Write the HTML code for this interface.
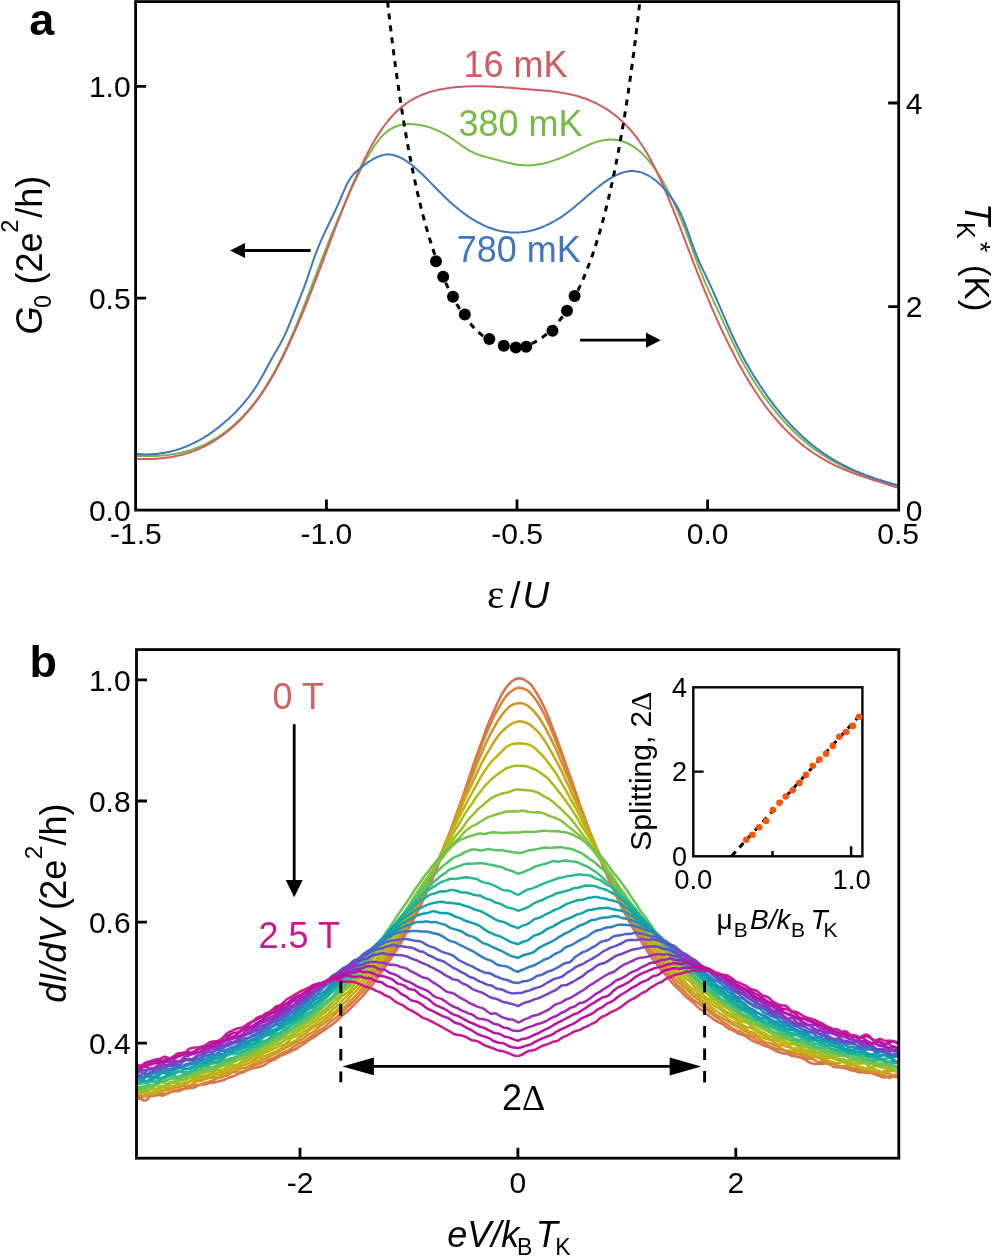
<!DOCTYPE html><html><head><meta charset="utf-8"><title>Figure</title><style>html,body{margin:0;padding:0;background:#fff;}svg{display:block;will-change:transform;font-family:"Liberation Sans",sans-serif;}</style></head><body>
<svg width="992" height="1256" viewBox="0 0 992 1256">
<rect width="992" height="1256" fill="#fff"/>
<g fill="none" stroke-width="2" stroke-linejoin="round">
<path d="M137.0 455.9 L138.5 456.0 L140.0 456.0 L141.5 456.1 L143.0 456.1 L144.5 456.1 L146.0 456.1 L147.5 456.1 L149.0 456.1 L150.5 456.1 L152.0 456.0 L153.5 456.0 L155.0 455.9 L156.5 455.9 L158.0 455.8 L159.5 455.7 L161.0 455.6 L162.5 455.5 L164.0 455.3 L165.5 455.2 L167.0 455.0 L168.5 454.8 L170.0 454.6 L171.5 454.4 L173.0 454.2 L174.5 453.9 L176.0 453.7 L177.5 453.4 L179.0 453.1 L180.5 452.7 L182.0 452.4 L183.5 452.0 L185.0 451.7 L186.5 451.3 L188.0 450.8 L189.5 450.4 L191.0 449.9 L192.5 449.4 L194.0 448.9 L195.5 448.3 L197.0 447.8 L198.5 447.2 L200.0 446.6 L201.5 445.9 L203.0 445.3 L204.5 444.6 L206.0 443.8 L207.5 443.1 L209.0 442.3 L210.5 441.5 L212.0 440.7 L213.5 439.8 L215.0 438.9 L216.5 438.0 L218.0 437.0 L219.5 436.1 L221.0 435.0 L222.5 434.0 L224.0 432.9 L225.5 431.8 L227.0 430.6 L228.5 429.5 L230.0 428.2 L231.5 427.0 L233.0 425.7 L234.5 424.4 L236.0 423.0 L237.5 421.6 L239.0 420.2 L240.5 418.7 L242.0 417.2 L243.5 415.6 L245.0 414.0 L246.5 412.4 L248.0 410.7 L249.5 408.9 L251.0 407.1 L252.5 405.3 L254.0 403.4 L255.5 401.5 L257.0 399.5 L258.5 397.4 L260.0 395.3 L261.5 393.1 L263.0 390.9 L264.5 388.6 L266.0 386.2 L267.5 383.8 L269.0 381.3 L270.5 378.7 L272.0 376.1 L273.5 373.5 L275.0 370.7 L276.5 367.9 L278.0 365.0 L279.5 362.1 L281.0 359.1 L282.5 356.1 L284.0 353.0 L285.5 349.8 L287.0 346.6 L288.5 343.3 L290.0 339.9 L291.5 336.5 L293.0 333.1 L294.5 329.6 L296.0 326.0 L297.5 322.4 L299.0 318.7 L300.5 315.0 L302.0 311.2 L303.5 307.4 L305.0 303.5 L306.5 299.6 L308.0 295.7 L309.5 291.8 L311.0 287.9 L312.5 283.9 L314.0 279.9 L315.5 276.0 L317.0 272.0 L318.5 268.1 L320.0 264.1 L321.5 260.2 L323.0 256.3 L324.5 252.4 L326.0 248.5 L327.5 244.7 L329.0 240.9 L330.5 237.2 L332.0 233.5 L333.5 229.9 L335.0 226.3 L336.5 222.8 L338.0 219.2 L339.5 215.8 L341.0 212.3 L342.5 208.9 L344.0 205.5 L345.5 202.1 L347.0 198.8 L348.5 195.5 L350.0 192.2 L351.5 188.9 L353.0 185.7 L354.5 182.5 L356.0 179.3 L357.5 176.2 L359.0 173.2 L360.5 170.2 L362.0 167.2 L363.5 164.3 L365.0 161.5 L366.5 158.8 L368.0 156.2 L369.5 153.6 L371.0 151.2 L372.5 148.8 L374.0 146.5 L375.5 144.3 L377.0 142.3 L378.5 140.3 L380.0 138.5 L381.5 136.8 L383.0 135.2 L384.5 133.8 L386.0 132.4 L387.5 131.2 L389.0 130.1 L390.5 129.2 L392.0 128.3 L393.5 127.5 L395.0 126.8 L396.5 126.2 L398.0 125.7 L399.5 125.2 L401.0 124.9 L402.5 124.6 L404.0 124.4 L405.5 124.2 L407.0 124.1 L408.5 124.1 L410.0 124.1 L411.5 124.1 L413.0 124.2 L414.5 124.4 L416.0 124.5 L417.5 124.7 L419.0 124.9 L420.5 125.2 L422.0 125.5 L423.5 125.8 L425.0 126.1 L426.5 126.5 L428.0 126.9 L429.5 127.4 L431.0 127.9 L432.5 128.4 L434.0 129.0 L435.5 129.6 L437.0 130.2 L438.5 130.9 L440.0 131.6 L441.5 132.3 L443.0 133.1 L444.5 133.9 L446.0 134.8 L447.5 135.7 L449.0 136.6 L450.5 137.6 L452.0 138.6 L453.5 139.6 L455.0 140.7 L456.5 141.8 L458.0 142.9 L459.5 143.9 L461.0 145.0 L462.5 146.1 L464.0 147.1 L465.5 148.1 L467.0 149.1 L468.5 150.0 L470.0 150.9 L471.5 151.7 L473.0 152.4 L474.5 153.1 L476.0 153.7 L477.5 154.3 L479.0 154.9 L480.5 155.3 L482.0 155.8 L483.5 156.2 L485.0 156.7 L486.5 157.1 L488.0 157.5 L489.5 157.9 L491.0 158.3 L492.5 158.7 L494.0 159.1 L495.5 159.5 L497.0 159.9 L498.5 160.3 L500.0 160.7 L501.5 161.1 L503.0 161.5 L504.5 161.9 L506.0 162.3 L507.5 162.6 L509.0 163.0 L510.5 163.3 L512.0 163.6 L513.5 163.9 L515.0 164.2 L516.5 164.4 L518.0 164.7 L519.5 164.9 L521.0 165.0 L522.5 165.2 L524.0 165.3 L525.5 165.3 L527.0 165.4 L528.5 165.4 L530.0 165.3 L531.5 165.3 L533.0 165.1 L534.5 165.0 L536.0 164.8 L537.5 164.6 L539.0 164.4 L540.5 164.1 L542.0 163.8 L543.5 163.5 L545.0 163.1 L546.5 162.7 L548.0 162.3 L549.5 161.9 L551.0 161.4 L552.5 161.0 L554.0 160.4 L555.5 159.9 L557.0 159.4 L558.5 158.8 L560.0 158.2 L561.5 157.6 L563.0 157.0 L564.5 156.4 L566.0 155.7 L567.5 155.0 L569.0 154.4 L570.5 153.7 L572.0 153.0 L573.5 152.2 L575.0 151.5 L576.5 150.8 L578.0 150.0 L579.5 149.3 L581.0 148.5 L582.5 147.8 L584.0 147.1 L585.5 146.4 L587.0 145.7 L588.5 145.0 L590.0 144.4 L591.5 143.7 L593.0 143.2 L594.5 142.6 L596.0 142.1 L597.5 141.6 L599.0 141.2 L600.5 140.9 L602.0 140.5 L603.5 140.2 L605.0 140.0 L606.5 139.8 L608.0 139.7 L609.5 139.6 L611.0 139.6 L612.5 139.6 L614.0 139.7 L615.5 139.9 L617.0 140.1 L618.5 140.4 L620.0 140.7 L621.5 141.1 L623.0 141.5 L624.5 142.1 L626.0 142.7 L627.5 143.3 L629.0 144.0 L630.5 144.8 L632.0 145.7 L633.5 146.7 L635.0 147.7 L636.5 148.8 L638.0 150.0 L639.5 151.2 L641.0 152.5 L642.5 154.0 L644.0 155.5 L645.5 157.0 L647.0 158.7 L648.5 160.4 L650.0 162.3 L651.5 164.2 L653.0 166.2 L654.5 168.3 L656.0 170.4 L657.5 172.7 L659.0 175.0 L660.5 177.4 L662.0 180.0 L663.5 182.6 L665.0 185.2 L666.5 188.0 L668.0 190.9 L669.5 193.8 L671.0 196.8 L672.5 199.9 L674.0 203.1 L675.5 206.4 L677.0 209.8 L678.5 213.2 L680.0 216.8 L681.5 220.4 L683.0 224.1 L684.5 227.9 L686.0 231.8 L687.5 235.7 L689.0 239.7 L690.5 243.9 L692.0 248.0 L693.5 252.3 L695.0 256.5 L696.5 260.6 L698.0 264.7 L699.5 268.7 L701.0 272.5 L702.5 276.2 L704.0 279.8 L705.5 283.3 L707.0 286.7 L708.5 290.1 L710.0 293.3 L711.5 296.6 L713.0 299.8 L714.5 303.0 L716.0 306.2 L717.5 309.4 L719.0 312.6 L720.5 315.8 L722.0 319.1 L723.5 322.4 L725.0 325.7 L726.5 328.9 L728.0 332.2 L729.5 335.5 L731.0 338.7 L732.5 341.9 L734.0 345.0 L735.5 348.1 L737.0 351.1 L738.5 354.1 L740.0 357.0 L741.5 359.9 L743.0 362.6 L744.5 365.4 L746.0 368.0 L747.5 370.6 L749.0 373.2 L750.5 375.7 L752.0 378.1 L753.5 380.5 L755.0 382.9 L756.5 385.2 L758.0 387.5 L759.5 389.8 L761.0 392.0 L762.5 394.2 L764.0 396.3 L765.5 398.4 L767.0 400.4 L768.5 402.5 L770.0 404.5 L771.5 406.4 L773.0 408.3 L774.5 410.2 L776.0 412.1 L777.5 413.9 L779.0 415.7 L780.5 417.4 L782.0 419.1 L783.5 420.8 L785.0 422.5 L786.5 424.1 L788.0 425.7 L789.5 427.3 L791.0 428.8 L792.5 430.3 L794.0 431.8 L795.5 433.2 L797.0 434.6 L798.5 436.0 L800.0 437.4 L801.5 438.7 L803.0 440.0 L804.5 441.3 L806.0 442.6 L807.5 443.8 L809.0 445.0 L810.5 446.2 L812.0 447.3 L813.5 448.5 L815.0 449.6 L816.5 450.7 L818.0 451.7 L819.5 452.8 L821.0 453.8 L822.5 454.8 L824.0 455.7 L825.5 456.7 L827.0 457.6 L828.5 458.5 L830.0 459.4 L831.5 460.3 L833.0 461.2 L834.5 462.0 L836.0 462.8 L837.5 463.6 L839.0 464.4 L840.5 465.2 L842.0 465.9 L843.5 466.6 L845.0 467.4 L846.5 468.1 L848.0 468.7 L849.5 469.4 L851.0 470.1 L852.5 470.7 L854.0 471.3 L855.5 472.0 L857.0 472.6 L858.5 473.2 L860.0 473.7 L861.5 474.3 L863.0 474.9 L864.5 475.4 L866.0 476.0 L867.5 476.5 L869.0 477.0 L870.5 477.5 L872.0 478.0 L873.5 478.5 L875.0 479.0 L876.5 479.5 L878.0 480.0 L879.5 480.4 L881.0 480.9 L882.5 481.3 L884.0 481.8 L885.5 482.2 L887.0 482.7 L888.5 483.1 L890.0 483.5 L891.5 484.0 L893.0 484.4 L894.5 484.8 L896.0 485.2 L897.5 485.6" stroke="#74bb45"/>
<path d="M137.0 459.0 L138.5 459.0 L140.0 459.1 L141.5 459.1 L143.0 459.1 L144.5 459.1 L146.0 459.1 L147.5 459.1 L149.0 459.0 L150.5 459.0 L152.0 458.9 L153.5 458.9 L155.0 458.8 L156.5 458.7 L158.0 458.6 L159.5 458.5 L161.0 458.3 L162.5 458.2 L164.0 458.0 L165.5 457.8 L167.0 457.6 L168.5 457.4 L170.0 457.2 L171.5 457.0 L173.0 456.7 L174.5 456.4 L176.0 456.1 L177.5 455.8 L179.0 455.4 L180.5 455.1 L182.0 454.7 L183.5 454.3 L185.0 453.9 L186.5 453.4 L188.0 453.0 L189.5 452.5 L191.0 452.0 L192.5 451.4 L194.0 450.9 L195.5 450.3 L197.0 449.7 L198.5 449.1 L200.0 448.4 L201.5 447.7 L203.0 447.0 L204.5 446.3 L206.0 445.5 L207.5 444.7 L209.0 443.9 L210.5 443.1 L212.0 442.2 L213.5 441.3 L215.0 440.4 L216.5 439.4 L218.0 438.4 L219.5 437.4 L221.0 436.3 L222.5 435.3 L224.0 434.1 L225.5 433.0 L227.0 431.8 L228.5 430.6 L230.0 429.4 L231.5 428.1 L233.0 426.8 L234.5 425.4 L236.0 424.0 L237.5 422.6 L239.0 421.2 L240.5 419.7 L242.0 418.1 L243.5 416.5 L245.0 414.9 L246.5 413.3 L248.0 411.6 L249.5 409.8 L251.0 408.0 L252.5 406.2 L254.0 404.3 L255.5 402.3 L257.0 400.3 L258.5 398.3 L260.0 396.2 L261.5 394.0 L263.0 391.8 L264.5 389.5 L266.0 387.2 L267.5 384.8 L269.0 382.4 L270.5 379.9 L272.0 377.3 L273.5 374.7 L275.0 372.0 L276.5 369.2 L278.0 366.5 L279.5 363.6 L281.0 360.7 L282.5 357.7 L284.0 354.7 L285.5 351.6 L287.0 348.5 L288.5 345.4 L290.0 342.1 L291.5 338.9 L293.0 335.5 L294.5 332.2 L296.0 328.7 L297.5 325.3 L299.0 321.7 L300.5 318.2 L302.0 314.6 L303.5 310.9 L305.0 307.2 L306.5 303.5 L308.0 299.8 L309.5 296.0 L311.0 292.1 L312.5 288.3 L314.0 284.4 L315.5 280.5 L317.0 276.6 L318.5 272.7 L320.0 268.8 L321.5 264.8 L323.0 260.8 L324.5 256.9 L326.0 252.9 L327.5 248.9 L329.0 244.9 L330.5 240.9 L332.0 236.9 L333.5 232.9 L335.0 229.0 L336.5 225.0 L338.0 221.1 L339.5 217.2 L341.0 213.3 L342.5 209.5 L344.0 205.7 L345.5 201.9 L347.0 198.2 L348.5 194.5 L350.0 190.9 L351.5 187.4 L353.0 183.9 L354.5 180.4 L356.0 177.1 L357.5 173.7 L359.0 170.5 L360.5 167.3 L362.0 164.1 L363.5 161.1 L365.0 158.1 L366.5 155.1 L368.0 152.2 L369.5 149.4 L371.0 146.7 L372.5 144.0 L374.0 141.5 L375.5 138.9 L377.0 136.5 L378.5 134.1 L380.0 131.9 L381.5 129.7 L383.0 127.5 L384.5 125.5 L386.0 123.5 L387.5 121.6 L389.0 119.8 L390.5 118.0 L392.0 116.3 L393.5 114.7 L395.0 113.2 L396.5 111.7 L398.0 110.3 L399.5 108.9 L401.0 107.6 L402.5 106.4 L404.0 105.2 L405.5 104.0 L407.0 103.0 L408.5 101.9 L410.0 101.0 L411.5 100.0 L413.0 99.2 L414.5 98.3 L416.0 97.5 L417.5 96.8 L419.0 96.1 L420.5 95.4 L422.0 94.8 L423.5 94.2 L425.0 93.6 L426.5 93.1 L428.0 92.6 L429.5 92.1 L431.0 91.7 L432.5 91.3 L434.0 90.9 L435.5 90.5 L437.0 90.2 L438.5 89.8 L440.0 89.5 L441.5 89.2 L443.0 89.0 L444.5 88.7 L446.0 88.5 L447.5 88.2 L449.0 88.0 L450.5 87.8 L452.0 87.6 L453.5 87.5 L455.0 87.3 L456.5 87.1 L458.0 87.0 L459.5 86.9 L461.0 86.8 L462.5 86.7 L464.0 86.6 L465.5 86.5 L467.0 86.4 L468.5 86.4 L470.0 86.3 L471.5 86.3 L473.0 86.3 L474.5 86.2 L476.0 86.2 L477.5 86.2 L479.0 86.2 L480.5 86.2 L482.0 86.3 L483.5 86.3 L485.0 86.3 L486.5 86.4 L488.0 86.4 L489.5 86.5 L491.0 86.5 L492.5 86.6 L494.0 86.7 L495.5 86.8 L497.0 86.9 L498.5 87.0 L500.0 87.0 L501.5 87.1 L503.0 87.2 L504.5 87.4 L506.0 87.5 L507.5 87.6 L509.0 87.7 L510.5 87.8 L512.0 87.9 L513.5 88.0 L515.0 88.2 L516.5 88.3 L518.0 88.4 L519.5 88.5 L521.0 88.7 L522.5 88.8 L524.0 88.9 L525.5 89.1 L527.0 89.2 L528.5 89.3 L530.0 89.4 L531.5 89.6 L533.0 89.7 L534.5 89.8 L536.0 89.9 L537.5 90.0 L539.0 90.2 L540.5 90.3 L542.0 90.4 L543.5 90.5 L545.0 90.7 L546.5 90.8 L548.0 91.0 L549.5 91.1 L551.0 91.3 L552.5 91.5 L554.0 91.6 L555.5 91.8 L557.0 92.0 L558.5 92.3 L560.0 92.5 L561.5 92.7 L563.0 93.0 L564.5 93.2 L566.0 93.5 L567.5 93.8 L569.0 94.1 L570.5 94.4 L572.0 94.8 L573.5 95.1 L575.0 95.5 L576.5 95.9 L578.0 96.3 L579.5 96.8 L581.0 97.3 L582.5 97.7 L584.0 98.2 L585.5 98.8 L587.0 99.3 L588.5 99.9 L590.0 100.5 L591.5 101.2 L593.0 101.8 L594.5 102.5 L596.0 103.2 L597.5 104.0 L599.0 104.8 L600.5 105.6 L602.0 106.4 L603.5 107.3 L605.0 108.2 L606.5 109.2 L608.0 110.2 L609.5 111.2 L611.0 112.2 L612.5 113.3 L614.0 114.4 L615.5 115.6 L617.0 116.8 L618.5 118.1 L620.0 119.4 L621.5 120.7 L623.0 122.1 L624.5 123.6 L626.0 125.1 L627.5 126.7 L629.0 128.3 L630.5 130.0 L632.0 131.7 L633.5 133.6 L635.0 135.4 L636.5 137.4 L638.0 139.4 L639.5 141.5 L641.0 143.7 L642.5 146.0 L644.0 148.3 L645.5 150.7 L647.0 153.2 L648.5 155.8 L650.0 158.5 L651.5 161.3 L653.0 164.1 L654.5 167.1 L656.0 170.1 L657.5 173.2 L659.0 176.4 L660.5 179.7 L662.0 183.0 L663.5 186.4 L665.0 189.9 L666.5 193.4 L668.0 197.0 L669.5 200.6 L671.0 204.3 L672.5 208.0 L674.0 211.8 L675.5 215.6 L677.0 219.4 L678.5 223.3 L680.0 227.2 L681.5 231.1 L683.0 235.0 L684.5 238.9 L686.0 242.9 L687.5 246.8 L689.0 250.8 L690.5 254.7 L692.0 258.7 L693.5 262.6 L695.0 266.5 L696.5 270.3 L698.0 274.1 L699.5 277.9 L701.0 281.7 L702.5 285.4 L704.0 289.1 L705.5 292.8 L707.0 296.4 L708.5 299.9 L710.0 303.5 L711.5 307.0 L713.0 310.4 L714.5 313.8 L716.0 317.2 L717.5 320.6 L719.0 323.9 L720.5 327.1 L722.0 330.3 L723.5 333.5 L725.0 336.7 L726.5 339.8 L728.0 342.8 L729.5 345.9 L731.0 348.8 L732.5 351.8 L734.0 354.7 L735.5 357.6 L737.0 360.4 L738.5 363.2 L740.0 365.9 L741.5 368.6 L743.0 371.2 L744.5 373.9 L746.0 376.4 L747.5 379.0 L749.0 381.5 L750.5 383.9 L752.0 386.3 L753.5 388.7 L755.0 391.0 L756.5 393.3 L758.0 395.5 L759.5 397.7 L761.0 399.9 L762.5 402.0 L764.0 404.1 L765.5 406.1 L767.0 408.1 L768.5 410.0 L770.0 412.0 L771.5 413.8 L773.0 415.7 L774.5 417.5 L776.0 419.2 L777.5 421.0 L779.0 422.7 L780.5 424.3 L782.0 426.0 L783.5 427.5 L785.0 429.1 L786.5 430.6 L788.0 432.1 L789.5 433.6 L791.0 435.0 L792.5 436.4 L794.0 437.8 L795.5 439.1 L797.0 440.4 L798.5 441.7 L800.0 443.0 L801.5 444.2 L803.0 445.4 L804.5 446.5 L806.0 447.7 L807.5 448.8 L809.0 449.9 L810.5 451.0 L812.0 452.0 L813.5 453.0 L815.0 454.0 L816.5 455.0 L818.0 455.9 L819.5 456.9 L821.0 457.8 L822.5 458.7 L824.0 459.5 L825.5 460.4 L827.0 461.2 L828.5 462.0 L830.0 462.8 L831.5 463.6 L833.0 464.3 L834.5 465.1 L836.0 465.8 L837.5 466.5 L839.0 467.2 L840.5 467.9 L842.0 468.5 L843.5 469.2 L845.0 469.8 L846.5 470.4 L848.0 471.0 L849.5 471.6 L851.0 472.2 L852.5 472.8 L854.0 473.4 L855.5 473.9 L857.0 474.5 L858.5 475.0 L860.0 475.5 L861.5 476.1 L863.0 476.6 L864.5 477.1 L866.0 477.6 L867.5 478.1 L869.0 478.6 L870.5 479.1 L872.0 479.5 L873.5 480.0 L875.0 480.5 L876.5 481.0 L878.0 481.4 L879.5 481.9 L881.0 482.4 L882.5 482.9 L884.0 483.3 L885.5 483.8 L887.0 484.3 L888.5 484.7 L890.0 485.2 L891.5 485.7 L893.0 486.2 L894.5 486.6 L896.0 487.1 L897.5 487.6" stroke="#d25a60"/>
<path d="M137.0 454.0 L138.5 454.1 L140.0 454.2 L141.5 454.3 L143.0 454.3 L144.5 454.4 L146.0 454.4 L147.5 454.4 L149.0 454.3 L150.5 454.3 L152.0 454.2 L153.5 454.1 L155.0 454.0 L156.5 453.9 L158.0 453.7 L159.5 453.5 L161.0 453.3 L162.5 453.1 L164.0 452.9 L165.5 452.6 L167.0 452.3 L168.5 452.0 L170.0 451.7 L171.5 451.3 L173.0 450.9 L174.5 450.5 L176.0 450.1 L177.5 449.6 L179.0 449.1 L180.5 448.6 L182.0 448.1 L183.5 447.5 L185.0 447.0 L186.5 446.4 L188.0 445.7 L189.5 445.1 L191.0 444.4 L192.5 443.7 L194.0 443.0 L195.5 442.2 L197.0 441.4 L198.5 440.6 L200.0 439.8 L201.5 438.9 L203.0 438.1 L204.5 437.2 L206.0 436.2 L207.5 435.3 L209.0 434.3 L210.5 433.2 L212.0 432.2 L213.5 431.1 L215.0 430.0 L216.5 428.9 L218.0 427.7 L219.5 426.6 L221.0 425.3 L222.5 424.1 L224.0 422.8 L225.5 421.5 L227.0 420.2 L228.5 418.9 L230.0 417.5 L231.5 416.1 L233.0 414.6 L234.5 413.2 L236.0 411.7 L237.5 410.1 L239.0 408.5 L240.5 406.9 L242.0 405.2 L243.5 403.5 L245.0 401.7 L246.5 399.9 L248.0 398.0 L249.5 396.1 L251.0 394.0 L252.5 391.9 L254.0 389.8 L255.5 387.5 L257.0 385.2 L258.5 382.8 L260.0 380.2 L261.5 377.6 L263.0 374.9 L264.5 372.2 L266.0 369.3 L267.5 366.5 L269.0 363.7 L270.5 360.9 L272.0 358.2 L273.5 355.6 L275.0 353.1 L276.5 350.5 L278.0 347.9 L279.5 345.2 L281.0 342.5 L282.5 339.6 L284.0 336.6 L285.5 333.3 L287.0 330.0 L288.5 326.5 L290.0 322.9 L291.5 319.2 L293.0 315.5 L294.5 311.7 L296.0 307.9 L297.5 304.1 L299.0 300.3 L300.5 296.5 L302.0 292.7 L303.5 288.8 L305.0 284.8 L306.5 280.6 L308.0 276.3 L309.5 271.8 L311.0 267.3 L312.5 262.8 L314.0 258.5 L315.5 254.4 L317.0 250.4 L318.5 246.7 L320.0 243.1 L321.5 239.6 L323.0 236.3 L324.5 233.0 L326.0 229.8 L327.5 226.7 L329.0 223.6 L330.5 220.5 L332.0 217.4 L333.5 214.3 L335.0 211.1 L336.5 207.9 L338.0 204.6 L339.5 201.2 L341.0 197.8 L342.5 194.2 L344.0 190.7 L345.5 187.3 L347.0 184.2 L348.5 181.4 L350.0 178.9 L351.5 176.8 L353.0 174.9 L354.5 173.2 L356.0 171.8 L357.5 170.4 L359.0 169.2 L360.5 168.0 L362.0 166.8 L363.5 165.7 L365.0 164.6 L366.5 163.5 L368.0 162.4 L369.5 161.4 L371.0 160.5 L372.5 159.6 L374.0 158.7 L375.5 157.9 L377.0 157.2 L378.5 156.6 L380.0 156.0 L381.5 155.5 L383.0 155.1 L384.5 154.8 L386.0 154.6 L387.5 154.5 L389.0 154.5 L390.5 154.6 L392.0 154.8 L393.5 155.1 L395.0 155.5 L396.5 156.0 L398.0 156.6 L399.5 157.2 L401.0 157.9 L402.5 158.7 L404.0 159.6 L405.5 160.5 L407.0 161.5 L408.5 162.6 L410.0 163.7 L411.5 164.8 L413.0 166.0 L414.5 167.3 L416.0 168.6 L417.5 169.9 L419.0 171.3 L420.5 172.7 L422.0 174.1 L423.5 175.5 L425.0 177.0 L426.5 178.5 L428.0 180.0 L429.5 181.6 L431.0 183.1 L432.5 184.6 L434.0 186.2 L435.5 187.7 L437.0 189.2 L438.5 190.8 L440.0 192.3 L441.5 193.8 L443.0 195.3 L444.5 196.7 L446.0 198.2 L447.5 199.6 L449.0 201.0 L450.5 202.3 L452.0 203.7 L453.5 205.0 L455.0 206.3 L456.5 207.5 L458.0 208.8 L459.5 210.0 L461.0 211.1 L462.5 212.3 L464.0 213.4 L465.5 214.5 L467.0 215.6 L468.5 216.6 L470.0 217.6 L471.5 218.6 L473.0 219.5 L474.5 220.4 L476.0 221.3 L477.5 222.1 L479.0 223.0 L480.5 223.7 L482.0 224.5 L483.5 225.2 L485.0 225.9 L486.5 226.6 L488.0 227.2 L489.5 227.8 L491.0 228.3 L492.5 228.8 L494.0 229.3 L495.5 229.8 L497.0 230.2 L498.5 230.6 L500.0 230.9 L501.5 231.2 L503.0 231.5 L504.5 231.8 L506.0 232.0 L507.5 232.1 L509.0 232.3 L510.5 232.4 L512.0 232.5 L513.5 232.5 L515.0 232.5 L516.5 232.5 L518.0 232.5 L519.5 232.4 L521.0 232.3 L522.5 232.1 L524.0 231.9 L525.5 231.7 L527.0 231.5 L528.5 231.2 L530.0 230.9 L531.5 230.5 L533.0 230.1 L534.5 229.7 L536.0 229.3 L537.5 228.8 L539.0 228.3 L540.5 227.7 L542.0 227.2 L543.5 226.5 L545.0 225.9 L546.5 225.2 L548.0 224.5 L549.5 223.8 L551.0 223.0 L552.5 222.2 L554.0 221.4 L555.5 220.5 L557.0 219.6 L558.5 218.7 L560.0 217.8 L561.5 216.8 L563.0 215.8 L564.5 214.7 L566.0 213.6 L567.5 212.5 L569.0 211.4 L570.5 210.2 L572.0 209.0 L573.5 207.8 L575.0 206.6 L576.5 205.3 L578.0 204.0 L579.5 202.8 L581.0 201.5 L582.5 200.2 L584.0 198.9 L585.5 197.6 L587.0 196.3 L588.5 195.0 L590.0 193.7 L591.5 192.4 L593.0 191.2 L594.5 189.9 L596.0 188.7 L597.5 187.5 L599.0 186.3 L600.5 185.1 L602.0 184.0 L603.5 182.9 L605.0 181.8 L606.5 180.8 L608.0 179.8 L609.5 178.8 L611.0 177.9 L612.5 177.1 L614.0 176.2 L615.5 175.5 L617.0 174.8 L618.5 174.1 L620.0 173.5 L621.5 173.0 L623.0 172.5 L624.5 172.1 L626.0 171.7 L627.5 171.5 L629.0 171.3 L630.5 171.1 L632.0 171.1 L633.5 171.1 L635.0 171.2 L636.5 171.4 L638.0 171.7 L639.5 172.0 L641.0 172.4 L642.5 172.9 L644.0 173.5 L645.5 174.1 L647.0 174.8 L648.5 175.6 L650.0 176.5 L651.5 177.5 L653.0 178.5 L654.5 179.6 L656.0 180.8 L657.5 182.1 L659.0 183.5 L660.5 184.9 L662.0 186.4 L663.5 188.0 L665.0 189.7 L666.5 191.5 L668.0 193.3 L669.5 195.3 L671.0 197.3 L672.5 199.4 L674.0 201.6 L675.5 204.0 L677.0 206.5 L678.5 209.1 L680.0 212.1 L681.5 215.2 L683.0 218.6 L684.5 222.3 L686.0 226.3 L687.5 230.5 L689.0 234.7 L690.5 239.1 L692.0 243.3 L693.5 247.5 L695.0 251.5 L696.5 255.2 L698.0 258.8 L699.5 262.3 L701.0 265.6 L702.5 268.8 L704.0 271.9 L705.5 275.1 L707.0 278.2 L708.5 281.4 L710.0 284.6 L711.5 287.9 L713.0 291.2 L714.5 294.6 L716.0 298.0 L717.5 301.4 L719.0 304.9 L720.5 308.3 L722.0 311.8 L723.5 315.3 L725.0 318.7 L726.5 322.2 L728.0 325.6 L729.5 329.0 L731.0 332.3 L732.5 335.6 L734.0 338.9 L735.5 342.1 L737.0 345.2 L738.5 348.2 L740.0 351.2 L741.5 354.1 L743.0 356.9 L744.5 359.7 L746.0 362.4 L747.5 365.0 L749.0 367.6 L750.5 370.2 L752.0 372.7 L753.5 375.2 L755.0 377.6 L756.5 380.0 L758.0 382.3 L759.5 384.7 L761.0 386.9 L762.5 389.2 L764.0 391.4 L765.5 393.5 L767.0 395.7 L768.5 397.8 L770.0 399.8 L771.5 401.9 L773.0 403.8 L774.5 405.8 L776.0 407.7 L777.5 409.6 L779.0 411.5 L780.5 413.3 L782.0 415.1 L783.5 416.8 L785.0 418.6 L786.5 420.3 L788.0 421.9 L789.5 423.6 L791.0 425.2 L792.5 426.7 L794.0 428.3 L795.5 429.8 L797.0 431.3 L798.5 432.8 L800.0 434.2 L801.5 435.6 L803.0 437.0 L804.5 438.3 L806.0 439.6 L807.5 440.9 L809.0 442.2 L810.5 443.5 L812.0 444.7 L813.5 445.9 L815.0 447.0 L816.5 448.2 L818.0 449.3 L819.5 450.4 L821.0 451.5 L822.5 452.6 L824.0 453.6 L825.5 454.6 L827.0 455.6 L828.5 456.6 L830.0 457.5 L831.5 458.5 L833.0 459.4 L834.5 460.3 L836.0 461.1 L837.5 462.0 L839.0 462.8 L840.5 463.6 L842.0 464.4 L843.5 465.2 L845.0 466.0 L846.5 466.7 L848.0 467.5 L849.5 468.2 L851.0 468.9 L852.5 469.6 L854.0 470.3 L855.5 470.9 L857.0 471.6 L858.5 472.2 L860.0 472.8 L861.5 473.4 L863.0 474.0 L864.5 474.6 L866.0 475.2 L867.5 475.7 L869.0 476.3 L870.5 476.8 L872.0 477.3 L873.5 477.9 L875.0 478.4 L876.5 478.9 L878.0 479.4 L879.5 479.8 L881.0 480.3 L882.5 480.8 L884.0 481.3 L885.5 481.7 L887.0 482.2 L888.5 482.6 L890.0 483.0 L891.5 483.5 L893.0 483.9 L894.5 484.3 L896.0 484.7 L897.5 485.1" stroke="#3f76bd"/>
</g>
<defs><clipPath id="ca"><rect x="136.9" y="2.9" width="760.5" height="505.9"/></clipPath></defs>
<g clip-path="url(#ca)" fill="none" stroke="#000" stroke-width="3" stroke-dasharray="6 6"><path d="M387.1 -3.0 L387.5 0.8 L387.9 4.6 L388.3 8.4 L388.8 12.1 L389.2 15.8 L389.6 19.5 L390.0 23.1 L390.4 26.6 L390.9 30.2 L391.3 33.7 L391.7 37.1 L392.1 40.5 L392.6 43.9 L393.0 47.3 L393.4 50.6 L393.8 53.9 L394.3 57.1 L394.7 60.3 L395.1 63.5 L395.5 66.7 L396.0 69.8 L396.4 72.9 L396.8 75.9 L397.2 78.9 L397.6 81.9 L398.1 84.9 L398.5 87.8 L398.9 90.7 L399.3 93.6 L399.8 96.4 L400.2 99.2 L400.6 102.0 L401.0 104.8 L401.5 107.5 L401.9 110.2 L402.3 112.9 L402.7 115.5 L403.1 118.1 L403.6 120.7 L404.0 123.3 L404.4 125.8 L404.8 128.3 L405.3 130.8 L405.7 133.3 L406.1 135.7 L406.5 138.1 L407.0 140.5 L407.4 142.9 L407.8 145.2 L408.2 147.5 L408.7 149.8 L409.1 152.1 L409.5 154.3 L409.9 156.5 L410.3 158.7 L410.8 160.9 L411.2 163.1 L411.6 165.2 L412.0 167.3 L412.5 169.4 L412.9 171.5 L413.3 173.5 L413.7 175.6 L414.2 177.6 L414.6 179.6 L415.0 181.5 L415.4 183.5 L415.9 185.4 L416.3 187.3 L416.7 189.2 L417.1 191.1 L417.5 192.9 L418.0 194.8 L418.4 196.6 L418.8 198.4 L419.2 200.2 L419.7 201.9 L420.1 203.7 L420.5 205.4 L420.9 207.1 L421.4 208.8 L421.8 210.5 L422.2 212.2 L422.6 213.8 L423.0 215.4 L423.5 217.1 L423.9 218.6 L424.3 220.2 L424.7 221.8 L425.2 223.3 L425.6 224.9 L426.0 226.4 L426.4 227.9 L426.9 229.4 L427.3 230.9 L427.7 232.3 L428.1 233.8 L428.6 235.2 L429.0 236.6 L429.4 238.0 L429.8 239.4 L430.2 240.8 L430.7 242.1 L431.1 243.5 L431.5 244.8 L431.9 246.1 L432.4 247.5 L432.8 248.7 L433.2 250.0 L433.6 251.3 L434.1 252.6 L434.5 253.8 L434.9 255.0 L435.3 256.3 L435.7 257.5 L436.2 258.7 L436.6 259.8 L437.0 261.0 L437.4 262.2 L437.9 263.3 L438.3 264.5 L438.7 265.6 L439.1 266.7 L439.6 267.8 L440.0 268.9 L440.4 270.0 L440.8 271.0 L441.3 272.1 L441.7 273.1 L442.1 274.2 L442.5 275.2 L442.9 276.2 L443.4 277.2 L443.8 278.2 L444.2 279.2 L444.6 280.2 L445.1 281.2 L445.5 282.1 L445.9 283.1 L446.3 284.0 L446.8 284.9 L447.2 285.9 L447.6 286.8 L448.0 287.7 L448.4 288.6 L448.9 289.4 L449.3 290.3 L449.7 291.2 L450.1 292.0 L450.6 292.9 L451.0 293.7 L451.4 294.5 L451.8 295.3 L452.3 296.2 L452.7 297.0 L453.1 297.8 L453.5 298.5 L454.0 299.3 L454.4 300.1 L454.8 300.8 L455.2 301.6 L455.6 302.3 L456.1 303.1 L456.5 303.8 L456.9 304.5 L457.3 305.2 L457.8 305.9 L458.2 306.6 L458.6 307.3 L459.0 308.0 L459.5 308.7 L459.9 309.4 L460.3 310.0 L460.7 310.7 L461.1 311.3 L461.6 312.0 L462.0 312.6 L462.4 313.2 L462.8 313.8 L463.3 314.4 L463.7 315.0 L464.1 315.6 L464.5 316.2 L465.0 316.8 L465.4 317.4 L465.8 318.0 L466.2 318.5 L466.7 319.1 L467.1 319.6 L467.5 320.2 L467.9 320.7 L468.3 321.2 L468.8 321.8 L469.2 322.3 L469.6 322.8 L470.0 323.3 L470.5 323.8 L470.9 324.3 L471.3 324.8 L471.7 325.3 L472.2 325.7 L472.6 326.2 L473.0 326.7 L473.4 327.1 L473.9 327.6 L474.3 328.0 L474.7 328.5 L475.1 328.9 L475.5 329.3 L476.0 329.7 L476.4 330.2 L476.8 330.6 L477.2 331.0 L477.7 331.4 L478.1 331.8 L478.5 332.2 L478.9 332.5 L479.4 332.9 L479.8 333.3 L480.2 333.7 L480.6 334.0 L481.0 334.4 L481.5 334.7 L481.9 335.1 L482.3 335.4 L482.7 335.8 L483.2 336.1 L483.6 336.4 L484.0 336.7 L484.4 337.0 L484.9 337.4 L485.3 337.7 L485.7 338.0 L486.1 338.3 L486.6 338.5 L487.0 338.8 L487.4 339.1 L487.8 339.4 L488.2 339.7 L488.7 339.9 L489.1 340.2 L489.5 340.4 L489.9 340.7 L490.4 340.9 L490.8 341.2 L491.2 341.4 L491.6 341.6 L492.1 341.9 L492.5 342.1 L492.9 342.3 L493.3 342.5 L493.7 342.7 L494.2 342.9 L494.6 343.1 L495.0 343.3 L495.4 343.5 L495.9 343.7 L496.3 343.9 L496.7 344.1 L497.1 344.2 L497.6 344.4 L498.0 344.6 L498.4 344.7 L498.8 344.9 L499.3 345.0 L499.7 345.2 L500.1 345.3 L500.5 345.4 L500.9 345.6 L501.4 345.7 L501.8 345.8 L502.2 345.9 L502.6 346.1 L503.1 346.2 L503.5 346.3 L503.9 346.4 L504.3 346.5 L504.8 346.6 L505.2 346.6 L505.6 346.7 L506.0 346.8 L506.4 346.9 L506.9 347.0 L507.3 347.0 L507.7 347.1 L508.1 347.1 L508.6 347.2 L509.0 347.2 L509.4 347.3 L509.8 347.3 L510.3 347.4 L510.7 347.4 L511.1 347.4 L511.5 347.4 L512.0 347.5 L512.4 347.5 L512.8 347.5 L513.2 347.5 L513.6 347.5" stroke-dashoffset="7.4"/><path d="M640.3 -3.0 L639.9 0.8 L639.5 4.6 L639.1 8.4 L638.6 12.1 L638.2 15.8 L637.8 19.4 L637.4 23.0 L636.9 26.6 L636.5 30.1 L636.1 33.6 L635.7 37.1 L635.3 40.5 L634.8 43.9 L634.4 47.2 L634.0 50.5 L633.6 53.8 L633.1 57.0 L632.7 60.2 L632.3 63.4 L631.9 66.6 L631.4 69.7 L631.0 72.8 L630.6 75.8 L630.2 78.8 L629.7 81.8 L629.3 84.8 L628.9 87.7 L628.5 90.6 L628.1 93.4 L627.6 96.3 L627.2 99.1 L626.8 101.9 L626.4 104.6 L625.9 107.3 L625.5 110.0 L625.1 112.7 L624.7 115.3 L624.2 118.0 L623.8 120.5 L623.4 123.1 L623.0 125.6 L622.5 128.2 L622.1 130.6 L621.7 133.1 L621.3 135.5 L620.8 137.9 L620.4 140.3 L620.0 142.7 L619.6 145.0 L619.2 147.3 L618.7 149.6 L618.3 151.9 L617.9 154.1 L617.5 156.4 L617.0 158.6 L616.6 160.7 L616.2 162.9 L615.8 165.0 L615.3 167.1 L614.9 169.2 L614.5 171.3 L614.1 173.3 L613.6 175.4 L613.2 177.4 L612.8 179.4 L612.4 181.3 L612.0 183.3 L611.5 185.2 L611.1 187.1 L610.7 189.0 L610.3 190.9 L609.8 192.8 L609.4 194.6 L609.0 196.4 L608.6 198.2 L608.1 200.0 L607.7 201.8 L607.3 203.5 L606.9 205.2 L606.4 206.9 L606.0 208.6 L605.6 210.3 L605.2 212.0 L604.7 213.6 L604.3 215.3 L603.9 216.9 L603.5 218.5 L603.1 220.0 L602.6 221.6 L602.2 223.2 L601.8 224.7 L601.4 226.2 L600.9 227.7 L600.5 229.2 L600.1 230.7 L599.7 232.1 L599.2 233.6 L598.8 235.0 L598.4 236.4 L598.0 237.8 L597.5 239.2 L597.1 240.6 L596.7 242.0 L596.3 243.3 L595.8 244.7 L595.4 246.0 L595.0 247.3 L594.6 248.6 L594.2 249.9 L593.7 251.1 L593.3 252.4 L592.9 253.6 L592.5 254.9 L592.0 256.1 L591.6 257.3 L591.2 258.5 L590.8 259.7 L590.3 260.8 L589.9 262.0 L589.5 263.2 L589.1 264.3 L588.6 265.4 L588.2 266.5 L587.8 267.6 L587.4 268.7 L587.0 269.8 L586.5 270.9 L586.1 271.9 L585.7 273.0 L585.3 274.0 L584.8 275.1 L584.4 276.1 L584.0 277.1 L583.6 278.1 L583.1 279.1 L582.7 280.1 L582.3 281.0 L581.9 282.0 L581.4 282.9 L581.0 283.9 L580.6 284.8 L580.2 285.7 L579.7 286.6 L579.3 287.5 L578.9 288.4 L578.5 289.3 L578.1 290.2 L577.6 291.0 L577.2 291.9 L576.8 292.7 L576.4 293.6 L575.9 294.4 L575.5 295.2 L575.1 296.0 L574.7 296.8 L574.2 297.6 L573.8 298.4 L573.4 299.2 L573.0 300.0 L572.5 300.7 L572.1 301.5 L571.7 302.2 L571.3 303.0 L570.8 303.7 L570.4 304.4 L570.0 305.1 L569.6 305.8 L569.2 306.5 L568.7 307.2 L568.3 307.9 L567.9 308.6 L567.5 309.3 L567.0 309.9 L566.6 310.6 L566.2 311.2 L565.8 311.9 L565.3 312.5 L564.9 313.1 L564.5 313.7 L564.1 314.3 L563.6 314.9 L563.2 315.5 L562.8 316.1 L562.4 316.7 L562.0 317.3 L561.5 317.9 L561.1 318.4 L560.7 319.0 L560.3 319.5 L559.8 320.1 L559.4 320.6 L559.0 321.2 L558.6 321.7 L558.1 322.2 L557.7 322.7 L557.3 323.2 L556.9 323.7 L556.4 324.2 L556.0 324.7 L555.6 325.2 L555.2 325.7 L554.7 326.1 L554.3 326.6 L553.9 327.1 L553.5 327.5 L553.1 328.0 L552.6 328.4 L552.2 328.8 L551.8 329.3 L551.4 329.7 L550.9 330.1 L550.5 330.5 L550.1 330.9 L549.7 331.3 L549.2 331.7 L548.8 332.1 L548.4 332.5 L548.0 332.9 L547.5 333.2 L547.1 333.6 L546.7 334.0 L546.3 334.3 L545.8 334.7 L545.4 335.0 L545.0 335.4 L544.6 335.7 L544.2 336.0 L543.7 336.4 L543.3 336.7 L542.9 337.0 L542.5 337.3 L542.0 337.6 L541.6 337.9 L541.2 338.2 L540.8 338.5 L540.3 338.8 L539.9 339.1 L539.5 339.3 L539.1 339.6 L538.6 339.9 L538.2 340.1 L537.8 340.4 L537.4 340.7 L537.0 340.9 L536.5 341.1 L536.1 341.4 L535.7 341.6 L535.3 341.8 L534.8 342.1 L534.4 342.3 L534.0 342.5 L533.6 342.7 L533.1 342.9 L532.7 343.1 L532.3 343.3 L531.9 343.5 L531.4 343.7 L531.0 343.9 L530.6 344.0 L530.2 344.2 L529.7 344.4 L529.3 344.5 L528.9 344.7 L528.5 344.9 L528.1 345.0 L527.6 345.1 L527.2 345.3 L526.8 345.4 L526.4 345.6 L525.9 345.7 L525.5 345.8 L525.1 345.9 L524.7 346.0 L524.2 346.2 L523.8 346.3 L523.4 346.4 L523.0 346.5 L522.5 346.5 L522.1 346.6 L521.7 346.7 L521.3 346.8 L520.8 346.9 L520.4 346.9 L520.0 347.0 L519.6 347.1 L519.2 347.1 L518.7 347.2 L518.3 347.2 L517.9 347.3 L517.5 347.3 L517.0 347.4 L516.6 347.4 L516.2 347.4 L515.8 347.4 L515.3 347.5 L514.9 347.5 L514.5 347.5 L514.1 347.5 L513.6 347.5" stroke-dashoffset="4.6"/></g>
<circle cx="436" cy="261.2" r="6"/>
<circle cx="443.2" cy="276.8" r="6"/>
<circle cx="453" cy="296.8" r="6"/>
<circle cx="464.8" cy="314.4" r="6"/>
<circle cx="489.3" cy="338.9" r="6"/>
<circle cx="503.8" cy="345.8" r="6"/>
<circle cx="515.8" cy="347.4" r="6"/>
<circle cx="526.2" cy="346.7" r="6"/>
<circle cx="552.5" cy="330.7" r="6"/>
<circle cx="567" cy="310.8" r="6"/>
<circle cx="574.6" cy="295.9" r="6"/>
<path d="M244.5 250.5 H310.7" stroke="#000" stroke-width="2.8"/>
<path d="M230.1 250.5 L245 242.9 L245 258.1 Z"/>
<path d="M580.1 340.2 H647" stroke="#000" stroke-width="2.8"/>
<path d="M660.7 340.2 L646 332.6 L646 347.8 Z"/>
<rect x="135.6" y="1.6" width="763.1" height="508.5" fill="none" stroke="#000" stroke-width="2.8"/>
<path d="M135.6 86.4 h10.5 M135.6 298.2 h10.5 M898.7 103.0 h-10.5 M898.7 306.6 h-10.5 M326.45 510.1 v-10.5 M517.0 510.1 v-10.5 M707.6 510.1 v-10.5" stroke="#000" stroke-width="2.8"/>
<text x="29.3" y="35.0" font-size="45" font-weight="bold">a</text>
<text x="130.6" y="97.0" font-size="30" text-anchor="end">1.0</text>
<text x="130.6" y="308.8" font-size="30" text-anchor="end">0.5</text>
<text x="130.6" y="520.6" font-size="30" text-anchor="end">0.0</text>
<text x="905.8" y="113.9" font-size="30">4</text>
<text x="905.8" y="316.9" font-size="30">2</text>
<text x="905.8" y="521.3" font-size="30">0</text>
<text x="135.9" y="544.4" font-size="30" text-anchor="middle">-1.5</text>
<text x="326.4" y="544.4" font-size="30" text-anchor="middle">-1.0</text>
<text x="517.0" y="544.4" font-size="30" text-anchor="middle">-0.5</text>
<text x="707.6" y="544.4" font-size="30" text-anchor="middle">0.0</text>
<text x="898.1" y="544.4" font-size="30" text-anchor="middle">0.5</text>
<text x="463.4" y="76.8" font-size="36" fill="#d25a60">16 mK</text>
<text x="458.4" y="136.0" font-size="36" fill="#74bb45">380 mK</text>
<text x="456.7" y="261.6" font-size="36" fill="#3f76bd">780 mK</text>
<text x="487" y="608.3" font-size="37"><tspan font-family="Liberation Serif" font-size="41">ε</tspan><tspan dx="6">/</tspan><tspan font-style="italic" dx="2">U</tspan></text>
<g transform="translate(42,0) rotate(-90)" font-size="36"><text x="-334.5" y="0" font-style="italic">G</text><text x="-308.1" y="8.5" font-size="23">0</text><text x="-284.6" y="0">(2e</text><text x="-232.8" y="-24.5" font-size="23.5">2</text><text x="-217.8" y="0">/h)</text></g>
<g transform="translate(965.2,0) rotate(90)" font-size="36"><text x="203.1" y="0" font-style="italic">T</text><text x="222" y="8.2" font-size="25">K</text><text x="241.5" y="-6.2" font-size="28">*</text><text x="264.7" y="0" font-size="35">(K)</text></g>
<defs><clipPath id="cb"><rect x="136.5" y="649.6" width="762.3" height="508.6"/></clipPath></defs>
<g fill="none" stroke-width="2.5" stroke-linejoin="round" stroke-linecap="round" clip-path="url(#cb)">
<path d="M138.1 1098.6 L140.8 1098.9 L143.5 1100.4 L146.2 1100.3 L149.0 1097.6 L151.7 1095.6 L154.4 1095.7 L157.1 1095.2 L159.9 1094.8 L162.6 1095.7 L165.3 1094.7 L168.0 1092.8 L170.8 1092.2 L173.5 1091.0 L176.2 1090.1 L178.9 1089.6 L181.7 1089.2 L184.4 1089.0 L187.1 1088.3 L189.8 1088.2 L192.5 1088.1 L195.3 1087.1 L198.0 1085.7 L200.7 1084.5 L203.4 1084.4 L206.2 1084.4 L208.9 1083.2 L211.6 1082.3 L214.3 1082.4 L217.1 1081.9 L219.8 1080.9 L222.5 1080.4 L225.2 1079.5 L228.0 1078.0 L230.7 1077.0 L233.4 1076.3 L236.1 1074.9 L238.9 1073.3 L241.6 1072.7 L244.3 1072.0 L247.0 1070.3 L249.7 1069.2 L252.5 1068.4 L255.2 1067.8 L257.9 1067.2 L260.6 1066.5 L263.4 1065.6 L266.1 1063.9 L268.8 1062.0 L271.5 1060.7 L274.3 1059.6 L277.0 1058.0 L279.7 1056.4 L282.4 1055.2 L285.2 1054.0 L287.9 1052.6 L290.6 1051.3 L293.3 1050.2 L296.1 1049.0 L298.8 1047.0 L301.5 1045.3 L304.2 1043.7 L306.9 1041.4 L309.7 1039.6 L312.4 1038.2 L315.1 1036.4 L317.8 1034.4 L320.6 1032.6 L323.3 1030.7 L326.0 1028.9 L328.7 1027.0 L331.5 1024.9 L334.2 1022.9 L336.9 1020.8 L339.6 1018.1 L342.4 1015.5 L345.1 1013.2 L347.8 1011.1 L350.5 1008.5 L353.3 1005.6 L356.0 1002.8 L358.7 1000.0 L361.4 997.5 L364.1 994.4 L366.9 991.0 L369.6 988.1 L372.3 985.0 L375.0 981.1 L377.8 977.2 L380.5 973.6 L383.2 969.7 L385.9 965.7 L388.7 961.7 L391.4 957.7 L394.1 953.7 L396.8 949.5 L399.6 945.3 L402.3 940.7 L405.0 935.5 L407.7 930.3 L410.4 925.3 L413.2 920.3 L415.9 914.9 L418.6 909.6 L421.3 904.2 L424.1 898.1 L426.8 891.9 L429.5 885.7 L432.2 879.4 L435.0 872.9 L437.7 866.0 L440.4 858.9 L443.1 851.8 L445.9 844.4 L448.6 836.9 L451.3 829.7 L454.0 822.2 L456.8 814.4 L459.5 806.3 L462.2 798.1 L464.9 790.3 L467.6 782.2 L470.4 773.9 L473.1 765.9 L475.8 758.0 L478.5 750.4 L481.3 742.9 L484.0 735.3 L486.7 727.7 L489.4 720.9 L492.2 714.8 L494.9 708.7 L497.6 702.7 L500.3 697.2 L503.1 692.2 L505.8 688.0 L508.5 684.6 L511.2 681.8 L514.0 680.0 L516.7 678.7 L519.4 678.2 L522.1 678.7 L524.8 680.0 L527.6 681.7 L530.3 683.9 L533.0 687.3 L535.7 691.6 L538.5 696.1 L541.2 701.1 L543.9 706.6 L546.6 712.6 L549.4 719.5 L552.1 726.7 L554.8 733.7 L557.5 741.0 L560.3 748.3 L563.0 755.9 L565.7 763.8 L568.4 771.6 L571.2 779.2 L573.9 787.0 L576.6 795.0 L579.3 803.1 L582.0 810.8 L584.8 818.5 L587.5 826.1 L590.2 833.3 L592.9 840.4 L595.7 847.9 L598.4 855.1 L601.1 861.8 L603.8 868.2 L606.6 874.4 L609.3 880.5 L612.0 886.7 L614.7 892.9 L617.5 898.7 L620.2 904.3 L622.9 909.7 L625.6 914.9 L628.4 920.2 L631.1 925.2 L633.8 929.7 L636.5 934.4 L639.2 938.8 L642.0 942.9 L644.7 946.7 L647.4 951.0 L650.1 955.5 L652.9 959.3 L655.6 962.7 L658.3 966.3 L661.0 969.8 L663.8 972.9 L666.5 975.9 L669.2 979.2 L671.9 982.7 L674.7 985.7 L677.4 988.1 L680.1 990.6 L682.8 993.5 L685.5 996.4 L688.3 998.8 L691.0 1000.8 L693.7 1003.0 L696.4 1005.8 L699.2 1008.4 L701.9 1010.3 L704.6 1012.2 L707.3 1014.6 L710.1 1016.8 L712.8 1018.8 L715.5 1020.6 L718.2 1022.1 L721.0 1023.2 L723.7 1024.8 L726.4 1027.1 L729.1 1029.0 L731.9 1029.9 L734.6 1031.3 L737.3 1033.0 L740.0 1034.2 L742.7 1034.8 L745.5 1036.1 L748.2 1038.1 L750.9 1039.8 L753.6 1041.4 L756.4 1042.6 L759.1 1043.4 L761.8 1044.6 L764.5 1045.8 L767.3 1046.6 L770.0 1047.7 L772.7 1049.3 L775.4 1050.7 L778.2 1051.7 L780.9 1052.9 L783.6 1053.4 L786.3 1053.5 L789.1 1054.7 L791.8 1055.8 L794.5 1056.2 L797.2 1056.8 L799.9 1057.5 L802.7 1058.4 L805.4 1059.9 L808.1 1061.8 L810.8 1063.0 L813.6 1063.7 L816.3 1064.0 L819.0 1063.6 L821.7 1063.9 L824.5 1063.5 L827.2 1062.8 L829.9 1064.4 L832.6 1066.6 L835.4 1067.3 L838.1 1067.2 L840.8 1067.4 L843.5 1067.9 L846.2 1068.4 L849.0 1069.6 L851.7 1070.5 L854.4 1070.8 L857.1 1071.9 L859.9 1072.5 L862.6 1072.1 L865.3 1072.7 L868.0 1073.1 L870.8 1072.7 L873.5 1073.8 L876.2 1074.8 L878.9 1075.7 L881.7 1077.0 L884.4 1077.4 L887.1 1076.9 L889.8 1076.2 L892.6 1076.3 L895.3 1076.8 L898.0 1077.5 L900.7 1078.3" stroke="#d9704f"/>
<path d="M138.0 1098.9 L140.7 1097.4 L143.4 1096.5 L146.1 1096.4 L148.9 1094.9 L151.6 1094.4 L154.3 1094.5 L157.0 1093.6 L159.8 1093.4 L162.5 1093.6 L165.2 1093.8 L167.9 1093.6 L170.7 1092.0 L173.4 1091.0 L176.1 1091.3 L178.8 1091.1 L181.5 1090.0 L184.3 1088.6 L187.0 1087.4 L189.7 1086.0 L192.4 1085.2 L195.2 1084.9 L197.9 1085.0 L200.6 1084.6 L203.3 1083.2 L206.1 1082.4 L208.8 1081.8 L211.5 1081.0 L214.2 1079.9 L217.0 1078.2 L219.7 1077.5 L222.4 1077.2 L225.1 1076.2 L227.9 1075.0 L230.6 1073.5 L233.3 1072.1 L236.0 1071.9 L238.7 1071.9 L241.5 1071.6 L244.2 1071.0 L246.9 1070.0 L249.6 1068.5 L252.4 1066.4 L255.1 1064.8 L257.8 1064.2 L260.5 1063.3 L263.3 1061.9 L266.0 1060.9 L268.7 1059.9 L271.4 1058.7 L274.2 1057.8 L276.9 1056.5 L279.6 1054.6 L282.3 1052.9 L285.1 1051.7 L287.8 1050.6 L290.5 1049.0 L293.2 1047.4 L295.9 1045.5 L298.7 1043.3 L301.4 1042.2 L304.1 1041.3 L306.8 1039.3 L309.6 1037.4 L312.3 1035.9 L315.0 1033.6 L317.7 1031.5 L320.5 1029.8 L323.2 1028.0 L325.9 1025.8 L328.6 1023.3 L331.4 1021.1 L334.1 1019.1 L336.8 1017.0 L339.5 1014.5 L342.2 1012.0 L345.0 1009.6 L347.7 1007.1 L350.4 1004.5 L353.1 1001.9 L355.9 999.0 L358.6 995.8 L361.3 993.1 L364.0 990.4 L366.8 987.3 L369.5 983.9 L372.2 980.5 L374.9 977.0 L377.7 973.8 L380.4 970.3 L383.1 966.4 L385.8 962.4 L388.6 958.1 L391.3 954.0 L394.0 950.1 L396.7 945.7 L399.4 941.1 L402.2 936.7 L404.9 932.1 L407.6 926.8 L410.3 921.5 L413.1 916.5 L415.8 911.5 L418.5 906.3 L421.2 900.7 L424.0 895.0 L426.7 888.9 L429.4 882.6 L432.1 876.6 L434.9 870.5 L437.6 864.0 L440.3 857.4 L443.0 850.2 L445.8 842.7 L448.5 835.5 L451.2 828.3 L453.9 820.7 L456.6 813.1 L459.4 805.9 L462.1 798.6 L464.8 790.9 L467.5 783.7 L470.3 776.4 L473.0 768.6 L475.7 761.4 L478.4 754.4 L481.2 746.9 L483.9 739.6 L486.6 732.9 L489.3 726.7 L492.1 720.2 L494.8 714.6 L497.5 709.9 L500.2 705.1 L503.0 700.5 L505.7 696.6 L508.4 693.6 L511.1 691.5 L513.8 689.6 L516.6 688.1 L519.3 687.7 L522.0 688.3 L524.7 689.0 L527.5 690.4 L530.2 692.9 L532.9 695.8 L535.6 699.4 L538.4 703.7 L541.1 708.3 L543.8 713.5 L546.5 719.1 L549.3 725.2 L552.0 731.7 L554.7 738.1 L557.4 744.7 L560.1 751.7 L562.9 758.9 L565.6 766.2 L568.3 773.7 L571.0 781.2 L573.8 788.7 L576.5 795.8 L579.2 803.0 L581.9 810.5 L584.7 817.9 L587.4 825.2 L590.1 832.1 L592.8 839.0 L595.6 845.7 L598.3 852.2 L601.0 858.6 L603.7 864.8 L606.5 871.1 L609.2 877.6 L611.9 883.8 L614.6 889.6 L617.3 895.2 L620.1 900.6 L622.8 905.7 L625.5 910.7 L628.2 915.7 L631.0 920.7 L633.7 925.5 L636.4 929.9 L639.1 934.0 L641.9 938.5 L644.6 943.0 L647.3 947.1 L650.0 950.8 L652.8 954.5 L655.5 958.4 L658.2 962.0 L660.9 965.5 L663.7 969.2 L666.4 972.4 L669.1 975.1 L671.8 978.1 L674.5 981.7 L677.3 985.0 L680.0 987.4 L682.7 989.7 L685.4 992.6 L688.2 995.3 L690.9 997.7 L693.6 999.9 L696.3 1002.0 L699.1 1003.9 L701.8 1006.3 L704.5 1008.4 L707.2 1010.2 L710.0 1012.4 L712.7 1014.6 L715.4 1016.7 L718.1 1018.6 L720.9 1020.2 L723.6 1022.0 L726.3 1023.8 L729.0 1025.7 L731.7 1027.7 L734.5 1029.5 L737.2 1030.7 L739.9 1031.5 L742.6 1033.0 L745.4 1035.0 L748.1 1036.0 L750.8 1036.4 L753.5 1037.7 L756.3 1040.0 L759.0 1041.5 L761.7 1042.1 L764.4 1043.3 L767.2 1045.0 L769.9 1046.4 L772.6 1047.3 L775.3 1048.4 L778.0 1049.3 L780.8 1049.6 L783.5 1050.1 L786.2 1051.5 L788.9 1053.0 L791.7 1053.8 L794.4 1054.3 L797.1 1054.3 L799.8 1054.6 L802.6 1056.3 L805.3 1058.4 L808.0 1059.0 L810.7 1058.5 L813.5 1059.4 L816.2 1061.3 L818.9 1062.0 L821.6 1061.8 L824.4 1062.5 L827.1 1063.8 L829.8 1064.3 L832.5 1063.9 L835.2 1064.3 L838.0 1065.8 L840.7 1066.6 L843.4 1066.5 L846.1 1066.8 L848.9 1067.0 L851.6 1068.1 L854.3 1069.5 L857.0 1069.4 L859.8 1070.2 L862.5 1071.7 L865.2 1071.9 L867.9 1071.5 L870.7 1072.2 L873.4 1072.7 L876.1 1072.6 L878.8 1073.7 L881.6 1075.2 L884.3 1075.6 L887.0 1076.9 L889.7 1078.2 L892.4 1076.2 L895.2 1074.9 L897.9 1076.4 L900.6 1077.2" stroke="#d78037"/>
<path d="M137.9 1096.0 L140.6 1095.3 L143.3 1096.2 L146.0 1095.2 L148.8 1094.0 L151.5 1094.9 L154.2 1094.1 L156.9 1092.4 L159.7 1092.2 L162.4 1091.1 L165.1 1090.2 L167.8 1090.2 L170.5 1088.8 L173.3 1087.3 L176.0 1087.1 L178.7 1087.1 L181.4 1086.5 L184.2 1085.8 L186.9 1085.6 L189.6 1085.2 L192.3 1084.2 L195.1 1082.5 L197.8 1080.9 L200.5 1080.8 L203.2 1079.9 L206.0 1078.8 L208.7 1078.3 L211.4 1077.5 L214.1 1077.9 L216.8 1078.4 L219.6 1077.2 L222.3 1074.9 L225.0 1073.4 L227.7 1072.9 L230.5 1072.5 L233.2 1071.6 L235.9 1070.0 L238.6 1068.7 L241.4 1068.2 L244.1 1068.1 L246.8 1067.1 L249.5 1065.6 L252.3 1064.3 L255.0 1063.0 L257.7 1061.6 L260.4 1060.3 L263.2 1059.2 L265.9 1058.2 L268.6 1057.0 L271.3 1055.6 L274.0 1054.4 L276.8 1053.3 L279.5 1051.2 L282.2 1049.5 L284.9 1048.4 L287.7 1046.9 L290.4 1045.5 L293.1 1044.2 L295.8 1042.3 L298.6 1040.6 L301.3 1039.4 L304.0 1037.8 L306.7 1035.6 L309.5 1034.1 L312.2 1032.5 L314.9 1030.5 L317.6 1028.2 L320.4 1025.9 L323.1 1023.9 L325.8 1022.0 L328.5 1020.0 L331.2 1017.7 L334.0 1015.0 L336.7 1012.6 L339.4 1010.6 L342.1 1008.9 L344.9 1006.8 L347.6 1004.0 L350.3 1001.1 L353.0 998.3 L355.8 995.6 L358.5 992.7 L361.2 989.7 L363.9 986.7 L366.7 983.4 L369.4 979.7 L372.1 976.1 L374.8 972.9 L377.6 969.5 L380.3 966.3 L383.0 962.7 L385.7 958.9 L388.4 955.0 L391.2 950.5 L393.9 946.0 L396.6 941.5 L399.3 937.2 L402.1 933.2 L404.8 928.8 L407.5 923.8 L410.2 918.5 L413.0 913.8 L415.7 908.7 L418.4 902.7 L421.1 897.1 L423.9 891.8 L426.6 886.1 L429.3 880.2 L432.0 874.3 L434.7 868.4 L437.5 862.2 L440.2 855.8 L442.9 849.2 L445.6 842.3 L448.4 835.8 L451.1 829.1 L453.8 822.2 L456.5 815.4 L459.3 808.4 L462.0 801.4 L464.7 794.6 L467.4 787.9 L470.2 781.1 L472.9 774.3 L475.6 767.5 L478.3 760.8 L481.1 754.3 L483.8 748.0 L486.5 742.2 L489.2 736.7 L491.9 731.5 L494.7 726.4 L497.4 721.7 L500.1 717.4 L502.8 713.7 L505.6 710.5 L508.3 707.7 L511.0 705.5 L513.7 704.1 L516.5 703.4 L519.2 703.0 L521.9 703.2 L524.6 704.1 L527.4 705.5 L530.1 707.6 L532.8 710.1 L535.5 713.1 L538.3 716.5 L541.0 720.5 L543.7 725.1 L546.4 729.9 L549.1 735.2 L551.9 740.6 L554.6 746.1 L557.3 752.2 L560.0 759.0 L562.8 765.6 L565.5 771.8 L568.2 778.0 L570.9 784.5 L573.7 791.3 L576.4 798.4 L579.1 805.2 L581.8 811.6 L584.6 818.4 L587.3 825.6 L590.0 832.3 L592.7 838.6 L595.5 845.0 L598.2 851.3 L600.9 857.2 L603.6 863.1 L606.3 869.3 L609.1 875.4 L611.8 881.1 L614.5 886.7 L617.2 892.3 L620.0 897.6 L622.7 902.6 L625.4 907.4 L628.1 912.3 L630.9 917.4 L633.6 922.0 L636.3 926.5 L639.0 930.9 L641.8 934.7 L644.5 938.8 L647.2 943.4 L649.9 947.9 L652.6 951.6 L655.4 954.9 L658.1 958.4 L660.8 961.7 L663.5 964.7 L666.3 968.1 L669.0 971.4 L671.7 974.5 L674.4 978.0 L677.2 981.0 L679.9 983.4 L682.6 986.0 L685.3 988.4 L688.1 990.8 L690.8 993.6 L693.5 996.0 L696.2 998.0 L699.0 1000.3 L701.7 1003.0 L704.4 1005.4 L707.1 1007.5 L709.8 1009.6 L712.6 1011.8 L715.3 1014.0 L718.0 1015.9 L720.7 1017.4 L723.5 1018.8 L726.2 1020.2 L728.9 1021.9 L731.6 1023.8 L734.4 1025.2 L737.1 1026.5 L739.8 1028.1 L742.5 1029.8 L745.3 1031.3 L748.0 1032.9 L750.7 1034.7 L753.4 1035.6 L756.2 1036.4 L758.9 1038.4 L761.6 1040.4 L764.3 1041.7 L767.0 1042.7 L769.8 1043.2 L772.5 1044.2 L775.2 1045.5 L777.9 1046.4 L780.7 1048.1 L783.4 1050.1 L786.1 1050.8 L788.8 1050.8 L791.6 1051.7 L794.3 1053.2 L797.0 1054.2 L799.7 1054.2 L802.5 1053.9 L805.2 1055.1 L807.9 1056.9 L810.6 1057.4 L813.4 1056.7 L816.1 1056.6 L818.8 1057.8 L821.5 1059.5 L824.2 1060.8 L827.0 1061.1 L829.7 1061.4 L832.4 1062.5 L835.1 1064.1 L837.9 1065.7 L840.6 1066.4 L843.3 1066.1 L846.0 1065.7 L848.8 1066.1 L851.5 1067.6 L854.2 1068.2 L856.9 1067.7 L859.7 1068.9 L862.4 1070.4 L865.1 1070.0 L867.8 1069.5 L870.5 1071.0 L873.3 1072.7 L876.0 1071.8 L878.7 1071.3 L881.4 1072.6 L884.2 1073.4 L886.9 1073.6 L889.6 1073.5 L892.3 1075.0 L895.1 1076.7 L897.8 1075.0 L900.5 1074.1" stroke="#d29128"/>
<path d="M137.8 1094.2 L140.5 1093.4 L143.2 1092.6 L145.9 1092.5 L148.6 1093.5 L151.4 1094.5 L154.1 1094.2 L156.8 1092.7 L159.5 1091.5 L162.3 1090.7 L165.0 1089.7 L167.7 1088.2 L170.4 1087.7 L173.2 1088.4 L175.9 1086.8 L178.6 1084.2 L181.3 1084.2 L184.1 1084.4 L186.8 1083.1 L189.5 1081.4 L192.2 1080.9 L195.0 1080.8 L197.7 1079.9 L200.4 1079.1 L203.1 1077.6 L205.8 1076.8 L208.6 1077.2 L211.3 1076.7 L214.0 1075.8 L216.7 1075.2 L219.5 1074.4 L222.2 1073.4 L224.9 1072.8 L227.6 1071.7 L230.4 1069.9 L233.1 1068.3 L235.8 1067.1 L238.5 1066.2 L241.3 1065.7 L244.0 1065.2 L246.7 1063.9 L249.4 1062.7 L252.2 1061.7 L254.9 1060.1 L257.6 1058.5 L260.3 1057.3 L263.0 1056.3 L265.8 1055.6 L268.5 1054.8 L271.2 1053.4 L273.9 1052.1 L276.7 1051.2 L279.4 1049.7 L282.1 1047.9 L284.8 1045.8 L287.6 1043.9 L290.3 1042.7 L293.0 1041.9 L295.7 1040.5 L298.5 1038.1 L301.2 1036.0 L303.9 1034.5 L306.6 1032.7 L309.3 1030.4 L312.1 1028.1 L314.8 1026.5 L317.5 1025.3 L320.2 1023.3 L323.0 1021.0 L325.7 1018.8 L328.4 1016.5 L331.1 1014.5 L333.9 1012.8 L336.6 1010.5 L339.3 1007.5 L342.0 1004.8 L344.8 1002.5 L347.5 1000.0 L350.2 996.6 L352.9 993.7 L355.7 991.4 L358.4 988.6 L361.1 985.5 L363.8 982.5 L366.5 979.3 L369.3 976.0 L372.0 972.6 L374.7 969.2 L377.4 965.9 L380.2 962.4 L382.9 958.5 L385.6 954.7 L388.3 950.9 L391.1 946.8 L393.8 942.5 L396.5 937.9 L399.2 933.2 L402.0 929.0 L404.7 925.2 L407.4 920.8 L410.1 915.6 L412.9 910.2 L415.6 905.3 L418.3 900.4 L421.0 895.0 L423.7 889.4 L426.5 884.3 L429.2 878.9 L431.9 873.2 L434.6 867.3 L437.4 861.1 L440.1 855.2 L442.8 849.4 L445.5 843.1 L448.3 836.9 L451.0 831.0 L453.7 825.1 L456.4 819.0 L459.2 812.4 L461.9 805.8 L464.6 799.4 L467.3 793.3 L470.1 787.6 L472.8 781.9 L475.5 776.2 L478.2 770.4 L480.9 764.7 L483.7 759.4 L486.4 754.6 L489.1 750.1 L491.8 745.5 L494.6 741.0 L497.3 737.0 L500.0 733.6 L502.7 730.8 L505.5 728.3 L508.2 726.1 L510.9 724.3 L513.6 722.9 L516.4 721.9 L519.1 721.3 L521.8 721.5 L524.5 722.3 L527.2 723.2 L530.0 724.6 L532.7 726.8 L535.4 729.4 L538.1 731.9 L540.9 735.2 L543.6 739.2 L546.3 743.4 L549.0 747.9 L551.8 752.7 L554.5 757.9 L557.2 762.7 L559.9 767.6 L562.7 773.4 L565.4 779.3 L568.1 785.1 L570.8 791.3 L573.6 797.5 L576.3 803.2 L579.0 809.0 L581.7 814.7 L584.4 821.0 L587.2 827.4 L589.9 833.3 L592.6 839.4 L595.3 845.5 L598.1 851.4 L600.8 857.3 L603.5 863.0 L606.2 868.5 L609.0 873.6 L611.7 879.0 L614.4 884.5 L617.1 890.0 L619.9 895.2 L622.6 900.0 L625.3 904.9 L628.0 909.6 L630.8 913.9 L633.5 918.4 L636.2 923.3 L638.9 927.8 L641.6 931.6 L644.4 935.2 L647.1 938.8 L649.8 942.5 L652.5 946.7 L655.3 950.8 L658.0 954.1 L660.7 957.3 L663.4 960.9 L666.2 964.1 L668.9 967.0 L671.6 970.1 L674.3 973.7 L677.1 976.8 L679.8 979.6 L682.5 982.5 L685.2 985.4 L688.0 988.1 L690.7 990.5 L693.4 992.6 L696.1 994.7 L698.8 997.2 L701.6 999.9 L704.3 1001.8 L707.0 1003.4 L709.7 1006.0 L712.5 1008.5 L715.2 1010.2 L717.9 1012.1 L720.6 1014.0 L723.4 1015.6 L726.1 1017.5 L728.8 1019.9 L731.5 1021.5 L734.3 1022.3 L737.0 1023.4 L739.7 1025.1 L742.4 1026.9 L745.1 1028.8 L747.9 1030.5 L750.6 1031.8 L753.3 1032.9 L756.0 1034.4 L758.8 1036.1 L761.5 1037.2 L764.2 1038.2 L766.9 1039.1 L769.7 1039.7 L772.4 1041.0 L775.1 1042.9 L777.8 1044.6 L780.6 1045.1 L783.3 1045.5 L786.0 1046.5 L788.7 1047.1 L791.5 1048.3 L794.2 1050.5 L796.9 1051.5 L799.6 1051.6 L802.3 1052.4 L805.1 1053.3 L807.8 1054.2 L810.5 1055.8 L813.2 1057.0 L816.0 1057.2 L818.7 1057.4 L821.4 1057.7 L824.1 1058.8 L826.9 1060.7 L829.6 1061.8 L832.3 1061.8 L835.0 1062.8 L837.8 1063.6 L840.5 1062.3 L843.2 1061.6 L845.9 1063.7 L848.7 1065.4 L851.4 1064.9 L854.1 1064.8 L856.8 1066.3 L859.5 1067.1 L862.3 1067.1 L865.0 1068.2 L867.7 1069.6 L870.4 1070.2 L873.2 1070.5 L875.9 1070.4 L878.6 1070.6 L881.3 1072.2 L884.1 1073.0 L886.8 1072.0 L889.5 1070.9 L892.2 1070.4 L895.0 1070.9 L897.7 1073.2 L900.4 1074.8" stroke="#c8a519"/>
<path d="M137.6 1093.9 L140.4 1093.4 L143.1 1093.0 L145.8 1092.9 L148.5 1093.4 L151.3 1092.9 L154.0 1090.9 L156.7 1089.7 L159.4 1088.9 L162.2 1087.8 L164.9 1087.1 L167.6 1086.6 L170.3 1086.3 L173.1 1085.9 L175.8 1085.1 L178.5 1084.1 L181.2 1083.9 L184.0 1084.0 L186.7 1082.8 L189.4 1081.4 L192.1 1080.5 L194.8 1079.1 L197.6 1077.7 L200.3 1077.9 L203.0 1078.1 L205.7 1077.6 L208.5 1076.0 L211.2 1074.1 L213.9 1073.9 L216.6 1073.2 L219.4 1072.0 L222.1 1071.6 L224.8 1071.2 L227.5 1070.0 L230.3 1068.7 L233.0 1067.4 L235.7 1066.2 L238.4 1065.6 L241.1 1064.4 L243.9 1062.4 L246.6 1061.0 L249.3 1059.7 L252.0 1058.8 L254.8 1058.4 L257.5 1056.9 L260.2 1054.9 L262.9 1053.6 L265.7 1052.6 L268.4 1051.5 L271.1 1050.0 L273.8 1048.9 L276.6 1047.7 L279.3 1046.0 L282.0 1045.2 L284.7 1044.5 L287.5 1042.3 L290.2 1039.3 L292.9 1037.3 L295.6 1036.4 L298.3 1034.9 L301.1 1033.0 L303.8 1031.4 L306.5 1029.8 L309.2 1027.9 L312.0 1026.3 L314.7 1024.4 L317.4 1022.0 L320.1 1019.5 L322.9 1017.5 L325.6 1015.7 L328.3 1013.7 L331.0 1011.0 L333.8 1008.5 L336.5 1006.4 L339.2 1003.9 L341.9 1000.9 L344.7 998.1 L347.4 995.6 L350.1 992.8 L352.8 990.0 L355.5 987.5 L358.3 984.8 L361.0 981.7 L363.7 978.4 L366.4 975.2 L369.2 972.2 L371.9 969.3 L374.6 965.5 L377.3 961.6 L380.1 958.1 L382.8 954.5 L385.5 950.8 L388.2 947.0 L391.0 943.4 L393.7 939.9 L396.4 935.6 L399.1 931.0 L401.9 926.5 L404.6 921.7 L407.3 917.0 L410.0 912.9 L412.7 908.7 L415.5 904.2 L418.2 899.0 L420.9 893.5 L423.6 888.4 L426.4 883.0 L429.1 877.8 L431.8 872.6 L434.5 866.9 L437.3 861.6 L440.0 856.4 L442.7 850.9 L445.4 845.1 L448.2 839.2 L450.9 833.3 L453.6 827.9 L456.3 823.0 L459.0 817.6 L461.8 812.1 L464.5 807.0 L467.2 801.9 L469.9 796.7 L472.7 791.7 L475.4 786.8 L478.1 781.8 L480.8 777.1 L483.6 772.6 L486.3 768.6 L489.0 764.8 L491.7 761.4 L494.5 758.7 L497.2 756.1 L499.9 753.3 L502.6 750.5 L505.4 747.8 L508.1 745.8 L510.8 744.6 L513.5 744.1 L516.2 743.6 L519.0 743.3 L521.7 743.4 L524.4 743.8 L527.1 744.3 L529.9 745.0 L532.6 746.5 L535.3 748.6 L538.0 751.1 L540.8 753.8 L543.5 756.7 L546.2 760.1 L548.9 763.8 L551.7 767.5 L554.4 771.1 L557.1 775.2 L559.8 779.8 L562.6 784.8 L565.3 789.4 L568.0 794.1 L570.7 799.3 L573.4 804.1 L576.2 809.0 L578.9 814.3 L581.6 819.9 L584.3 825.5 L587.1 830.5 L589.8 835.9 L592.5 841.3 L595.2 846.7 L598.0 852.0 L600.7 857.1 L603.4 862.5 L606.1 868.0 L608.9 872.9 L611.6 877.8 L614.3 883.4 L617.0 888.2 L619.8 892.5 L622.5 897.1 L625.2 902.1 L627.9 907.1 L630.6 911.4 L633.4 915.6 L636.1 919.6 L638.8 923.6 L641.5 928.2 L644.3 932.5 L647.0 936.3 L649.7 939.6 L652.4 943.0 L655.2 946.9 L657.9 950.8 L660.6 954.2 L663.3 957.1 L666.1 960.2 L668.8 964.0 L671.5 967.3 L674.2 969.8 L676.9 972.7 L679.7 975.8 L682.4 978.6 L685.1 981.8 L687.8 984.9 L690.6 987.2 L693.3 989.0 L696.0 990.8 L698.7 993.6 L701.5 996.5 L704.2 998.5 L706.9 1000.3 L709.6 1002.3 L712.4 1004.7 L715.1 1006.5 L717.8 1007.7 L720.5 1009.5 L723.3 1012.0 L726.0 1014.4 L728.7 1015.8 L731.4 1017.1 L734.1 1018.7 L736.9 1020.3 L739.6 1022.4 L742.3 1024.8 L745.0 1026.5 L747.8 1027.2 L750.5 1027.8 L753.2 1029.5 L755.9 1031.2 L758.7 1032.7 L761.4 1034.1 L764.1 1035.3 L766.8 1037.4 L769.6 1039.3 L772.3 1039.7 L775.0 1039.9 L777.7 1041.2 L780.5 1042.5 L783.2 1042.9 L785.9 1043.4 L788.6 1045.1 L791.3 1047.3 L794.1 1048.4 L796.8 1048.5 L799.5 1049.4 L802.2 1050.8 L805.0 1052.1 L807.7 1052.4 L810.4 1052.7 L813.1 1054.4 L815.9 1055.7 L818.6 1055.9 L821.3 1056.5 L824.0 1058.0 L826.8 1058.8 L829.5 1058.0 L832.2 1057.6 L834.9 1059.2 L837.7 1060.4 L840.4 1061.1 L843.1 1062.0 L845.8 1062.2 L848.5 1062.7 L851.3 1063.6 L854.0 1064.5 L856.7 1065.7 L859.4 1067.2 L862.2 1068.6 L864.9 1068.6 L867.6 1067.6 L870.3 1067.2 L873.1 1067.9 L875.8 1069.7 L878.5 1072.0 L881.2 1072.6 L884.0 1070.9 L886.7 1070.2 L889.4 1070.6 L892.1 1070.6 L894.8 1070.9 L897.6 1071.7 L900.3 1072.7" stroke="#beb40f"/>
<path d="M137.5 1091.7 L140.3 1091.1 L143.0 1090.6 L145.7 1090.8 L148.4 1090.7 L151.2 1089.1 L153.9 1089.0 L156.6 1088.9 L159.3 1086.3 L162.1 1085.8 L164.8 1086.4 L167.5 1085.2 L170.2 1083.4 L172.9 1081.6 L175.7 1081.6 L178.4 1083.5 L181.1 1083.8 L183.8 1081.7 L186.6 1079.3 L189.3 1078.1 L192.0 1078.2 L194.7 1077.4 L197.5 1076.0 L200.2 1075.8 L202.9 1075.8 L205.6 1075.6 L208.4 1074.8 L211.1 1073.4 L213.8 1071.8 L216.5 1070.2 L219.3 1069.6 L222.0 1069.7 L224.7 1068.8 L227.4 1067.1 L230.1 1065.8 L232.9 1065.0 L235.6 1064.7 L238.3 1064.2 L241.0 1062.3 L243.8 1060.0 L246.5 1058.5 L249.2 1057.2 L251.9 1056.5 L254.7 1055.8 L257.4 1054.4 L260.1 1053.1 L262.8 1052.3 L265.6 1051.1 L268.3 1049.4 L271.0 1047.7 L273.7 1045.8 L276.5 1044.5 L279.2 1043.8 L281.9 1042.2 L284.6 1040.4 L287.3 1038.7 L290.1 1036.7 L292.8 1035.1 L295.5 1033.8 L298.2 1031.6 L301.0 1029.6 L303.7 1028.1 L306.4 1026.5 L309.1 1024.8 L311.9 1022.9 L314.6 1021.1 L317.3 1018.9 L320.0 1016.3 L322.8 1013.9 L325.5 1011.9 L328.2 1009.7 L330.9 1007.2 L333.6 1005.0 L336.4 1002.7 L339.1 999.5 L341.8 996.2 L344.5 994.4 L347.3 992.8 L350.0 989.7 L352.7 986.2 L355.4 983.2 L358.2 980.1 L360.9 977.3 L363.6 974.8 L366.3 971.8 L369.1 968.4 L371.8 965.0 L374.5 961.5 L377.2 958.0 L380.0 954.5 L382.7 950.8 L385.4 947.0 L388.1 942.9 L390.8 939.2 L393.6 935.7 L396.3 931.6 L399.0 927.5 L401.7 923.4 L404.5 919.1 L407.2 914.8 L409.9 910.5 L412.6 906.1 L415.4 901.5 L418.1 896.9 L420.8 892.3 L423.5 887.2 L426.3 882.3 L429.0 877.6 L431.7 872.7 L434.4 868.1 L437.2 863.4 L439.9 858.0 L442.6 852.7 L445.3 847.8 L448.0 843.2 L450.8 838.5 L453.5 833.2 L456.2 828.4 L458.9 824.4 L461.7 819.5 L464.4 814.6 L467.1 810.6 L469.8 806.6 L472.6 802.6 L475.3 798.4 L478.0 794.7 L480.7 791.2 L483.5 787.6 L486.2 784.4 L488.9 781.8 L491.6 779.2 L494.4 776.8 L497.1 774.6 L499.8 772.8 L502.5 771.0 L505.2 768.9 L508.0 767.7 L510.7 766.9 L513.4 766.1 L516.1 765.7 L518.9 765.8 L521.6 765.9 L524.3 765.9 L527.0 766.3 L529.8 767.4 L532.5 768.5 L535.2 769.6 L537.9 771.3 L540.7 773.0 L543.4 775.1 L546.1 776.9 L548.8 779.3 L551.5 782.6 L554.3 785.9 L557.0 789.4 L559.7 792.9 L562.4 796.1 L565.2 800.0 L567.9 804.0 L570.6 807.7 L573.3 811.8 L576.1 816.1 L578.8 821.0 L581.5 825.8 L584.2 829.9 L587.0 834.2 L589.7 839.0 L592.4 843.9 L595.1 848.8 L597.9 853.7 L600.6 858.0 L603.3 862.3 L606.0 867.4 L608.7 872.9 L611.5 877.8 L614.2 882.2 L616.9 886.2 L619.6 890.8 L622.4 895.8 L625.1 900.5 L627.8 904.7 L630.5 908.6 L633.3 912.8 L636.0 917.2 L638.7 921.6 L641.4 925.4 L644.2 928.5 L646.9 932.3 L649.6 936.2 L652.3 939.4 L655.1 942.9 L657.8 946.5 L660.5 950.3 L663.2 953.9 L665.9 957.4 L668.7 960.9 L671.4 963.7 L674.1 965.8 L676.8 968.5 L679.6 971.6 L682.3 974.6 L685.0 977.3 L687.7 979.6 L690.5 981.9 L693.2 985.1 L695.9 988.0 L698.6 989.8 L701.4 992.4 L704.1 995.4 L706.8 997.8 L709.5 999.4 L712.3 1001.1 L715.0 1003.1 L717.7 1004.8 L720.4 1006.9 L723.1 1009.6 L725.9 1011.5 L728.6 1012.8 L731.3 1014.6 L734.0 1016.2 L736.8 1017.9 L739.5 1020.2 L742.2 1021.6 L744.9 1022.1 L747.7 1023.1 L750.4 1025.2 L753.1 1027.3 L755.8 1028.3 L758.6 1030.0 L761.3 1032.1 L764.0 1033.0 L766.7 1034.5 L769.4 1036.4 L772.2 1037.0 L774.9 1037.9 L777.6 1039.1 L780.3 1039.5 L783.1 1040.4 L785.8 1042.2 L788.5 1043.6 L791.2 1044.1 L794.0 1044.3 L796.7 1045.4 L799.4 1047.3 L802.1 1049.0 L804.9 1050.2 L807.6 1050.1 L810.3 1050.5 L813.0 1051.9 L815.8 1052.9 L818.5 1053.6 L821.2 1054.8 L823.9 1056.2 L826.6 1056.5 L829.4 1056.8 L832.1 1058.1 L834.8 1059.0 L837.5 1059.0 L840.3 1059.5 L843.0 1060.0 L845.7 1060.6 L848.4 1062.0 L851.2 1062.4 L853.9 1062.4 L856.6 1063.0 L859.3 1063.7 L862.1 1063.3 L864.8 1063.1 L867.5 1063.6 L870.2 1063.8 L873.0 1064.6 L875.7 1065.7 L878.4 1066.5 L881.1 1067.3 L883.8 1067.8 L886.6 1068.1 L889.3 1069.2 L892.0 1071.2 L894.7 1070.9 L897.5 1069.5 L900.2 1070.2" stroke="#afb919"/>
<path d="M137.4 1091.3 L140.2 1089.5 L142.9 1090.7 L145.6 1091.8 L148.3 1090.9 L151.1 1089.5 L153.8 1086.8 L156.5 1084.7 L159.2 1085.5 L161.9 1087.1 L164.7 1086.4 L167.4 1083.6 L170.1 1082.3 L172.8 1082.5 L175.6 1081.7 L178.3 1080.7 L181.0 1080.1 L183.7 1079.7 L186.5 1079.0 L189.2 1077.6 L191.9 1076.6 L194.6 1076.4 L197.4 1075.4 L200.1 1073.4 L202.8 1072.8 L205.5 1072.6 L208.2 1071.8 L211.0 1071.0 L213.7 1069.5 L216.4 1068.2 L219.1 1067.1 L221.9 1066.1 L224.6 1065.4 L227.3 1065.0 L230.0 1064.1 L232.8 1062.5 L235.5 1061.3 L238.2 1060.2 L240.9 1058.9 L243.7 1057.9 L246.4 1057.1 L249.1 1056.0 L251.8 1054.9 L254.6 1053.6 L257.3 1052.2 L260.0 1051.1 L262.7 1049.9 L265.4 1048.3 L268.2 1046.6 L270.9 1044.7 L273.6 1043.2 L276.3 1042.0 L279.1 1040.4 L281.8 1038.6 L284.5 1037.5 L287.2 1036.9 L290.0 1035.6 L292.7 1033.4 L295.4 1030.8 L298.1 1029.1 L300.9 1027.8 L303.6 1025.4 L306.3 1023.1 L309.0 1021.4 L311.8 1019.9 L314.5 1017.8 L317.2 1015.4 L319.9 1013.3 L322.6 1011.5 L325.4 1009.4 L328.1 1006.7 L330.8 1003.9 L333.5 1001.3 L336.3 999.1 L339.0 996.8 L341.7 993.6 L344.4 990.7 L347.2 988.3 L349.9 985.4 L352.6 982.2 L355.3 979.7 L358.1 977.6 L360.8 974.7 L363.5 971.2 L366.2 967.5 L369.0 964.0 L371.7 960.4 L374.4 956.8 L377.1 953.8 L379.8 950.4 L382.6 946.6 L385.3 943.0 L388.0 939.5 L390.7 935.9 L393.5 932.0 L396.2 928.0 L398.9 924.1 L401.6 920.1 L404.4 915.9 L407.1 912.0 L409.8 908.2 L412.5 903.5 L415.3 899.3 L418.0 895.5 L420.7 890.8 L423.4 885.9 L426.1 881.3 L428.9 877.2 L431.6 873.3 L434.3 868.8 L437.0 864.3 L439.8 860.2 L442.5 856.2 L445.2 852.1 L447.9 847.9 L450.7 843.6 L453.4 839.3 L456.1 835.6 L458.8 832.4 L461.6 829.1 L464.3 825.2 L467.0 821.2 L469.7 818.0 L472.5 815.2 L475.2 812.3 L477.9 809.3 L480.6 807.0 L483.3 804.9 L486.1 802.4 L488.8 800.1 L491.5 798.1 L494.2 796.5 L497.0 795.4 L499.7 794.4 L502.4 793.5 L505.1 792.8 L507.9 792.4 L510.6 791.4 L513.3 790.2 L516.0 789.6 L518.8 789.5 L521.5 789.8 L524.2 790.0 L526.9 790.2 L529.7 790.5 L532.4 790.8 L535.1 791.6 L537.8 792.7 L540.5 794.2 L543.3 796.0 L546.0 797.4 L548.7 798.8 L551.4 800.5 L554.2 802.8 L556.9 805.4 L559.6 807.7 L562.3 810.4 L565.1 813.2 L567.8 815.6 L570.5 818.5 L573.2 821.9 L576.0 825.4 L578.7 829.0 L581.4 832.7 L584.1 836.4 L586.9 840.1 L589.6 844.4 L592.3 848.5 L595.0 851.4 L597.7 854.8 L600.5 859.2 L603.2 863.6 L605.9 868.2 L608.6 872.8 L611.4 876.9 L614.1 881.2 L616.8 885.6 L619.5 889.4 L622.3 893.5 L625.0 897.9 L627.7 902.1 L630.4 906.5 L633.2 911.1 L635.9 914.8 L638.6 917.7 L641.3 921.0 L644.0 925.4 L646.8 929.2 L649.5 932.7 L652.2 936.3 L654.9 939.6 L657.7 943.1 L660.4 946.5 L663.1 949.7 L665.8 952.4 L668.6 955.3 L671.3 959.3 L674.0 963.1 L676.7 965.6 L679.5 967.9 L682.2 970.8 L684.9 973.4 L687.6 975.8 L690.4 978.6 L693.1 981.7 L695.8 984.3 L698.5 986.7 L701.2 989.2 L704.0 991.2 L706.7 993.1 L709.4 995.5 L712.1 998.0 L714.9 999.9 L717.6 1001.5 L720.3 1003.6 L723.0 1005.7 L725.8 1007.6 L728.5 1009.2 L731.2 1011.0 L733.9 1013.3 L736.7 1015.1 L739.4 1016.7 L742.1 1018.6 L744.8 1020.2 L747.6 1021.4 L750.3 1022.7 L753.0 1024.2 L755.7 1025.4 L758.4 1026.5 L761.2 1028.2 L763.9 1029.7 L766.6 1030.9 L769.3 1032.5 L772.1 1034.2 L774.8 1036.3 L777.5 1037.4 L780.2 1037.2 L783.0 1037.9 L785.7 1039.1 L788.4 1040.2 L791.1 1041.4 L793.9 1043.2 L796.6 1044.6 L799.3 1045.3 L802.0 1046.4 L804.8 1047.3 L807.5 1047.3 L810.2 1048.4 L812.9 1050.3 L815.6 1051.9 L818.4 1052.6 L821.1 1052.7 L823.8 1053.6 L826.5 1054.1 L829.3 1054.7 L832.0 1056.0 L834.7 1057.1 L837.4 1058.6 L840.2 1058.9 L842.9 1058.9 L845.6 1060.2 L848.3 1060.7 L851.1 1059.7 L853.8 1059.5 L856.5 1060.6 L859.2 1061.6 L861.9 1062.0 L864.7 1062.8 L867.4 1064.9 L870.1 1067.8 L872.8 1066.8 L875.6 1064.1 L878.3 1064.3 L881.0 1065.3 L883.7 1065.2 L886.5 1065.5 L889.2 1066.8 L891.9 1066.8 L894.6 1067.6 L897.4 1069.6 L900.1 1069.9" stroke="#9bbe28"/>
<path d="M137.3 1087.8 L140.0 1087.2 L142.8 1088.3 L145.5 1088.9 L148.2 1088.2 L150.9 1086.4 L153.7 1085.4 L156.4 1085.0 L159.1 1083.0 L161.8 1082.0 L164.6 1083.2 L167.3 1084.2 L170.0 1083.3 L172.7 1082.5 L175.5 1082.7 L178.2 1081.8 L180.9 1079.6 L183.6 1077.8 L186.4 1076.6 L189.1 1075.2 L191.8 1074.8 L194.5 1073.9 L197.2 1072.5 L200.0 1071.8 L202.7 1071.1 L205.4 1070.7 L208.1 1069.9 L210.9 1068.4 L213.6 1067.7 L216.3 1067.3 L219.0 1066.5 L221.8 1065.7 L224.5 1065.4 L227.2 1064.2 L229.9 1061.5 L232.7 1060.1 L235.4 1059.3 L238.1 1057.8 L240.8 1057.7 L243.6 1058.3 L246.3 1057.1 L249.0 1054.5 L251.7 1052.8 L254.4 1051.9 L257.2 1050.7 L259.9 1048.6 L262.6 1046.8 L265.3 1046.3 L268.1 1045.2 L270.8 1043.2 L273.5 1041.6 L276.2 1040.3 L279.0 1038.6 L281.7 1037.4 L284.4 1035.9 L287.1 1034.0 L289.9 1032.1 L292.6 1030.3 L295.3 1028.6 L298.0 1026.5 L300.8 1024.9 L303.5 1023.4 L306.2 1021.6 L308.9 1019.9 L311.6 1017.6 L314.4 1014.8 L317.1 1012.6 L319.8 1010.6 L322.5 1008.0 L325.3 1005.2 L328.0 1002.6 L330.7 1000.2 L333.4 998.1 L336.2 995.8 L338.9 993.1 L341.6 990.5 L344.3 988.5 L347.1 986.1 L349.8 982.9 L352.5 979.4 L355.2 976.6 L357.9 974.1 L360.7 970.7 L363.4 967.2 L366.1 964.5 L368.8 961.3 L371.6 957.4 L374.3 953.8 L377.0 950.3 L379.7 946.6 L382.5 942.9 L385.2 939.0 L387.9 935.2 L390.6 931.8 L393.4 928.5 L396.1 924.8 L398.8 920.6 L401.5 916.7 L404.3 913.1 L407.0 908.7 L409.7 904.1 L412.4 899.8 L415.1 895.5 L417.9 891.2 L420.6 887.2 L423.3 883.2 L426.0 879.3 L428.8 875.6 L431.5 872.0 L434.2 868.8 L436.9 865.2 L439.7 861.3 L442.4 857.7 L445.1 854.2 L447.8 851.0 L450.6 847.6 L453.3 844.0 L456.0 840.9 L458.7 838.4 L461.5 835.5 L464.2 832.3 L466.9 830.1 L469.6 828.0 L472.3 826.2 L475.1 825.1 L477.8 823.4 L480.5 821.5 L483.2 820.1 L486.0 818.4 L488.7 816.9 L491.4 816.1 L494.1 815.2 L496.9 814.2 L499.6 813.5 L502.3 812.7 L505.0 811.8 L507.8 811.5 L510.5 811.4 L513.2 811.3 L515.9 811.4 L518.6 811.2 L521.4 810.8 L524.1 810.8 L526.8 811.5 L529.5 811.9 L532.3 812.2 L535.0 812.4 L537.7 812.3 L540.4 812.4 L543.2 813.1 L545.9 814.4 L548.6 815.5 L551.3 816.6 L554.1 817.5 L556.8 818.5 L559.5 819.9 L562.2 821.4 L565.0 823.6 L567.7 826.0 L570.4 828.0 L573.1 830.3 L575.8 832.5 L578.6 834.6 L581.3 837.2 L584.0 840.5 L586.7 843.6 L589.5 846.4 L592.2 849.3 L594.9 852.9 L597.6 856.6 L600.4 859.9 L603.1 863.4 L605.8 867.4 L608.5 871.1 L611.3 874.5 L614.0 878.6 L616.7 883.0 L619.4 887.2 L622.2 891.1 L624.9 894.6 L627.6 898.8 L630.3 902.8 L633.0 906.2 L635.8 909.5 L638.5 913.0 L641.2 916.8 L643.9 920.9 L646.7 925.1 L649.4 928.7 L652.1 932.4 L654.8 935.7 L657.6 938.3 L660.3 941.6 L663.0 945.6 L665.7 949.2 L668.5 952.7 L671.2 955.7 L673.9 958.7 L676.6 962.2 L679.4 964.9 L682.1 967.1 L684.8 969.9 L687.5 973.0 L690.2 975.4 L693.0 977.8 L695.7 980.7 L698.4 983.5 L701.1 986.1 L703.9 988.6 L706.6 991.0 L709.3 993.2 L712.0 995.1 L714.8 997.3 L717.5 999.7 L720.2 1002.1 L722.9 1004.0 L725.7 1005.1 L728.4 1006.7 L731.1 1008.4 L733.8 1010.1 L736.5 1012.2 L739.3 1014.2 L742.0 1015.6 L744.7 1017.4 L747.4 1019.5 L750.2 1021.8 L752.9 1023.6 L755.6 1024.5 L758.3 1025.8 L761.1 1027.0 L763.8 1027.7 L766.5 1029.1 L769.2 1030.9 L772.0 1032.3 L774.7 1033.1 L777.4 1034.6 L780.1 1036.0 L782.9 1036.4 L785.6 1037.2 L788.3 1038.8 L791.0 1040.3 L793.7 1041.8 L796.5 1043.4 L799.2 1044.2 L801.9 1044.9 L804.6 1046.3 L807.4 1046.7 L810.1 1046.9 L812.8 1047.9 L815.5 1048.6 L818.3 1049.6 L821.0 1051.6 L823.7 1052.9 L826.4 1052.4 L829.2 1051.5 L831.9 1052.8 L834.6 1055.0 L837.3 1056.3 L840.1 1056.0 L842.8 1054.9 L845.5 1056.0 L848.2 1057.7 L850.9 1057.9 L853.7 1058.5 L856.4 1059.2 L859.1 1059.8 L861.8 1061.2 L864.6 1062.0 L867.3 1063.1 L870.0 1064.1 L872.7 1063.6 L875.5 1062.7 L878.2 1063.1 L880.9 1063.1 L883.6 1063.2 L886.4 1064.8 L889.1 1067.1 L891.8 1068.8 L894.5 1068.3 L897.3 1066.9 L900.0 1067.2" stroke="#87c33c"/>
<path d="M137.2 1087.4 L139.9 1087.7 L142.7 1089.8 L145.4 1088.2 L148.1 1084.9 L150.8 1084.9 L153.6 1084.6 L156.3 1083.7 L159.0 1082.8 L161.7 1080.8 L164.5 1079.7 L167.2 1079.6 L169.9 1078.7 L172.6 1078.4 L175.4 1079.3 L178.1 1079.0 L180.8 1078.5 L183.5 1078.2 L186.2 1076.3 L189.0 1074.2 L191.7 1074.1 L194.4 1074.5 L197.1 1072.8 L199.9 1070.5 L202.6 1069.3 L205.3 1069.0 L208.0 1068.9 L210.8 1068.0 L213.5 1066.9 L216.2 1066.2 L218.9 1065.3 L221.7 1064.3 L224.4 1063.3 L227.1 1062.6 L229.8 1062.1 L232.5 1060.6 L235.3 1058.8 L238.0 1057.1 L240.7 1055.9 L243.4 1055.3 L246.2 1054.9 L248.9 1053.7 L251.6 1051.8 L254.3 1050.4 L257.1 1049.5 L259.8 1048.5 L262.5 1046.8 L265.2 1044.7 L268.0 1042.8 L270.7 1041.3 L273.4 1040.0 L276.1 1038.8 L278.9 1037.8 L281.6 1036.7 L284.3 1034.4 L287.0 1031.9 L289.7 1030.4 L292.5 1029.2 L295.2 1027.2 L297.9 1025.0 L300.6 1023.0 L303.4 1021.2 L306.1 1019.5 L308.8 1017.6 L311.5 1015.1 L314.3 1012.6 L317.0 1010.6 L319.7 1008.4 L322.4 1006.5 L325.2 1004.4 L327.9 1001.4 L330.6 998.4 L333.3 995.8 L336.1 993.3 L338.8 990.7 L341.5 987.9 L344.2 985.6 L346.9 983.1 L349.7 979.6 L352.4 975.6 L355.1 972.3 L357.8 969.7 L360.6 966.4 L363.3 962.6 L366.0 959.4 L368.7 956.2 L371.5 953.0 L374.2 949.4 L376.9 945.5 L379.6 941.9 L382.4 938.0 L385.1 934.0 L387.8 930.1 L390.5 926.3 L393.3 921.9 L396.0 917.6 L398.7 913.8 L401.4 909.8 L404.1 905.7 L406.9 901.9 L409.6 897.9 L412.3 893.7 L415.0 889.4 L417.8 885.6 L420.5 881.8 L423.2 877.7 L425.9 874.3 L428.7 871.1 L431.4 867.2 L434.1 863.7 L436.8 860.6 L439.6 857.3 L442.3 854.6 L445.0 851.8 L447.7 849.2 L450.4 847.2 L453.2 845.0 L455.9 842.7 L458.6 840.7 L461.3 839.2 L464.1 838.4 L466.8 837.3 L469.5 836.2 L472.2 835.6 L475.0 834.8 L477.7 833.7 L480.4 833.4 L483.1 834.0 L485.9 833.7 L488.6 832.9 L491.3 832.5 L494.0 832.2 L496.8 832.6 L499.5 833.1 L502.2 833.1 L504.9 832.9 L507.6 832.7 L510.4 832.6 L513.1 832.4 L515.8 832.4 L518.5 832.5 L521.3 832.2 L524.0 831.7 L526.7 831.8 L529.4 832.1 L532.2 832.0 L534.9 831.8 L537.6 831.4 L540.3 831.1 L543.1 830.8 L545.8 830.8 L548.5 831.1 L551.2 831.3 L554.0 831.2 L556.7 831.0 L559.4 831.4 L562.1 831.9 L564.8 832.1 L567.6 832.9 L570.3 833.8 L573.0 834.7 L575.7 836.3 L578.5 837.7 L581.2 839.1 L583.9 841.2 L586.6 843.0 L589.4 845.1 L592.1 847.8 L594.8 850.0 L597.5 852.3 L600.3 855.5 L603.0 858.6 L605.7 861.8 L608.4 865.6 L611.2 869.7 L613.9 873.3 L616.6 876.2 L619.3 879.6 L622.0 883.5 L624.8 887.2 L627.5 891.1 L630.2 895.4 L632.9 899.4 L635.7 903.0 L638.4 907.5 L641.1 911.8 L643.8 915.1 L646.6 919.0 L649.3 922.9 L652.0 926.8 L654.7 931.0 L657.5 934.2 L660.2 937.3 L662.9 941.3 L665.6 944.8 L668.3 947.6 L671.1 950.7 L673.8 954.2 L676.5 957.5 L679.2 960.7 L682.0 964.1 L684.7 967.3 L687.4 969.8 L690.1 972.2 L692.9 975.2 L695.6 977.9 L698.3 980.2 L701.0 982.9 L703.8 985.9 L706.5 988.5 L709.2 990.8 L711.9 993.2 L714.7 995.8 L717.4 997.9 L720.1 999.6 L722.8 1001.4 L725.5 1002.8 L728.3 1004.9 L731.0 1007.4 L733.7 1009.2 L736.4 1011.1 L739.2 1013.0 L741.9 1014.7 L744.6 1016.4 L747.3 1018.6 L750.1 1020.5 L752.8 1020.9 L755.5 1021.7 L758.2 1023.7 L761.0 1025.4 L763.7 1026.9 L766.4 1028.6 L769.1 1029.6 L771.9 1030.7 L774.6 1032.5 L777.3 1033.8 L780.0 1035.1 L782.7 1036.4 L785.5 1037.3 L788.2 1038.1 L790.9 1039.5 L793.6 1040.8 L796.4 1041.5 L799.1 1042.2 L801.8 1042.9 L804.5 1043.4 L807.3 1044.6 L810.0 1046.6 L812.7 1048.6 L815.4 1049.2 L818.2 1049.3 L820.9 1049.9 L823.6 1050.3 L826.3 1051.7 L829.1 1053.1 L831.8 1052.3 L834.5 1052.3 L837.2 1053.9 L839.9 1055.4 L842.7 1055.9 L845.4 1055.7 L848.1 1056.9 L850.8 1058.8 L853.6 1059.7 L856.3 1059.2 L859.0 1058.7 L861.7 1060.0 L864.5 1062.0 L867.2 1062.1 L869.9 1062.4 L872.6 1062.5 L875.4 1062.6 L878.1 1064.8 L880.8 1066.0 L883.5 1065.2 L886.2 1064.8 L889.0 1065.8 L891.7 1067.1 L894.4 1067.0 L897.1 1066.2 L899.9 1066.5" stroke="#6ec350"/>
<path d="M137.1 1088.0 L139.8 1088.0 L142.6 1086.7 L145.3 1085.4 L148.0 1085.4 L150.7 1085.5 L153.5 1085.4 L156.2 1084.8 L158.9 1082.4 L161.6 1081.1 L164.3 1081.5 L167.1 1080.6 L169.8 1079.0 L172.5 1077.9 L175.2 1077.4 L178.0 1076.9 L180.7 1075.6 L183.4 1074.2 L186.1 1073.5 L188.9 1072.7 L191.6 1072.4 L194.3 1071.9 L197.0 1070.6 L199.8 1069.4 L202.5 1069.0 L205.2 1068.7 L207.9 1068.0 L210.7 1067.6 L213.4 1067.2 L216.1 1065.9 L218.8 1064.1 L221.5 1063.0 L224.3 1061.8 L227.0 1060.8 L229.7 1060.5 L232.4 1059.0 L235.2 1057.3 L237.9 1056.9 L240.6 1055.7 L243.3 1054.0 L246.1 1053.6 L248.8 1052.6 L251.5 1049.9 L254.2 1048.2 L257.0 1047.7 L259.7 1046.7 L262.4 1045.3 L265.1 1043.3 L267.9 1041.8 L270.6 1040.9 L273.3 1039.0 L276.0 1037.3 L278.7 1036.4 L281.5 1034.9 L284.2 1032.7 L286.9 1031.4 L289.6 1030.6 L292.4 1029.0 L295.1 1026.7 L297.8 1024.6 L300.5 1023.0 L303.3 1021.7 L306.0 1020.0 L308.7 1017.1 L311.4 1014.5 L314.2 1012.9 L316.9 1011.3 L319.6 1008.3 L322.3 1005.2 L325.0 1003.5 L327.8 1001.6 L330.5 999.2 L333.2 996.9 L335.9 994.6 L338.7 992.5 L341.4 990.3 L344.1 987.0 L346.8 983.2 L349.6 979.8 L352.3 977.1 L355.0 974.3 L357.7 971.1 L360.5 968.4 L363.2 966.2 L365.9 962.9 L368.6 958.6 L371.4 955.2 L374.1 952.2 L376.8 949.0 L379.5 945.4 L382.2 941.6 L385.0 938.2 L387.7 934.6 L390.4 931.2 L393.1 927.7 L395.9 923.9 L398.6 920.5 L401.3 916.7 L404.0 912.6 L406.8 909.0 L409.5 905.1 L412.2 901.0 L414.9 897.6 L417.7 894.6 L420.4 891.3 L423.1 887.9 L425.8 884.5 L428.6 880.9 L431.3 877.9 L434.0 875.1 L436.7 872.2 L439.4 869.3 L442.2 866.5 L444.9 864.5 L447.6 862.5 L450.3 860.0 L453.1 858.0 L455.8 856.6 L458.5 855.6 L461.2 854.4 L464.0 852.6 L466.7 851.3 L469.4 850.3 L472.1 849.4 L474.9 849.4 L477.6 849.9 L480.3 850.4 L483.0 850.3 L485.8 849.5 L488.5 849.0 L491.2 849.4 L493.9 850.0 L496.6 850.3 L499.4 850.3 L502.1 850.1 L504.8 850.7 L507.5 851.3 L510.3 851.7 L513.0 852.2 L515.7 852.6 L518.4 853.1 L521.2 852.8 L523.9 852.2 L526.6 851.2 L529.3 850.2 L532.1 849.9 L534.8 849.6 L537.5 848.9 L540.2 848.4 L542.9 847.8 L545.7 847.4 L548.4 847.8 L551.1 847.9 L553.8 847.6 L556.6 847.6 L559.3 847.3 L562.0 847.2 L564.7 847.9 L567.5 848.4 L570.2 848.6 L572.9 849.5 L575.6 850.7 L578.4 851.8 L581.1 852.9 L583.8 854.5 L586.5 856.7 L589.3 858.7 L592.0 860.5 L594.7 862.4 L597.4 864.8 L600.1 867.2 L602.9 869.3 L605.6 872.1 L608.3 875.6 L611.0 878.4 L613.8 881.1 L616.5 884.6 L619.2 888.2 L621.9 891.6 L624.7 895.2 L627.4 899.0 L630.1 902.7 L632.8 905.7 L635.6 909.0 L638.3 913.3 L641.0 916.8 L643.7 919.8 L646.5 923.7 L649.2 927.4 L651.9 930.7 L654.6 934.1 L657.3 937.4 L660.1 940.9 L662.8 944.6 L665.5 947.7 L668.2 950.2 L671.0 953.1 L673.7 956.7 L676.4 960.0 L679.1 962.5 L681.9 965.4 L684.6 968.3 L687.3 970.8 L690.0 973.4 L692.8 976.2 L695.5 979.3 L698.2 981.6 L700.9 983.8 L703.7 986.7 L706.4 989.3 L709.1 991.4 L711.8 993.3 L714.5 995.8 L717.3 997.7 L720.0 999.1 L722.7 1001.3 L725.4 1003.4 L728.2 1004.9 L730.9 1006.5 L733.6 1008.4 L736.3 1010.9 L739.1 1013.0 L741.8 1014.1 L744.5 1015.4 L747.2 1017.0 L750.0 1018.6 L752.7 1020.1 L755.4 1021.8 L758.1 1023.8 L760.8 1025.2 L763.6 1026.3 L766.3 1027.9 L769.0 1029.6 L771.7 1031.2 L774.5 1032.5 L777.2 1033.5 L779.9 1033.9 L782.6 1034.7 L785.4 1036.9 L788.1 1038.7 L790.8 1039.1 L793.5 1039.1 L796.3 1039.9 L799.0 1041.0 L801.7 1041.7 L804.4 1042.7 L807.2 1043.6 L809.9 1044.5 L812.6 1045.5 L815.3 1046.7 L818.0 1047.7 L820.8 1048.0 L823.5 1048.7 L826.2 1050.1 L828.9 1051.0 L831.7 1051.6 L834.4 1052.3 L837.1 1053.1 L839.8 1053.6 L842.6 1054.1 L845.3 1055.4 L848.0 1055.6 L850.7 1055.2 L853.5 1057.0 L856.2 1058.2 L858.9 1057.2 L861.6 1056.7 L864.4 1056.9 L867.1 1057.9 L869.8 1059.4 L872.5 1059.8 L875.2 1060.0 L878.0 1060.2 L880.7 1059.8 L883.4 1061.3 L886.1 1064.1 L888.9 1064.6 L891.6 1064.7 L894.3 1065.9 L897.0 1066.0 L899.8 1065.7" stroke="#5ac364"/>
<path d="M137.0 1083.6 L139.7 1084.1 L142.5 1083.4 L145.2 1082.4 L147.9 1082.0 L150.6 1081.1 L153.3 1081.8 L156.1 1081.8 L158.8 1079.8 L161.5 1079.0 L164.2 1077.9 L167.0 1076.6 L169.7 1076.1 L172.4 1075.3 L175.1 1076.1 L177.9 1077.1 L180.6 1076.2 L183.3 1075.5 L186.0 1074.5 L188.8 1073.2 L191.5 1072.7 L194.2 1070.5 L196.9 1067.8 L199.6 1067.2 L202.4 1066.8 L205.1 1066.3 L207.8 1065.8 L210.5 1064.4 L213.3 1063.4 L216.0 1063.3 L218.7 1062.1 L221.4 1060.4 L224.2 1060.3 L226.9 1059.8 L229.6 1058.3 L232.3 1058.0 L235.1 1057.4 L237.8 1055.5 L240.5 1053.6 L243.2 1052.1 L246.0 1051.1 L248.7 1050.0 L251.4 1048.5 L254.1 1047.8 L256.8 1047.3 L259.6 1045.6 L262.3 1043.1 L265.0 1041.8 L267.7 1041.0 L270.5 1038.9 L273.2 1037.2 L275.9 1036.3 L278.6 1035.0 L281.4 1033.2 L284.1 1031.3 L286.8 1029.5 L289.5 1027.6 L292.3 1025.6 L295.0 1023.7 L297.7 1022.2 L300.4 1020.8 L303.2 1019.2 L305.9 1017.4 L308.6 1015.2 L311.3 1013.2 L314.0 1011.6 L316.8 1009.7 L319.5 1007.6 L322.2 1005.5 L324.9 1002.8 L327.7 1000.4 L330.4 998.5 L333.1 996.3 L335.8 993.3 L338.6 990.2 L341.3 987.9 L344.0 985.7 L346.7 982.5 L349.5 979.0 L352.2 976.1 L354.9 973.6 L357.6 971.2 L360.4 968.4 L363.1 965.1 L365.8 961.8 L368.5 958.8 L371.2 955.3 L374.0 952.2 L376.7 949.3 L379.4 945.9 L382.1 942.2 L384.9 938.6 L387.6 935.3 L390.3 932.1 L393.0 928.8 L395.8 925.4 L398.5 921.8 L401.2 918.6 L403.9 915.5 L406.7 912.2 L409.4 908.7 L412.1 905.5 L414.8 902.6 L417.5 899.3 L420.3 896.1 L423.0 893.1 L425.7 889.8 L428.4 886.8 L431.2 884.5 L433.9 881.9 L436.6 879.5 L439.3 877.2 L442.1 875.1 L444.8 873.4 L447.5 871.1 L450.2 869.2 L453.0 868.4 L455.7 867.4 L458.4 866.4 L461.1 865.4 L463.9 864.4 L466.6 863.8 L469.3 863.6 L472.0 863.7 L474.7 863.6 L477.5 863.2 L480.2 863.0 L482.9 863.2 L485.6 863.7 L488.4 864.4 L491.1 864.8 L493.8 865.3 L496.5 866.2 L499.3 866.5 L502.0 867.1 L504.7 868.6 L507.4 869.9 L510.2 870.5 L512.9 871.4 L515.6 872.6 L518.3 873.8 L521.1 872.9 L523.8 871.8 L526.5 870.7 L529.2 869.7 L531.9 868.4 L534.7 866.8 L537.4 865.9 L540.1 865.1 L542.8 864.4 L545.6 863.8 L548.3 862.9 L551.0 861.8 L553.7 861.1 L556.5 861.5 L559.2 861.7 L561.9 860.9 L564.6 860.5 L567.4 860.7 L570.1 861.2 L572.8 861.6 L575.5 861.8 L578.3 862.6 L581.0 864.0 L583.7 865.2 L586.4 866.0 L589.1 867.6 L591.9 869.6 L594.6 871.1 L597.3 872.8 L600.0 875.3 L602.8 877.8 L605.5 880.3 L608.2 882.9 L610.9 885.4 L613.7 887.3 L616.4 889.6 L619.1 893.3 L621.8 896.6 L624.6 899.2 L627.3 901.8 L630.0 904.8 L632.7 908.7 L635.4 912.6 L638.2 915.8 L640.9 918.9 L643.6 922.2 L646.3 925.4 L649.1 928.2 L651.8 930.7 L654.5 934.1 L657.2 937.8 L660.0 941.5 L662.7 944.8 L665.4 947.3 L668.1 949.8 L670.9 952.8 L673.6 955.9 L676.3 959.3 L679.0 962.3 L681.8 964.2 L684.5 967.2 L687.2 970.8 L689.9 973.6 L692.6 975.5 L695.4 977.6 L698.1 980.1 L700.8 982.6 L703.5 985.2 L706.3 988.0 L709.0 990.5 L711.7 992.0 L714.4 993.4 L717.2 995.5 L719.9 998.0 L722.6 1000.1 L725.3 1001.2 L728.1 1002.3 L730.8 1004.8 L733.5 1006.9 L736.2 1008.5 L739.0 1011.2 L741.7 1013.5 L744.4 1014.5 L747.1 1015.9 L749.8 1017.6 L752.6 1019.2 L755.3 1020.0 L758.0 1020.4 L760.7 1022.3 L763.5 1025.0 L766.2 1026.3 L768.9 1026.8 L771.6 1027.6 L774.4 1028.7 L777.1 1030.3 L779.8 1032.2 L782.5 1033.4 L785.3 1034.4 L788.0 1035.3 L790.7 1036.2 L793.4 1037.9 L796.2 1039.3 L798.9 1039.7 L801.6 1040.0 L804.3 1040.5 L807.0 1041.4 L809.8 1042.8 L812.5 1044.6 L815.2 1046.7 L817.9 1047.5 L820.7 1047.4 L823.4 1047.5 L826.1 1047.5 L828.8 1048.1 L831.6 1049.8 L834.3 1050.6 L837.0 1050.7 L839.7 1052.3 L842.5 1054.4 L845.2 1054.9 L847.9 1054.5 L850.6 1054.3 L853.3 1054.7 L856.1 1055.2 L858.8 1056.0 L861.5 1057.8 L864.2 1059.2 L867.0 1059.7 L869.7 1060.2 L872.4 1060.9 L875.1 1061.1 L877.9 1059.8 L880.6 1059.1 L883.3 1060.6 L886.0 1062.5 L888.8 1062.0 L891.5 1060.7 L894.2 1062.1 L896.9 1062.4 L899.7 1061.5" stroke="#46be78"/>
<path d="M136.9 1083.2 L139.6 1082.2 L142.3 1081.0 L145.1 1082.1 L147.8 1083.2 L150.5 1081.6 L153.2 1080.9 L156.0 1082.2 L158.7 1081.7 L161.4 1078.8 L164.1 1077.8 L166.9 1077.0 L169.6 1074.9 L172.3 1074.7 L175.0 1074.1 L177.8 1072.1 L180.5 1071.8 L183.2 1072.1 L185.9 1072.1 L188.6 1071.7 L191.4 1070.8 L194.1 1070.1 L196.8 1068.3 L199.5 1066.5 L202.3 1065.9 L205.0 1065.2 L207.7 1064.4 L210.4 1063.2 L213.2 1062.0 L215.9 1062.0 L218.6 1062.2 L221.3 1060.9 L224.1 1058.2 L226.8 1055.4 L229.5 1054.0 L232.2 1054.2 L235.0 1054.1 L237.7 1053.0 L240.4 1051.9 L243.1 1051.4 L245.8 1050.4 L248.6 1048.9 L251.3 1048.0 L254.0 1047.0 L256.7 1045.0 L259.5 1043.2 L262.2 1041.7 L264.9 1040.7 L267.6 1039.9 L270.4 1037.5 L273.1 1034.9 L275.8 1033.9 L278.5 1033.3 L281.3 1031.8 L284.0 1029.8 L286.7 1028.1 L289.4 1026.2 L292.2 1023.9 L294.9 1022.0 L297.6 1020.5 L300.3 1018.9 L303.0 1016.7 L305.8 1014.5 L308.5 1012.9 L311.2 1011.5 L313.9 1009.1 L316.7 1006.6 L319.4 1004.6 L322.1 1001.9 L324.8 999.2 L327.6 996.6 L330.3 993.7 L333.0 991.7 L335.7 989.7 L338.5 986.8 L341.2 984.3 L343.9 981.9 L346.6 978.3 L349.3 975.2 L352.1 973.1 L354.8 970.4 L357.5 967.1 L360.2 964.5 L363.0 961.5 L365.7 957.9 L368.4 954.6 L371.1 951.6 L373.9 948.8 L376.6 945.9 L379.3 942.5 L382.0 939.1 L384.8 935.6 L387.5 931.9 L390.2 928.7 L392.9 926.3 L395.7 923.1 L398.4 919.5 L401.1 916.4 L403.8 913.6 L406.5 910.7 L409.3 907.5 L412.0 904.3 L414.7 902.0 L417.4 899.8 L420.2 897.1 L422.9 894.2 L425.6 891.7 L428.3 890.1 L431.1 888.4 L433.8 886.6 L436.5 885.1 L439.2 883.2 L442.0 881.7 L444.7 880.9 L447.4 880.0 L450.1 878.7 L452.9 878.7 L455.6 879.0 L458.3 878.4 L461.0 878.0 L463.7 877.6 L466.5 877.2 L469.2 877.6 L471.9 878.2 L474.6 878.4 L477.4 879.3 L480.1 881.0 L482.8 882.1 L485.5 882.8 L488.3 883.3 L491.0 884.1 L493.7 885.4 L496.4 886.7 L499.2 888.2 L501.9 889.6 L504.6 890.2 L507.3 890.4 L510.1 891.0 L512.8 892.3 L515.5 893.9 L518.2 894.9 L520.9 893.4 L523.7 891.6 L526.4 890.0 L529.1 889.2 L531.8 888.6 L534.6 887.4 L537.3 886.4 L540.0 885.2 L542.7 883.9 L545.5 882.9 L548.2 881.9 L550.9 880.9 L553.6 880.0 L556.4 878.9 L559.1 878.0 L561.8 877.5 L564.5 876.9 L567.2 876.1 L570.0 875.9 L572.7 875.5 L575.4 874.9 L578.1 874.4 L580.9 874.6 L583.6 875.1 L586.3 875.0 L589.0 875.2 L591.8 876.2 L594.5 877.8 L597.2 879.1 L599.9 879.9 L602.7 881.6 L605.4 884.0 L608.1 885.4 L610.8 886.6 L613.6 888.7 L616.3 891.7 L619.0 894.5 L621.7 896.6 L624.4 898.8 L627.2 901.6 L629.9 904.3 L632.6 906.7 L635.3 909.6 L638.1 913.0 L640.8 916.3 L643.5 919.5 L646.2 922.4 L649.0 925.3 L651.7 928.5 L654.4 931.9 L657.1 934.7 L659.9 937.2 L662.6 940.2 L665.3 943.5 L668.0 946.8 L670.8 949.2 L673.5 952.0 L676.2 955.6 L678.9 958.9 L681.6 962.0 L684.4 964.5 L687.1 966.3 L689.8 968.3 L692.5 971.3 L695.3 974.0 L698.0 976.2 L700.7 978.6 L703.4 981.1 L706.2 983.4 L708.9 986.3 L711.6 989.2 L714.3 991.4 L717.1 993.2 L719.8 994.3 L722.5 996.0 L725.2 998.5 L728.0 1000.3 L730.7 1002.5 L733.4 1004.8 L736.1 1006.4 L738.8 1008.0 L741.6 1010.0 L744.3 1011.2 L747.0 1012.6 L749.7 1014.4 L752.5 1016.2 L755.2 1018.3 L757.9 1019.8 L760.6 1020.7 L763.4 1022.6 L766.1 1024.4 L768.8 1025.0 L771.5 1026.2 L774.3 1027.7 L777.0 1028.4 L779.7 1029.2 L782.4 1030.4 L785.1 1032.1 L787.9 1033.6 L790.6 1034.9 L793.3 1035.2 L796.0 1035.1 L798.8 1036.3 L801.5 1038.0 L804.2 1039.3 L806.9 1040.3 L809.7 1040.4 L812.4 1041.4 L815.1 1043.6 L817.8 1044.5 L820.6 1044.9 L823.3 1045.9 L826.0 1046.8 L828.7 1047.6 L831.5 1048.6 L834.2 1049.3 L836.9 1049.7 L839.6 1050.6 L842.3 1051.3 L845.1 1052.3 L847.8 1053.5 L850.5 1053.0 L853.2 1052.5 L856.0 1054.6 L858.7 1055.0 L861.4 1054.0 L864.1 1054.7 L866.9 1055.9 L869.6 1056.7 L872.3 1057.4 L875.0 1058.6 L877.8 1059.3 L880.5 1059.2 L883.2 1060.3 L885.9 1061.0 L888.7 1061.6 L891.4 1062.8 L894.1 1063.1 L896.8 1062.7 L899.5 1062.6" stroke="#28b991"/>
<path d="M136.8 1081.7 L139.5 1082.2 L142.2 1081.4 L145.0 1077.4 L147.7 1076.2 L150.4 1077.6 L153.1 1077.2 L155.9 1078.1 L158.6 1078.7 L161.3 1077.7 L164.0 1077.1 L166.8 1075.3 L169.5 1074.3 L172.2 1073.8 L174.9 1072.4 L177.6 1071.7 L180.4 1071.2 L183.1 1069.7 L185.8 1068.7 L188.5 1068.7 L191.3 1068.3 L194.0 1067.0 L196.7 1065.9 L199.4 1065.4 L202.2 1064.8 L204.9 1064.4 L207.6 1064.0 L210.3 1062.2 L213.1 1061.6 L215.8 1062.1 L218.5 1060.6 L221.2 1058.2 L223.9 1056.7 L226.7 1055.6 L229.4 1054.2 L232.1 1052.8 L234.8 1051.6 L237.6 1050.4 L240.3 1049.6 L243.0 1048.6 L245.7 1047.6 L248.5 1046.6 L251.2 1045.7 L253.9 1044.3 L256.6 1042.6 L259.4 1040.9 L262.1 1038.4 L264.8 1036.3 L267.5 1035.5 L270.3 1034.5 L273.0 1033.2 L275.7 1031.4 L278.4 1029.5 L281.1 1028.5 L283.9 1027.2 L286.6 1025.1 L289.3 1023.2 L292.0 1021.4 L294.8 1020.0 L297.5 1018.9 L300.2 1016.8 L302.9 1014.1 L305.7 1011.4 L308.4 1009.4 L311.1 1008.1 L313.8 1006.2 L316.6 1003.6 L319.3 1001.2 L322.0 999.3 L324.7 997.5 L327.5 995.2 L330.2 992.5 L332.9 989.7 L335.6 987.0 L338.3 984.0 L341.1 980.9 L343.8 978.4 L346.5 975.9 L349.2 973.2 L352.0 970.7 L354.7 967.9 L357.4 964.9 L360.1 961.8 L362.9 958.4 L365.6 955.5 L368.3 953.2 L371.0 950.3 L373.8 947.3 L376.5 944.7 L379.2 941.9 L381.9 938.8 L384.7 935.8 L387.4 932.7 L390.1 929.5 L392.8 926.7 L395.5 923.9 L398.3 921.1 L401.0 918.2 L403.7 915.2 L406.4 912.7 L409.2 910.4 L411.9 907.9 L414.6 905.2 L417.3 902.8 L420.1 901.1 L422.8 899.4 L425.5 897.6 L428.2 895.7 L431.0 894.4 L433.7 893.7 L436.4 892.9 L439.1 891.7 L441.8 891.2 L444.6 891.5 L447.3 891.1 L450.0 890.0 L452.7 889.9 L455.5 890.5 L458.2 891.3 L460.9 892.2 L463.6 892.4 L466.4 892.5 L469.1 893.2 L471.8 894.1 L474.5 895.0 L477.3 895.3 L480.0 895.5 L482.7 896.8 L485.4 898.4 L488.2 899.2 L490.9 899.9 L493.6 901.5 L496.3 902.8 L499.0 903.4 L501.8 904.5 L504.5 906.2 L507.2 907.4 L509.9 908.1 L512.7 908.6 L515.4 909.6 L518.1 910.7 L520.8 909.9 L523.6 908.9 L526.3 907.8 L529.0 906.7 L531.7 904.8 L534.5 903.0 L537.2 901.9 L539.9 900.9 L542.6 899.8 L545.4 898.3 L548.1 897.1 L550.8 896.1 L553.5 894.8 L556.2 893.5 L559.0 892.8 L561.7 892.2 L564.4 891.4 L567.1 890.7 L569.9 889.9 L572.6 888.7 L575.3 887.9 L578.0 887.7 L580.8 887.0 L583.5 886.1 L586.2 885.6 L588.9 885.7 L591.7 885.7 L594.4 885.9 L597.1 887.0 L599.8 887.9 L602.6 888.6 L605.3 889.5 L608.0 890.7 L610.7 892.4 L613.4 893.9 L616.2 895.2 L618.9 896.8 L621.6 899.1 L624.3 901.7 L627.1 904.2 L629.8 907.0 L632.5 909.6 L635.2 911.8 L638.0 914.3 L640.7 916.6 L643.4 919.1 L646.1 922.4 L648.9 925.5 L651.6 928.4 L654.3 931.5 L657.0 934.2 L659.7 936.2 L662.5 939.1 L665.2 942.5 L667.9 945.6 L670.6 948.3 L673.4 950.9 L676.1 953.9 L678.8 956.7 L681.5 958.8 L684.3 961.5 L687.0 964.5 L689.7 966.7 L692.4 969.1 L695.2 972.0 L697.9 974.6 L700.6 976.9 L703.3 979.0 L706.1 981.1 L708.8 983.8 L711.5 986.4 L714.2 988.5 L716.9 990.5 L719.7 992.3 L722.4 994.5 L725.1 997.0 L727.8 999.0 L730.6 1000.8 L733.3 1003.1 L736.0 1005.0 L738.7 1007.5 L741.5 1009.9 L744.2 1010.6 L746.9 1011.3 L749.6 1012.9 L752.4 1015.1 L755.1 1017.4 L757.8 1018.6 L760.5 1019.2 L763.3 1020.6 L766.0 1022.1 L768.7 1022.9 L771.4 1023.3 L774.1 1024.7 L776.9 1027.2 L779.6 1029.4 L782.3 1030.3 L785.0 1030.8 L787.8 1031.7 L790.5 1032.6 L793.2 1033.2 L795.9 1033.4 L798.7 1033.9 L801.4 1035.7 L804.1 1037.1 L806.8 1038.0 L809.6 1039.3 L812.3 1039.7 L815.0 1039.8 L817.7 1041.7 L820.5 1042.9 L823.2 1043.4 L825.9 1044.8 L828.6 1045.6 L831.3 1045.5 L834.1 1045.8 L836.8 1047.2 L839.5 1048.4 L842.2 1049.5 L845.0 1051.0 L847.7 1051.8 L850.4 1052.4 L853.1 1052.9 L855.9 1052.3 L858.6 1051.4 L861.3 1052.1 L864.0 1054.1 L866.8 1056.0 L869.5 1056.7 L872.2 1056.6 L874.9 1056.7 L877.6 1057.5 L880.4 1058.4 L883.1 1059.4 L885.8 1058.9 L888.5 1057.4 L891.3 1057.8 L894.0 1060.0 L896.7 1062.0 L899.4 1061.9" stroke="#19af9b"/>
<path d="M136.7 1081.0 L139.4 1079.2 L142.1 1079.4 L144.9 1080.8 L147.6 1080.4 L150.3 1079.4 L153.0 1078.7 L155.7 1078.0 L158.5 1076.2 L161.2 1073.4 L163.9 1071.7 L166.6 1071.1 L169.4 1070.5 L172.1 1069.8 L174.8 1069.5 L177.5 1068.8 L180.3 1067.7 L183.0 1067.9 L185.7 1069.3 L188.4 1068.8 L191.2 1067.3 L193.9 1066.3 L196.6 1064.6 L199.3 1062.8 L202.1 1062.7 L204.8 1063.2 L207.5 1062.1 L210.2 1060.5 L212.9 1059.7 L215.7 1058.8 L218.4 1057.5 L221.1 1056.2 L223.8 1055.4 L226.6 1054.8 L229.3 1053.8 L232.0 1052.0 L234.7 1049.9 L237.5 1048.3 L240.2 1047.9 L242.9 1047.4 L245.6 1045.6 L248.4 1044.4 L251.1 1044.1 L253.8 1043.3 L256.5 1041.0 L259.3 1038.1 L262.0 1036.4 L264.7 1035.1 L267.4 1033.5 L270.1 1032.2 L272.9 1031.5 L275.6 1030.9 L278.3 1029.9 L281.0 1027.5 L283.8 1024.7 L286.5 1023.0 L289.2 1021.9 L291.9 1020.5 L294.7 1018.3 L297.4 1016.0 L300.1 1014.2 L302.8 1012.1 L305.6 1010.0 L308.3 1007.8 L311.0 1006.3 L313.7 1004.8 L316.4 1002.7 L319.2 1000.6 L321.9 998.1 L324.6 995.2 L327.3 992.7 L330.1 990.3 L332.8 987.8 L335.5 985.1 L338.2 982.0 L341.0 979.3 L343.7 977.2 L346.4 974.7 L349.1 972.0 L351.9 969.7 L354.6 967.3 L357.3 964.3 L360.0 960.8 L362.8 957.6 L365.5 955.0 L368.2 952.2 L370.9 949.6 L373.6 947.1 L376.4 944.4 L379.1 941.6 L381.8 938.9 L384.5 936.3 L387.3 933.6 L390.0 930.7 L392.7 928.1 L395.4 925.5 L398.2 922.6 L400.9 919.9 L403.6 918.4 L406.3 916.8 L409.1 914.7 L411.8 912.6 L414.5 910.5 L417.2 909.1 L420.0 908.3 L422.7 906.9 L425.4 905.7 L428.1 904.7 L430.8 903.6 L433.6 903.0 L436.3 902.5 L439.0 902.0 L441.7 901.8 L444.5 902.2 L447.2 902.9 L449.9 902.8 L452.6 903.0 L455.4 903.6 L458.1 903.8 L460.8 904.4 L463.5 905.5 L466.3 906.2 L469.0 906.9 L471.7 908.2 L474.4 909.5 L477.2 910.2 L479.9 910.9 L482.6 912.1 L485.3 913.5 L488.0 915.1 L490.8 916.8 L493.5 918.4 L496.2 919.9 L498.9 921.0 L501.7 921.5 L504.4 922.3 L507.1 923.7 L509.8 925.2 L512.6 926.2 L515.3 927.1 L518.0 928.1 L520.7 926.6 L523.5 925.4 L526.2 924.6 L528.9 923.3 L531.6 921.2 L534.3 919.2 L537.1 918.3 L539.8 917.7 L542.5 916.2 L545.2 914.5 L548.0 913.4 L550.7 912.1 L553.4 910.5 L556.1 909.4 L558.9 908.3 L561.6 906.9 L564.3 905.2 L567.0 903.9 L569.8 902.9 L572.5 901.9 L575.2 901.0 L577.9 900.1 L580.7 899.9 L583.4 899.6 L586.1 898.5 L588.8 897.8 L591.5 897.5 L594.3 896.9 L597.0 896.9 L599.7 897.7 L602.4 898.2 L605.2 898.6 L607.9 899.5 L610.6 900.1 L613.3 900.8 L616.1 901.6 L618.8 902.6 L621.5 904.6 L624.2 906.7 L627.0 908.1 L629.7 909.8 L632.4 912.4 L635.1 915.4 L637.9 917.3 L640.6 918.7 L643.3 920.4 L646.0 922.5 L648.7 925.1 L651.5 928.1 L654.2 931.1 L656.9 933.7 L659.6 935.9 L662.4 938.7 L665.1 941.9 L667.8 944.9 L670.5 947.7 L673.3 950.3 L676.0 952.8 L678.7 955.4 L681.4 958.3 L684.2 961.3 L686.9 963.9 L689.6 966.1 L692.3 967.6 L695.1 969.4 L697.8 972.3 L700.5 975.5 L703.2 978.6 L705.9 980.6 L708.7 981.9 L711.4 983.8 L714.1 985.5 L716.8 987.6 L719.6 990.4 L722.3 992.9 L725.0 995.0 L727.7 997.0 L730.5 998.8 L733.2 1000.2 L735.9 1001.9 L738.6 1004.6 L741.4 1007.0 L744.1 1008.6 L746.8 1009.7 L749.5 1010.7 L752.2 1012.1 L755.0 1014.3 L757.7 1016.7 L760.4 1017.8 L763.1 1018.1 L765.9 1018.8 L768.6 1020.5 L771.3 1022.7 L774.0 1023.9 L776.8 1024.6 L779.5 1026.4 L782.2 1027.8 L784.9 1028.5 L787.7 1029.2 L790.4 1029.8 L793.1 1030.4 L795.8 1031.1 L798.6 1032.0 L801.3 1033.7 L804.0 1036.1 L806.7 1037.7 L809.4 1037.9 L812.2 1038.4 L814.9 1039.8 L817.6 1040.8 L820.3 1040.8 L823.1 1041.3 L825.8 1041.8 L828.5 1042.7 L831.2 1045.2 L834.0 1046.5 L836.7 1046.4 L839.4 1046.9 L842.1 1048.4 L844.9 1049.4 L847.6 1049.2 L850.3 1049.5 L853.0 1050.6 L855.8 1052.0 L858.5 1052.4 L861.2 1052.2 L863.9 1052.6 L866.6 1052.9 L869.4 1054.0 L872.1 1054.7 L874.8 1055.4 L877.5 1056.9 L880.3 1056.0 L883.0 1055.0 L885.7 1055.5 L888.4 1056.7 L891.2 1058.6 L893.9 1060.4 L896.6 1061.9 L899.3 1062.3" stroke="#14a5aa"/>
<path d="M136.6 1078.3 L139.3 1077.8 L142.0 1077.8 L144.7 1077.3 L147.5 1076.3 L150.2 1075.9 L152.9 1076.6 L155.6 1076.4 L158.4 1074.8 L161.1 1073.0 L163.8 1072.9 L166.5 1073.7 L169.3 1072.8 L172.0 1071.1 L174.7 1069.9 L177.4 1068.6 L180.2 1067.1 L182.9 1066.4 L185.6 1066.1 L188.3 1065.0 L191.0 1064.3 L193.8 1064.1 L196.5 1063.3 L199.2 1061.9 L201.9 1060.5 L204.7 1060.6 L207.4 1060.8 L210.1 1059.6 L212.8 1058.1 L215.6 1056.2 L218.3 1054.1 L221.0 1054.3 L223.7 1054.2 L226.5 1051.9 L229.2 1051.4 L231.9 1051.0 L234.6 1048.9 L237.4 1047.9 L240.1 1046.8 L242.8 1045.4 L245.5 1044.9 L248.2 1043.2 L251.0 1041.0 L253.7 1040.3 L256.4 1039.2 L259.1 1037.5 L261.9 1035.8 L264.6 1034.7 L267.3 1033.6 L270.0 1031.5 L272.8 1030.1 L275.5 1029.3 L278.2 1027.7 L280.9 1025.3 L283.7 1022.3 L286.4 1020.8 L289.1 1020.2 L291.8 1018.2 L294.6 1015.9 L297.3 1013.5 L300.0 1011.2 L302.7 1010.0 L305.4 1008.6 L308.2 1006.5 L310.9 1003.9 L313.6 1001.4 L316.3 999.3 L319.1 997.6 L321.8 995.9 L324.5 993.7 L327.2 990.6 L330.0 987.8 L332.7 985.9 L335.4 983.6 L338.1 980.6 L340.9 978.1 L343.6 975.7 L346.3 973.1 L349.0 970.8 L351.8 968.4 L354.5 965.7 L357.2 962.9 L359.9 959.6 L362.6 956.3 L365.4 953.7 L368.1 951.7 L370.8 950.3 L373.5 948.5 L376.3 945.7 L379.0 942.5 L381.7 939.9 L384.4 937.5 L387.2 934.5 L389.9 931.7 L392.6 930.0 L395.3 928.6 L398.1 926.4 L400.8 923.9 L403.5 922.6 L406.2 921.3 L408.9 919.6 L411.7 918.5 L414.4 917.3 L417.1 915.5 L419.8 914.5 L422.6 913.8 L425.3 913.2 L428.0 912.9 L430.7 911.9 L433.5 911.1 L436.2 911.7 L438.9 912.7 L441.6 913.0 L444.4 913.0 L447.1 913.3 L449.8 913.9 L452.5 915.1 L455.3 916.7 L458.0 917.5 L460.7 918.4 L463.4 919.9 L466.1 921.0 L468.9 921.8 L471.6 922.8 L474.3 923.6 L477.0 924.6 L479.8 926.0 L482.5 927.9 L485.2 929.9 L487.9 931.6 L490.7 932.8 L493.4 934.2 L496.1 935.3 L498.8 935.9 L501.6 937.1 L504.3 938.5 L507.0 940.0 L509.7 941.6 L512.5 942.6 L515.2 943.3 L517.9 944.2 L520.6 943.0 L523.3 941.7 L526.1 940.9 L528.8 939.8 L531.5 937.5 L534.2 935.6 L537.0 934.7 L539.7 933.8 L542.4 932.4 L545.1 930.3 L547.9 928.6 L550.6 927.4 L553.3 926.3 L556.0 924.7 L558.8 923.0 L561.5 921.4 L564.2 920.1 L566.9 919.1 L569.7 918.1 L572.4 916.8 L575.1 915.4 L577.8 914.3 L580.5 913.6 L583.3 912.6 L586.0 911.0 L588.7 909.9 L591.4 909.7 L594.2 909.3 L596.9 908.7 L599.6 908.2 L602.3 908.2 L605.1 907.9 L607.8 907.8 L610.5 908.6 L613.2 909.2 L616.0 909.8 L618.7 910.3 L621.4 910.8 L624.1 911.6 L626.9 912.9 L629.6 914.3 L632.3 915.9 L635.0 918.0 L637.7 919.7 L640.5 921.4 L643.2 923.5 L645.9 925.7 L648.6 928.4 L651.4 931.2 L654.1 932.8 L656.8 934.3 L659.5 936.5 L662.3 939.3 L665.0 942.2 L667.7 944.1 L670.4 946.6 L673.2 949.2 L675.9 951.6 L678.6 954.0 L681.3 956.0 L684.0 958.3 L686.8 961.1 L689.5 963.2 L692.2 964.9 L694.9 967.8 L697.7 970.9 L700.4 972.8 L703.1 975.0 L705.8 977.6 L708.6 980.3 L711.3 983.0 L714.0 985.4 L716.7 986.8 L719.5 987.9 L722.2 990.2 L724.9 993.0 L727.6 994.9 L730.4 996.3 L733.1 997.6 L735.8 999.3 L738.5 1001.3 L741.2 1003.4 L744.0 1005.7 L746.7 1007.7 L749.4 1009.6 L752.1 1011.1 L754.9 1012.3 L757.6 1013.4 L760.3 1014.1 L763.0 1015.4 L765.8 1017.7 L768.5 1019.4 L771.2 1019.9 L773.9 1020.9 L776.7 1023.4 L779.4 1025.0 L782.1 1025.7 L784.8 1027.6 L787.6 1029.1 L790.3 1029.5 L793.0 1029.7 L795.7 1030.0 L798.4 1030.9 L801.2 1033.2 L803.9 1034.8 L806.6 1035.1 L809.3 1035.8 L812.1 1037.3 L814.8 1038.6 L817.5 1038.1 L820.2 1038.2 L823.0 1040.3 L825.7 1040.9 L828.4 1040.6 L831.1 1041.9 L833.9 1043.3 L836.6 1044.1 L839.3 1044.6 L842.0 1046.0 L844.8 1048.7 L847.5 1050.4 L850.2 1050.4 L852.9 1050.1 L855.6 1049.3 L858.4 1048.9 L861.1 1049.4 L863.8 1050.2 L866.5 1053.2 L869.3 1056.1 L872.0 1055.0 L874.7 1053.3 L877.4 1054.0 L880.2 1055.2 L882.9 1055.5 L885.6 1054.9 L888.3 1055.9 L891.1 1057.5 L893.8 1057.3 L896.5 1056.4 L899.2 1056.7" stroke="#0fa0af"/>
<path d="M136.6 1075.9 L139.3 1075.8 L142.0 1077.2 L144.7 1077.3 L147.5 1075.8 L150.2 1075.1 L152.9 1073.7 L155.6 1070.8 L158.4 1070.0 L161.1 1070.7 L163.8 1070.9 L166.5 1070.3 L169.3 1069.0 L172.0 1069.0 L174.7 1069.3 L177.4 1068.1 L180.2 1067.3 L182.9 1066.6 L185.6 1065.4 L188.3 1065.0 L191.0 1064.3 L193.8 1062.2 L196.5 1061.4 L199.2 1061.0 L201.9 1059.7 L204.7 1059.0 L207.4 1058.3 L210.1 1056.9 L212.8 1055.4 L215.6 1054.5 L218.3 1054.6 L221.0 1055.1 L223.7 1053.7 L226.5 1050.9 L229.2 1049.1 L231.9 1048.2 L234.6 1047.5 L237.4 1046.5 L240.1 1045.3 L242.8 1043.7 L245.5 1042.5 L248.2 1041.7 L251.0 1039.9 L253.7 1038.7 L256.4 1037.6 L259.1 1035.7 L261.9 1034.2 L264.6 1032.7 L267.3 1030.9 L270.0 1028.9 L272.8 1026.5 L275.5 1025.3 L278.2 1024.7 L280.9 1023.4 L283.7 1021.5 L286.4 1019.4 L289.1 1018.1 L291.8 1016.4 L294.6 1013.4 L297.3 1010.7 L300.0 1008.8 L302.7 1007.4 L305.4 1006.0 L308.2 1003.8 L310.9 1001.7 L313.6 999.1 L316.3 996.3 L319.1 994.5 L321.8 993.0 L324.5 991.0 L327.2 988.8 L330.0 986.0 L332.7 983.0 L335.4 980.5 L338.1 978.6 L340.9 976.3 L343.6 973.4 L346.3 970.4 L349.0 967.7 L351.8 965.7 L354.5 963.9 L357.2 961.7 L359.9 959.0 L362.6 956.5 L365.4 954.5 L368.1 952.4 L370.8 949.8 L373.5 947.1 L376.3 944.4 L379.0 942.0 L381.7 940.2 L384.4 939.0 L387.2 937.4 L389.9 935.1 L392.6 933.1 L395.3 931.4 L398.1 929.6 L400.8 928.1 L403.5 926.8 L406.2 925.6 L408.9 925.0 L411.7 924.2 L414.4 922.8 L417.1 922.1 L419.8 922.1 L422.6 921.9 L425.3 921.4 L428.0 921.6 L430.7 922.3 L433.5 922.1 L436.2 922.1 L438.9 923.1 L441.6 923.9 L444.4 924.5 L447.1 925.9 L449.8 927.6 L452.5 928.6 L455.3 929.4 L458.0 930.1 L460.7 930.9 L463.4 932.4 L466.1 934.3 L468.9 935.6 L471.6 936.4 L474.3 937.4 L477.0 938.9 L479.8 940.9 L482.5 942.8 L485.2 943.8 L487.9 944.6 L490.7 946.1 L493.4 947.5 L496.1 948.7 L498.8 949.9 L501.6 951.0 L504.3 952.4 L507.0 953.9 L509.7 955.3 L512.5 956.4 L515.2 957.0 L517.9 957.9 L520.6 956.6 L523.3 955.2 L526.1 954.5 L528.8 953.8 L531.5 953.0 L534.2 951.8 L537.0 949.6 L539.7 947.5 L542.4 945.9 L545.1 944.6 L547.9 943.3 L550.6 942.1 L553.3 940.8 L556.0 939.0 L558.8 937.1 L561.5 935.6 L564.2 934.0 L566.9 932.7 L569.7 931.3 L572.4 929.7 L575.1 928.3 L577.8 926.6 L580.5 925.2 L583.3 924.3 L586.0 923.1 L588.7 921.5 L591.4 920.2 L594.2 919.8 L596.9 919.3 L599.6 918.4 L602.3 917.7 L605.1 917.5 L607.8 917.5 L610.5 916.7 L613.2 916.1 L616.0 916.2 L618.7 916.6 L621.4 917.9 L624.1 918.6 L626.9 918.7 L629.6 919.7 L632.3 920.7 L635.0 921.7 L637.7 922.8 L640.5 924.1 L643.2 925.5 L645.9 927.5 L648.6 929.6 L651.4 931.2 L654.1 933.0 L656.8 935.7 L659.5 938.0 L662.3 939.3 L665.0 940.6 L667.7 942.4 L670.4 944.6 L673.2 946.9 L675.9 950.5 L678.6 954.4 L681.3 956.6 L684.0 958.4 L686.8 960.4 L689.5 962.0 L692.2 963.4 L694.9 965.8 L697.7 969.0 L700.4 971.0 L703.1 972.3 L705.8 974.8 L708.6 978.2 L711.3 980.4 L714.0 982.1 L716.7 984.8 L719.5 986.8 L722.2 987.8 L724.9 989.5 L727.6 991.6 L730.4 993.4 L733.1 995.8 L735.8 997.8 L738.5 999.4 L741.2 1001.2 L744.0 1003.1 L746.7 1005.6 L749.4 1007.9 L752.1 1009.2 L754.9 1010.6 L757.6 1012.5 L760.3 1014.1 L763.0 1015.1 L765.8 1016.1 L768.5 1017.7 L771.2 1019.9 L773.9 1021.5 L776.7 1021.4 L779.4 1021.7 L782.1 1023.5 L784.8 1025.1 L787.6 1026.0 L790.3 1027.2 L793.0 1028.5 L795.7 1029.4 L798.4 1030.8 L801.2 1031.9 L803.9 1032.2 L806.6 1033.0 L809.3 1035.2 L812.1 1037.2 L814.8 1037.4 L817.5 1037.0 L820.2 1037.7 L823.0 1038.9 L825.7 1039.3 L828.4 1039.8 L831.1 1041.4 L833.9 1043.4 L836.6 1043.8 L839.3 1043.0 L842.0 1043.3 L844.8 1044.9 L847.5 1046.7 L850.2 1046.8 L852.9 1047.2 L855.6 1048.3 L858.4 1048.8 L861.1 1049.7 L863.8 1049.7 L866.5 1049.3 L869.3 1049.1 L872.0 1049.4 L874.7 1051.5 L877.4 1052.5 L880.2 1051.8 L882.9 1052.5 L885.6 1053.5 L888.3 1054.6 L891.1 1055.0 L893.8 1055.0 L896.5 1056.1 L899.2 1056.7" stroke="#1e91b9"/>
<path d="M136.6 1075.8 L139.3 1076.9 L142.0 1077.5 L144.7 1076.6 L147.5 1074.5 L150.2 1072.2 L152.9 1072.4 L155.6 1073.7 L158.4 1072.4 L161.1 1069.3 L163.8 1067.9 L166.5 1068.7 L169.3 1069.5 L172.0 1068.7 L174.7 1067.3 L177.4 1066.5 L180.2 1066.5 L182.9 1065.8 L185.6 1064.3 L188.3 1063.6 L191.0 1062.8 L193.8 1062.6 L196.5 1061.8 L199.2 1059.7 L201.9 1057.5 L204.7 1055.5 L207.4 1054.9 L210.1 1054.7 L212.8 1054.4 L215.6 1054.4 L218.3 1052.9 L221.0 1051.0 L223.7 1050.8 L226.5 1050.0 L229.2 1048.2 L231.9 1047.4 L234.6 1046.6 L237.4 1045.1 L240.1 1043.0 L242.8 1041.2 L245.5 1040.3 L248.2 1038.5 L251.0 1036.2 L253.7 1035.8 L256.4 1035.6 L259.1 1033.8 L261.9 1032.3 L264.6 1030.7 L267.3 1028.4 L270.0 1026.8 L272.8 1025.4 L275.5 1024.0 L278.2 1022.0 L280.9 1020.2 L283.7 1019.2 L286.4 1017.7 L289.1 1015.1 L291.8 1012.6 L294.6 1011.1 L297.3 1009.6 L300.0 1007.8 L302.7 1005.2 L305.4 1002.8 L308.2 1000.7 L310.9 998.5 L313.6 997.3 L316.3 995.6 L319.1 992.3 L321.8 989.1 L324.5 986.8 L327.2 985.0 L330.0 983.5 L332.7 981.6 L335.4 978.7 L338.1 976.3 L340.9 974.3 L343.6 972.1 L346.3 969.9 L349.0 967.1 L351.8 964.5 L354.5 962.8 L357.2 960.7 L359.9 957.6 L362.6 954.9 L365.4 952.6 L368.1 951.0 L370.8 949.7 L373.5 947.6 L376.3 945.8 L379.0 944.4 L381.7 942.1 L384.4 939.7 L387.2 938.0 L389.9 936.7 L392.6 935.0 L395.3 933.3 L398.1 932.8 L400.8 932.2 L403.5 931.3 L406.2 931.6 L408.9 931.5 L411.7 931.0 L414.4 930.9 L417.1 931.1 L419.8 931.5 L422.6 931.6 L425.3 931.4 L428.0 931.7 L430.7 932.5 L433.5 933.3 L436.2 933.7 L438.9 934.5 L441.6 935.8 L444.4 937.4 L447.1 939.3 L449.8 940.9 L452.5 941.6 L455.3 942.4 L458.0 944.0 L460.7 945.4 L463.4 946.5 L466.1 948.0 L468.9 949.4 L471.6 950.6 L474.3 952.0 L477.0 953.9 L479.8 955.6 L482.5 957.1 L485.2 958.7 L487.9 959.7 L490.7 960.5 L493.4 961.9 L496.1 963.9 L498.8 965.3 L501.6 965.8 L504.3 966.0 L507.0 966.6 L509.7 967.8 L512.5 969.5 L515.2 971.0 L517.9 971.8 L520.6 970.5 L523.3 969.5 L526.1 968.3 L528.8 967.0 L531.5 966.2 L534.2 965.3 L537.0 963.8 L539.7 962.4 L542.4 960.7 L545.1 959.3 L547.9 958.5 L550.6 957.0 L553.3 954.9 L556.0 953.4 L558.8 952.4 L561.5 950.9 L564.2 948.3 L566.9 946.6 L569.7 945.8 L572.4 944.7 L575.1 943.0 L577.8 941.4 L580.5 939.9 L583.3 938.3 L586.0 937.1 L588.7 935.6 L591.4 933.5 L594.2 931.7 L596.9 930.5 L599.6 930.0 L602.3 929.2 L605.1 928.0 L607.8 927.3 L610.5 927.2 L613.2 926.5 L616.0 925.4 L618.7 924.8 L621.4 924.7 L624.1 924.7 L626.9 925.1 L629.6 925.2 L632.3 925.2 L635.0 926.3 L637.7 927.0 L640.5 927.7 L643.2 929.1 L645.9 930.3 L648.6 930.9 L651.4 931.5 L654.1 932.7 L656.8 934.8 L659.5 937.4 L662.3 939.7 L665.0 941.4 L667.7 942.9 L670.4 944.7 L673.2 946.7 L675.9 948.8 L678.6 950.7 L681.3 952.8 L684.0 955.1 L686.8 957.4 L689.5 960.1 L692.2 962.7 L694.9 964.6 L697.7 966.0 L700.4 967.9 L703.1 970.3 L705.8 973.1 L708.6 975.5 L711.3 977.7 L714.0 980.0 L716.7 981.2 L719.5 982.5 L722.2 984.8 L724.9 987.1 L727.6 988.5 L730.4 990.1 L733.1 993.3 L735.8 996.2 L738.5 997.7 L741.2 998.2 L744.0 999.4 L746.7 1001.8 L749.4 1003.7 L752.1 1005.2 L754.9 1007.1 L757.6 1008.0 L760.3 1009.0 L763.0 1011.9 L765.8 1013.6 L768.5 1014.3 L771.2 1016.1 L773.9 1017.3 L776.7 1018.2 L779.4 1020.0 L782.1 1021.8 L784.8 1022.9 L787.6 1024.0 L790.3 1025.4 L793.0 1026.5 L795.7 1026.4 L798.4 1027.2 L801.2 1029.2 L803.9 1030.2 L806.6 1031.2 L809.3 1032.2 L812.1 1032.9 L814.8 1034.7 L817.5 1036.8 L820.2 1036.7 L823.0 1036.0 L825.7 1036.7 L828.4 1038.2 L831.1 1039.9 L833.9 1041.6 L836.6 1042.5 L839.3 1041.9 L842.0 1042.7 L844.8 1044.7 L847.5 1044.4 L850.2 1043.5 L852.9 1043.9 L855.6 1045.3 L858.4 1047.1 L861.1 1048.8 L863.8 1049.4 L866.5 1048.9 L869.3 1049.3 L872.0 1049.8 L874.7 1049.5 L877.4 1049.6 L880.2 1049.8 L882.9 1051.1 L885.6 1053.6 L888.3 1054.4 L891.1 1054.4 L893.8 1054.0 L896.5 1053.8 L899.2 1055.4" stroke="#327dc3"/>
<path d="M136.6 1075.0 L139.3 1071.9 L142.0 1072.0 L144.7 1074.1 L147.5 1074.3 L150.2 1072.6 L152.9 1071.1 L155.6 1070.6 L158.4 1069.3 L161.1 1068.2 L163.8 1067.6 L166.5 1066.5 L169.3 1066.0 L172.0 1066.0 L174.7 1065.3 L177.4 1065.2 L180.2 1064.3 L182.9 1061.8 L185.6 1060.1 L188.3 1059.4 L191.0 1060.0 L193.8 1059.9 L196.5 1059.0 L199.2 1058.6 L201.9 1057.4 L204.7 1055.8 L207.4 1055.5 L210.1 1054.6 L212.8 1052.2 L215.6 1050.7 L218.3 1050.0 L221.0 1049.5 L223.7 1048.1 L226.5 1046.0 L229.2 1045.2 L231.9 1044.4 L234.6 1043.0 L237.4 1042.3 L240.1 1041.6 L242.8 1039.6 L245.5 1038.2 L248.2 1038.1 L251.0 1037.1 L253.7 1035.0 L256.4 1033.5 L259.1 1032.1 L261.9 1030.2 L264.6 1028.6 L267.3 1026.7 L270.0 1024.1 L272.8 1022.3 L275.5 1021.5 L278.2 1020.5 L280.9 1018.9 L283.7 1016.8 L286.4 1014.7 L289.1 1012.9 L291.8 1011.3 L294.6 1009.5 L297.3 1007.1 L300.0 1004.4 L302.7 1002.6 L305.4 1000.9 L308.2 998.9 L310.9 996.9 L313.6 994.3 L316.3 991.6 L319.1 989.6 L321.8 987.8 L324.5 984.7 L327.2 981.7 L330.0 979.9 L332.7 977.8 L335.4 975.7 L338.1 973.6 L340.9 971.6 L343.6 969.8 L346.3 968.0 L349.0 965.4 L351.8 962.1 L354.5 960.1 L357.2 959.3 L359.9 957.4 L362.6 954.9 L365.4 952.7 L368.1 950.9 L370.8 949.2 L373.5 947.7 L376.3 946.4 L379.0 945.1 L381.7 943.8 L384.4 942.6 L387.2 941.6 L389.9 941.0 L392.6 940.6 L395.3 940.2 L398.1 939.8 L400.8 939.4 L403.5 938.9 L406.2 939.1 L408.9 939.4 L411.7 939.9 L414.4 940.7 L417.1 940.9 L419.8 941.2 L422.6 942.3 L425.3 944.1 L428.0 945.7 L430.7 946.7 L433.5 947.4 L436.2 948.5 L438.9 950.2 L441.6 951.6 L444.4 952.7 L447.1 953.4 L449.8 954.2 L452.5 955.4 L455.3 957.2 L458.0 959.5 L460.7 961.2 L463.4 962.4 L466.1 963.8 L468.9 965.1 L471.6 966.2 L474.3 967.5 L477.0 969.2 L479.8 970.5 L482.5 971.6 L485.2 972.8 L487.9 973.1 L490.7 973.6 L493.4 975.2 L496.1 976.5 L498.8 977.3 L501.6 978.6 L504.3 979.5 L507.0 979.8 L509.7 981.0 L512.5 982.3 L515.2 982.7 L517.9 983.1 L520.6 982.1 L523.3 981.3 L526.1 980.9 L528.8 980.4 L531.5 979.5 L534.2 977.7 L537.0 975.9 L539.7 975.3 L542.4 974.6 L545.1 972.9 L547.9 971.6 L550.6 970.8 L553.3 969.7 L556.0 968.4 L558.8 966.9 L561.5 965.1 L564.2 963.5 L566.9 962.7 L569.7 962.2 L572.4 960.0 L575.1 957.0 L577.8 955.3 L580.5 953.6 L583.3 951.9 L586.0 951.1 L588.7 949.7 L591.4 947.9 L594.2 946.7 L596.9 944.7 L599.6 942.7 L602.3 941.4 L605.1 940.8 L607.8 940.2 L610.5 938.5 L613.2 936.6 L616.0 935.7 L618.7 935.4 L621.4 935.1 L624.1 934.4 L626.9 933.8 L629.6 934.0 L632.3 933.5 L635.0 932.8 L637.7 933.1 L640.5 933.4 L643.2 933.7 L645.9 934.8 L648.6 935.6 L651.4 936.2 L654.1 936.5 L656.8 936.7 L659.5 938.6 L662.3 940.2 L665.0 941.3 L667.7 943.1 L670.4 944.3 L673.2 945.4 L675.9 947.1 L678.6 949.5 L681.3 951.8 L684.0 953.3 L686.8 955.6 L689.5 958.2 L692.2 959.6 L694.9 961.0 L697.7 964.0 L700.4 967.0 L703.1 968.4 L705.8 969.4 L708.6 971.4 L711.3 974.2 L714.0 976.3 L716.7 978.7 L719.5 980.9 L722.2 981.5 L724.9 983.3 L727.6 986.8 L730.4 989.3 L733.1 990.7 L735.8 992.1 L738.5 993.8 L741.2 996.3 L744.0 998.8 L746.7 1000.9 L749.4 1002.6 L752.1 1004.2 L754.9 1005.7 L757.6 1006.7 L760.3 1007.5 L763.0 1008.4 L765.8 1010.2 L768.5 1012.4 L771.2 1014.0 L773.9 1015.6 L776.7 1016.6 L779.4 1017.1 L782.1 1018.3 L784.8 1020.5 L787.6 1022.1 L790.3 1022.8 L793.0 1024.2 L795.7 1025.7 L798.4 1027.0 L801.2 1028.5 L803.9 1030.0 L806.6 1031.3 L809.3 1031.8 L812.1 1032.2 L814.8 1032.8 L817.5 1033.2 L820.2 1034.3 L823.0 1035.5 L825.7 1037.0 L828.4 1038.6 L831.1 1038.7 L833.9 1039.4 L836.6 1040.3 L839.3 1040.0 L842.0 1040.4 L844.8 1041.4 L847.5 1041.8 L850.2 1042.1 L852.9 1043.0 L855.6 1044.5 L858.4 1046.4 L861.1 1047.6 L863.8 1046.9 L866.5 1046.7 L869.3 1047.0 L872.0 1046.4 L874.7 1048.5 L877.4 1051.1 L880.2 1050.6 L882.9 1050.1 L885.6 1051.6 L888.3 1054.2 L891.1 1055.4 L893.8 1055.1 L896.5 1055.3 L899.2 1054.6" stroke="#4b64c8"/>
<path d="M136.6 1075.3 L139.3 1075.5 L142.0 1074.7 L144.7 1072.7 L147.5 1070.3 L150.2 1068.7 L152.9 1068.0 L155.6 1068.6 L158.4 1070.0 L161.1 1069.1 L163.8 1067.6 L166.5 1066.6 L169.3 1065.2 L172.0 1064.0 L174.7 1062.3 L177.4 1061.7 L180.2 1061.0 L182.9 1059.2 L185.6 1059.5 L188.3 1060.5 L191.0 1059.9 L193.8 1057.9 L196.5 1055.9 L199.2 1055.5 L201.9 1054.7 L204.7 1052.9 L207.4 1052.0 L210.1 1051.7 L212.8 1051.1 L215.6 1049.5 L218.3 1048.3 L221.0 1047.9 L223.7 1046.2 L226.5 1044.0 L229.2 1042.8 L231.9 1042.2 L234.6 1041.8 L237.4 1041.2 L240.1 1039.1 L242.8 1036.6 L245.5 1035.0 L248.2 1034.1 L251.0 1033.2 L253.7 1031.8 L256.4 1030.7 L259.1 1030.0 L261.9 1028.4 L264.6 1026.0 L267.3 1023.9 L270.0 1022.5 L272.8 1021.3 L275.5 1019.7 L278.2 1017.9 L280.9 1016.1 L283.7 1015.0 L286.4 1013.9 L289.1 1011.1 L291.8 1008.2 L294.6 1006.4 L297.3 1004.5 L300.0 1002.2 L302.7 999.8 L305.4 998.3 L308.2 997.6 L310.9 995.5 L313.6 991.9 L316.3 989.7 L319.1 988.3 L321.8 986.5 L324.5 984.3 L327.2 981.8 L330.0 979.2 L332.7 977.0 L335.4 974.8 L338.1 972.4 L340.9 969.8 L343.6 967.8 L346.3 966.6 L349.0 964.9 L351.8 962.8 L354.5 960.8 L357.2 959.8 L359.9 958.7 L362.6 956.5 L365.4 954.5 L368.1 953.0 L370.8 951.6 L373.5 950.4 L376.3 949.2 L379.0 948.8 L381.7 948.6 L384.4 947.3 L387.2 946.5 L389.9 945.7 L392.6 944.8 L395.3 945.2 L398.1 946.2 L400.8 946.3 L403.5 946.4 L406.2 946.9 L408.9 947.3 L411.7 947.7 L414.4 948.6 L417.1 950.2 L419.8 951.4 L422.6 951.6 L425.3 953.0 L428.0 955.0 L430.7 956.0 L433.5 957.3 L436.2 959.0 L438.9 960.0 L441.6 960.7 L444.4 962.0 L447.1 963.7 L449.8 965.6 L452.5 967.5 L455.3 968.7 L458.0 970.1 L460.7 971.8 L463.4 973.0 L466.1 974.6 L468.9 976.6 L471.6 977.5 L474.3 978.2 L477.0 980.2 L479.8 981.6 L482.5 982.4 L485.2 983.9 L487.9 984.9 L490.7 985.2 L493.4 986.6 L496.1 988.5 L498.8 989.0 L501.6 989.4 L504.3 990.5 L507.0 991.8 L509.7 992.9 L512.5 993.5 L515.2 993.3 L517.9 993.1 L520.6 992.9 L523.3 992.4 L526.1 991.2 L528.8 990.6 L531.5 989.8 L534.2 988.5 L537.0 987.6 L539.7 987.0 L542.4 985.8 L545.1 984.0 L547.9 982.3 L550.6 980.9 L553.3 979.3 L556.0 978.4 L558.8 977.8 L561.5 976.9 L564.2 975.1 L566.9 972.8 L569.7 971.2 L572.4 969.5 L575.1 967.4 L577.8 966.0 L580.5 965.0 L583.3 963.8 L586.0 962.1 L588.7 960.5 L591.4 959.1 L594.2 957.4 L596.9 955.8 L599.6 954.1 L602.3 951.9 L605.1 950.5 L607.8 949.1 L610.5 947.6 L613.2 946.9 L616.0 945.9 L618.7 944.7 L621.4 943.5 L624.1 941.8 L626.9 940.4 L629.6 940.0 L632.3 939.8 L635.0 939.9 L637.7 939.9 L640.5 939.2 L643.2 938.9 L645.9 939.6 L648.6 940.0 L651.4 939.3 L654.1 939.2 L656.8 939.9 L659.5 940.8 L662.3 941.6 L665.0 943.2 L667.7 944.5 L670.4 945.5 L673.2 947.3 L675.9 948.6 L678.6 950.3 L681.3 952.5 L684.0 953.6 L686.8 954.7 L689.5 956.7 L692.2 958.5 L694.9 959.9 L697.7 962.2 L700.4 964.7 L703.1 967.5 L705.8 970.0 L708.6 971.0 L711.3 971.9 L714.0 973.6 L716.7 976.0 L719.5 978.8 L722.2 981.2 L724.9 982.3 L727.6 983.3 L730.4 985.9 L733.1 989.1 L735.8 990.8 L738.5 991.7 L741.2 993.0 L744.0 995.0 L746.7 997.3 L749.4 999.0 L752.1 1000.6 L754.9 1002.9 L757.6 1004.3 L760.3 1004.7 L763.0 1005.7 L765.8 1007.3 L768.5 1010.0 L771.2 1012.7 L773.9 1013.8 L776.7 1015.1 L779.4 1016.7 L782.1 1017.7 L784.8 1018.2 L787.6 1019.1 L790.3 1021.1 L793.0 1022.9 L795.7 1024.2 L798.4 1025.2 L801.2 1025.6 L803.9 1026.7 L806.6 1028.1 L809.3 1029.2 L812.1 1030.0 L814.8 1030.8 L817.5 1032.6 L820.2 1034.0 L823.0 1033.9 L825.7 1034.5 L828.4 1036.2 L831.1 1037.6 L833.9 1038.8 L836.6 1039.0 L839.3 1038.9 L842.0 1040.8 L844.8 1042.4 L847.5 1042.8 L850.2 1042.5 L852.9 1041.5 L855.6 1041.1 L858.4 1042.7 L861.1 1045.4 L863.8 1046.9 L866.5 1045.5 L869.3 1044.7 L872.0 1047.8 L874.7 1049.7 L877.4 1048.9 L880.2 1049.3 L882.9 1050.3 L885.6 1050.1 L888.3 1051.0 L891.1 1051.5 L893.8 1050.1 L896.5 1049.4 L899.2 1049.9" stroke="#6450c8"/>
<path d="M136.6 1071.4 L139.3 1070.8 L142.0 1070.3 L144.7 1070.2 L147.5 1069.6 L150.2 1069.3 L152.9 1069.0 L155.6 1068.1 L158.4 1067.0 L161.1 1065.7 L163.8 1065.2 L166.5 1064.9 L169.3 1064.3 L172.0 1064.4 L174.7 1063.9 L177.4 1062.6 L180.2 1061.2 L182.9 1059.7 L185.6 1059.2 L188.3 1059.2 L191.0 1059.5 L193.8 1058.6 L196.5 1056.6 L199.2 1055.1 L201.9 1054.5 L204.7 1053.9 L207.4 1051.6 L210.1 1048.9 L212.8 1047.3 L215.6 1047.1 L218.3 1046.9 L221.0 1045.4 L223.7 1045.1 L226.5 1044.9 L229.2 1043.3 L231.9 1042.7 L234.6 1041.6 L237.4 1039.4 L240.1 1037.6 L242.8 1036.4 L245.5 1035.2 L248.2 1032.7 L251.0 1030.8 L253.7 1030.1 L256.4 1028.9 L259.1 1027.2 L261.9 1025.6 L264.6 1024.8 L267.3 1024.2 L270.0 1022.0 L272.8 1019.2 L275.5 1017.5 L278.2 1016.2 L280.9 1014.5 L283.7 1012.6 L286.4 1011.1 L289.1 1009.2 L291.8 1007.1 L294.6 1005.1 L297.3 1002.9 L300.0 1000.8 L302.7 999.1 L305.4 997.6 L308.2 995.8 L310.9 993.5 L313.6 991.1 L316.3 989.3 L319.1 987.9 L321.8 986.4 L324.5 984.0 L327.2 981.4 L330.0 978.4 L332.7 975.6 L335.4 974.0 L338.1 972.5 L340.9 971.3 L343.6 970.0 L346.3 967.9 L349.0 965.8 L351.8 964.6 L354.5 963.6 L357.2 961.8 L359.9 960.1 L362.6 959.2 L365.4 959.1 L368.1 958.3 L370.8 956.2 L373.5 954.8 L376.3 954.7 L379.0 953.9 L381.7 953.0 L384.4 953.5 L387.2 954.4 L389.9 954.6 L392.6 954.8 L395.3 955.1 L398.1 955.1 L400.8 955.3 L403.5 955.6 L406.2 956.2 L408.9 957.4 L411.7 958.6 L414.4 959.6 L417.1 960.5 L419.8 961.9 L422.6 963.2 L425.3 964.1 L428.0 965.3 L430.7 966.9 L433.5 968.1 L436.2 969.7 L438.9 971.2 L441.6 972.6 L444.4 974.7 L447.1 976.2 L449.8 977.4 L452.5 979.1 L455.3 979.7 L458.0 980.2 L460.7 982.2 L463.4 983.9 L466.1 984.8 L468.9 986.6 L471.6 988.6 L474.3 989.8 L477.0 990.9 L479.8 991.9 L482.5 992.8 L485.2 994.3 L487.9 996.0 L490.7 997.5 L493.4 998.3 L496.1 998.8 L498.8 999.8 L501.6 1001.4 L504.3 1002.3 L507.0 1002.6 L509.7 1003.5 L512.5 1004.1 L515.2 1004.9 L517.9 1006.1 L520.6 1004.8 L523.3 1003.1 L526.1 1002.3 L528.8 1001.7 L531.5 1000.7 L534.2 999.4 L537.0 998.6 L539.7 997.8 L542.4 996.4 L545.1 995.1 L547.9 993.8 L550.6 992.4 L553.3 991.2 L556.0 990.0 L558.8 987.7 L561.5 985.5 L564.2 985.3 L566.9 984.9 L569.7 983.3 L572.4 982.0 L575.1 980.5 L577.8 978.8 L580.5 977.4 L583.3 975.6 L586.0 973.0 L588.7 971.2 L591.4 969.9 L594.2 967.7 L596.9 965.6 L599.6 964.3 L602.3 963.5 L605.1 962.7 L607.8 961.2 L610.5 959.4 L613.2 957.6 L616.0 955.9 L618.7 954.8 L621.4 954.0 L624.1 952.9 L626.9 951.6 L629.6 950.6 L632.3 949.8 L635.0 949.2 L637.7 948.8 L640.5 948.1 L643.2 947.3 L645.9 946.7 L648.6 946.5 L651.4 946.4 L654.1 946.3 L656.8 946.4 L659.5 947.2 L662.3 948.6 L665.0 949.1 L667.7 949.3 L670.4 950.3 L673.2 951.5 L675.9 952.9 L678.6 954.3 L681.3 954.5 L684.0 954.9 L686.8 956.5 L689.5 958.7 L692.2 960.2 L694.9 961.3 L697.7 963.1 L700.4 965.0 L703.1 966.8 L705.8 968.6 L708.6 970.2 L711.3 971.9 L714.0 973.9 L716.7 976.1 L719.5 978.2 L722.2 979.5 L724.9 980.7 L727.6 983.2 L730.4 985.1 L733.1 986.8 L735.8 989.8 L738.5 992.2 L741.2 992.8 L744.0 994.1 L746.7 996.7 L749.4 998.7 L752.1 999.0 L754.9 999.7 L757.6 1002.6 L760.3 1005.2 L763.0 1005.9 L765.8 1007.4 L768.5 1009.1 L771.2 1010.3 L773.9 1011.9 L776.7 1012.7 L779.4 1013.6 L782.1 1015.2 L784.8 1016.7 L787.6 1018.6 L790.3 1021.0 L793.0 1022.2 L795.7 1022.8 L798.4 1024.2 L801.2 1025.1 L803.9 1025.3 L806.6 1025.0 L809.3 1025.2 L812.1 1027.3 L814.8 1029.3 L817.5 1030.1 L820.2 1030.6 L823.0 1031.6 L825.7 1033.0 L828.4 1033.2 L831.1 1032.4 L833.9 1033.1 L836.6 1035.3 L839.3 1037.8 L842.0 1040.1 L844.8 1040.8 L847.5 1041.2 L850.2 1042.1 L852.9 1042.2 L855.6 1041.1 L858.4 1042.1 L861.1 1044.4 L863.8 1044.0 L866.5 1043.1 L869.3 1043.7 L872.0 1045.2 L874.7 1047.4 L877.4 1049.9 L880.2 1050.4 L882.9 1048.7 L885.6 1049.8 L888.3 1051.7 L891.1 1051.1 L893.8 1050.5 L896.5 1051.4 L899.2 1052.1" stroke="#7841c3"/>
<path d="M136.6 1072.2 L139.3 1069.8 L142.0 1067.5 L144.7 1066.8 L147.5 1067.0 L150.2 1068.8 L152.9 1069.6 L155.6 1066.9 L158.4 1064.0 L161.1 1063.6 L163.8 1063.1 L166.5 1061.9 L169.3 1062.0 L172.0 1061.9 L174.7 1060.5 L177.4 1061.4 L180.2 1061.3 L182.9 1058.0 L185.6 1056.3 L188.3 1056.2 L191.0 1054.0 L193.8 1051.6 L196.5 1051.5 L199.2 1052.2 L201.9 1052.2 L204.7 1050.7 L207.4 1048.3 L210.1 1047.7 L212.8 1048.7 L215.6 1046.7 L218.3 1043.8 L221.0 1043.2 L223.7 1042.3 L226.5 1040.9 L229.2 1040.4 L231.9 1039.0 L234.6 1037.4 L237.4 1037.4 L240.1 1036.8 L242.8 1035.6 L245.5 1034.2 L248.2 1032.3 L251.0 1031.0 L253.7 1029.2 L256.4 1026.7 L259.1 1024.2 L261.9 1022.6 L264.6 1022.1 L267.3 1020.9 L270.0 1019.9 L272.8 1018.5 L275.5 1016.3 L278.2 1014.1 L280.9 1012.1 L283.7 1010.8 L286.4 1009.2 L289.1 1007.0 L291.8 1005.6 L294.6 1004.1 L297.3 1002.4 L300.0 1000.3 L302.7 998.3 L305.4 996.7 L308.2 994.7 L310.9 992.6 L313.6 991.1 L316.3 989.5 L319.1 987.9 L321.8 985.9 L324.5 983.4 L327.2 980.8 L330.0 978.7 L332.7 977.3 L335.4 975.8 L338.1 974.0 L340.9 972.8 L343.6 971.6 L346.3 970.1 L349.0 968.4 L351.8 966.8 L354.5 965.6 L357.2 965.4 L359.9 965.4 L362.6 964.6 L365.4 963.5 L368.1 962.6 L370.8 962.0 L373.5 961.9 L376.3 962.0 L379.0 962.5 L381.7 962.7 L384.4 963.0 L387.2 964.1 L389.9 964.8 L392.6 964.7 L395.3 964.9 L398.1 965.8 L400.8 967.1 L403.5 967.6 L406.2 968.2 L408.9 970.1 L411.7 971.6 L414.4 972.9 L417.1 974.3 L419.8 975.8 L422.6 977.3 L425.3 978.0 L428.0 978.8 L430.7 980.8 L433.5 982.7 L436.2 984.2 L438.9 986.1 L441.6 988.1 L444.4 990.2 L447.1 991.9 L449.8 992.6 L452.5 993.1 L455.3 994.4 L458.0 996.3 L460.7 998.1 L463.4 999.4 L466.1 1000.8 L468.9 1002.8 L471.6 1004.0 L474.3 1005.0 L477.0 1006.6 L479.8 1007.4 L482.5 1008.1 L485.2 1009.8 L487.9 1012.0 L490.7 1013.7 L493.4 1013.6 L496.1 1013.6 L498.8 1015.3 L501.6 1017.0 L504.3 1017.9 L507.0 1018.7 L509.7 1019.5 L512.5 1019.6 L515.2 1020.7 L517.9 1022.5 L520.6 1021.6 L523.3 1019.9 L526.1 1018.9 L528.8 1017.9 L531.5 1016.3 L534.2 1015.4 L537.0 1015.1 L539.7 1014.0 L542.4 1012.7 L545.1 1011.4 L547.9 1009.9 L550.6 1008.2 L553.3 1005.9 L556.0 1004.1 L558.8 1003.4 L561.5 1002.5 L564.2 1000.6 L566.9 999.1 L569.7 998.2 L572.4 996.8 L575.1 995.1 L577.8 993.4 L580.5 991.7 L583.3 990.2 L586.0 988.3 L588.7 986.0 L591.4 984.4 L594.2 982.8 L596.9 980.9 L599.6 979.2 L602.3 977.5 L605.1 975.8 L607.8 974.1 L610.5 973.0 L613.2 972.2 L616.0 970.3 L618.7 968.1 L621.4 966.2 L624.1 964.5 L626.9 963.3 L629.6 962.2 L632.3 961.0 L635.0 959.7 L637.7 958.4 L640.5 957.7 L643.2 957.4 L645.9 957.1 L648.6 956.5 L651.4 955.5 L654.1 954.7 L656.8 954.3 L659.5 954.2 L662.3 954.4 L665.0 954.6 L667.7 954.5 L670.4 955.0 L673.2 956.1 L675.9 956.2 L678.6 956.5 L681.3 957.5 L684.0 958.4 L686.8 958.9 L689.5 960.4 L692.2 962.5 L694.9 964.1 L697.7 965.3 L700.4 965.9 L703.1 967.1 L705.8 969.3 L708.6 970.5 L711.3 971.7 L714.0 974.3 L716.7 976.4 L719.5 977.6 L722.2 979.1 L724.9 980.9 L727.6 982.3 L730.4 983.0 L733.1 984.3 L735.8 987.1 L738.5 989.3 L741.2 990.6 L744.0 992.3 L746.7 994.1 L749.4 995.6 L752.1 997.2 L754.9 998.7 L757.6 1000.0 L760.3 1001.2 L763.0 1002.8 L765.8 1004.8 L768.5 1007.0 L771.2 1009.6 L773.9 1011.2 L776.7 1011.2 L779.4 1011.9 L782.1 1014.1 L784.8 1017.0 L787.6 1018.7 L790.3 1018.2 L793.0 1018.3 L795.7 1021.4 L798.4 1023.5 L801.2 1022.5 L803.9 1022.7 L806.6 1024.2 L809.3 1024.9 L812.1 1026.3 L814.8 1029.0 L817.5 1030.4 L820.2 1030.8 L823.0 1031.2 L825.7 1031.4 L828.4 1032.2 L831.1 1033.3 L833.9 1034.2 L836.6 1035.1 L839.3 1036.1 L842.0 1036.6 L844.8 1037.0 L847.5 1038.3 L850.2 1039.2 L852.9 1039.6 L855.6 1040.1 L858.4 1041.3 L861.1 1041.8 L863.8 1042.4 L866.5 1044.3 L869.3 1044.5 L872.0 1043.4 L874.7 1043.6 L877.4 1045.0 L880.2 1046.2 L882.9 1045.8 L885.6 1043.8 L888.3 1043.4 L891.1 1045.5 L893.8 1047.1 L896.5 1048.3 L899.2 1049.3" stroke="#9632be"/>
<path d="M136.6 1071.8 L139.3 1070.0 L142.0 1066.5 L144.7 1065.5 L147.5 1065.1 L150.2 1064.2 L152.9 1063.7 L155.6 1062.3 L158.4 1061.0 L161.1 1061.3 L163.8 1061.6 L166.5 1060.9 L169.3 1059.9 L172.0 1059.2 L174.7 1058.5 L177.4 1057.2 L180.2 1055.9 L182.9 1054.9 L185.6 1053.8 L188.3 1053.7 L191.0 1054.4 L193.8 1054.0 L196.5 1053.1 L199.2 1052.0 L201.9 1050.8 L204.7 1049.5 L207.4 1048.3 L210.1 1047.5 L212.8 1046.9 L215.6 1046.0 L218.3 1044.6 L221.0 1043.1 L223.7 1041.0 L226.5 1038.8 L229.2 1038.5 L231.9 1038.9 L234.6 1038.0 L237.4 1036.7 L240.1 1035.8 L242.8 1034.0 L245.5 1031.2 L248.2 1029.3 L251.0 1028.3 L253.7 1026.6 L256.4 1024.5 L259.1 1023.4 L261.9 1022.4 L264.6 1020.3 L267.3 1018.5 L270.0 1017.5 L272.8 1016.0 L275.5 1014.2 L278.2 1012.4 L280.9 1010.1 L283.7 1008.6 L286.4 1007.1 L289.1 1004.6 L291.8 1002.1 L294.6 1000.9 L297.3 1000.1 L300.0 998.6 L302.7 997.2 L305.4 995.6 L308.2 992.7 L310.9 989.5 L313.6 987.7 L316.3 986.9 L319.1 985.2 L321.8 982.9 L324.5 981.5 L327.2 980.1 L330.0 978.2 L332.7 976.4 L335.4 975.6 L338.1 974.8 L340.9 973.5 L343.6 973.2 L346.3 972.3 L349.0 971.0 L351.8 970.4 L354.5 969.3 L357.2 968.9 L359.9 968.8 L362.6 968.1 L365.4 966.9 L368.1 966.3 L370.8 966.3 L373.5 966.2 L376.3 967.6 L379.0 969.4 L381.7 969.4 L384.4 969.5 L387.2 971.3 L389.9 972.8 L392.6 973.8 L395.3 974.7 L398.1 976.1 L400.8 978.0 L403.5 979.7 L406.2 981.0 L408.9 981.9 L411.7 983.2 L414.4 984.8 L417.1 986.3 L419.8 987.7 L422.6 988.9 L425.3 989.8 L428.0 991.1 L430.7 993.4 L433.5 995.7 L436.2 997.4 L438.9 998.1 L441.6 998.9 L444.4 1000.8 L447.1 1002.7 L449.8 1004.5 L452.5 1006.3 L455.3 1007.3 L458.0 1008.4 L460.7 1010.1 L463.4 1011.2 L466.1 1012.4 L468.9 1013.6 L471.6 1014.2 L474.3 1015.8 L477.0 1018.1 L479.8 1018.9 L482.5 1019.1 L485.2 1019.6 L487.9 1020.4 L490.7 1021.9 L493.4 1023.6 L496.1 1024.2 L498.8 1024.8 L501.6 1026.6 L504.3 1027.8 L507.0 1028.0 L509.7 1029.1 L512.5 1030.4 L515.2 1030.8 L517.9 1031.0 L520.6 1030.5 L523.3 1029.6 L526.1 1028.1 L528.8 1027.1 L531.5 1026.4 L534.2 1025.3 L537.0 1024.3 L539.7 1023.5 L542.4 1022.6 L545.1 1021.5 L547.9 1020.0 L550.6 1018.4 L553.3 1017.0 L556.0 1016.2 L558.8 1014.6 L561.5 1012.7 L564.2 1011.8 L566.9 1010.2 L569.7 1008.2 L572.4 1007.1 L575.1 1006.2 L577.8 1004.2 L580.5 1002.7 L583.3 1002.5 L586.0 1001.2 L588.7 999.3 L591.4 997.4 L594.2 995.1 L596.9 993.4 L599.6 991.9 L602.3 990.1 L605.1 988.3 L607.8 986.6 L610.5 985.0 L613.2 982.8 L616.0 980.6 L618.7 979.5 L621.4 978.4 L624.1 976.9 L626.9 975.3 L629.6 973.3 L632.3 971.9 L635.0 970.8 L637.7 969.6 L640.5 967.9 L643.2 966.5 L645.9 965.4 L648.6 963.8 L651.4 962.8 L654.1 962.7 L656.8 962.0 L659.5 960.5 L662.3 959.8 L665.0 959.9 L667.7 958.9 L670.4 958.3 L673.2 959.5 L675.9 960.1 L678.6 960.2 L681.3 960.3 L684.0 960.7 L686.8 961.6 L689.5 961.7 L692.2 962.0 L694.9 963.5 L697.7 964.7 L700.4 965.3 L703.1 966.5 L705.8 967.6 L708.6 968.5 L711.3 969.9 L714.0 972.0 L716.7 973.7 L719.5 974.8 L722.2 976.5 L724.9 978.2 L727.6 979.8 L730.4 981.7 L733.1 983.4 L735.8 985.0 L738.5 987.2 L741.2 988.9 L744.0 989.8 L746.7 991.1 L749.4 992.9 L752.1 995.3 L754.9 997.5 L757.6 998.9 L760.3 1000.8 L763.0 1002.6 L765.8 1003.7 L768.5 1004.6 L771.2 1006.0 L773.9 1007.6 L776.7 1009.3 L779.4 1010.4 L782.1 1011.3 L784.8 1012.9 L787.6 1014.3 L790.3 1015.3 L793.0 1016.4 L795.7 1017.9 L798.4 1019.5 L801.2 1020.8 L803.9 1022.9 L806.6 1024.5 L809.3 1025.1 L812.1 1024.5 L814.8 1024.6 L817.5 1026.4 L820.2 1028.0 L823.0 1028.9 L825.7 1029.2 L828.4 1030.4 L831.1 1031.4 L833.9 1032.3 L836.6 1032.9 L839.3 1032.9 L842.0 1033.6 L844.8 1034.6 L847.5 1037.0 L850.2 1038.9 L852.9 1037.5 L855.6 1036.6 L858.4 1039.1 L861.1 1041.6 L863.8 1040.7 L866.5 1040.4 L869.3 1042.3 L872.0 1042.9 L874.7 1043.1 L877.4 1044.2 L880.2 1045.2 L882.9 1046.3 L885.6 1047.2 L888.3 1047.2 L891.1 1048.6 L893.8 1050.9 L896.5 1051.4 L899.2 1050.3" stroke="#a523b4"/>
<path d="M136.6 1067.3 L139.3 1067.0 L142.0 1067.6 L144.7 1066.4 L147.5 1065.2 L150.2 1064.8 L152.9 1063.6 L155.6 1062.9 L158.4 1062.4 L161.1 1061.6 L163.8 1060.1 L166.5 1059.2 L169.3 1059.5 L172.0 1058.9 L174.7 1057.2 L177.4 1055.7 L180.2 1055.3 L182.9 1054.5 L185.6 1053.2 L188.3 1053.2 L191.0 1052.9 L193.8 1051.8 L196.5 1050.0 L199.2 1048.9 L201.9 1048.2 L204.7 1047.4 L207.4 1046.3 L210.1 1045.2 L212.8 1044.9 L215.6 1043.9 L218.3 1042.4 L221.0 1041.6 L223.7 1040.4 L226.5 1038.7 L229.2 1037.1 L231.9 1036.7 L234.6 1036.2 L237.4 1034.1 L240.1 1031.8 L242.8 1030.2 L245.5 1028.6 L248.2 1026.9 L251.0 1026.5 L253.7 1025.3 L256.4 1023.0 L259.1 1021.5 L261.9 1019.9 L264.6 1017.7 L267.3 1015.4 L270.0 1013.7 L272.8 1012.8 L275.5 1011.9 L278.2 1009.9 L280.9 1007.9 L283.7 1006.1 L286.4 1003.8 L289.1 1002.5 L291.8 1001.1 L294.6 998.7 L297.3 997.3 L300.0 996.2 L302.7 994.2 L305.4 992.0 L308.2 990.6 L310.9 989.2 L313.6 987.4 L316.3 986.0 L319.1 985.0 L321.8 984.0 L324.5 982.7 L327.2 981.8 L330.0 980.5 L332.7 978.2 L335.4 976.7 L338.1 976.0 L340.9 975.7 L343.6 975.1 L346.3 974.1 L349.0 973.3 L351.8 972.8 L354.5 972.5 L357.2 971.3 L359.9 971.0 L362.6 972.0 L365.4 972.0 L368.1 972.0 L370.8 972.5 L373.5 973.5 L376.3 975.0 L379.0 976.1 L381.7 976.1 L384.4 976.4 L387.2 977.5 L389.9 978.3 L392.6 979.5 L395.3 981.9 L398.1 983.8 L400.8 984.4 L403.5 985.2 L406.2 987.0 L408.9 989.0 L411.7 989.5 L414.4 989.8 L417.1 992.0 L419.8 994.7 L422.6 996.2 L425.3 997.5 L428.0 999.0 L430.7 1001.1 L433.5 1003.7 L436.2 1005.3 L438.9 1006.3 L441.6 1007.6 L444.4 1008.9 L447.1 1010.5 L449.8 1012.3 L452.5 1014.1 L455.3 1015.1 L458.0 1015.9 L460.7 1017.4 L463.4 1018.8 L466.1 1020.4 L468.9 1021.9 L471.6 1023.0 L474.3 1024.0 L477.0 1025.3 L479.8 1026.7 L482.5 1027.3 L485.2 1028.4 L487.9 1029.9 L490.7 1031.2 L493.4 1032.7 L496.1 1033.2 L498.8 1033.5 L501.6 1034.9 L504.3 1036.5 L507.0 1037.1 L509.7 1037.8 L512.5 1038.8 L515.2 1039.9 L517.9 1040.9 L520.6 1039.5 L523.3 1038.7 L526.1 1038.4 L528.8 1037.5 L531.5 1036.1 L534.2 1034.8 L537.0 1033.8 L539.7 1032.5 L542.4 1030.9 L545.1 1029.6 L547.9 1028.4 L550.6 1027.0 L553.3 1025.2 L556.0 1023.6 L558.8 1022.2 L561.5 1021.0 L564.2 1019.5 L566.9 1018.0 L569.7 1016.7 L572.4 1015.0 L575.1 1013.9 L577.8 1013.2 L580.5 1011.3 L583.3 1009.5 L586.0 1007.9 L588.7 1005.8 L591.4 1004.2 L594.2 1002.6 L596.9 1000.8 L599.6 999.2 L602.3 997.5 L605.1 996.8 L607.8 996.0 L610.5 993.8 L613.2 991.0 L616.0 988.7 L618.7 987.0 L621.4 986.0 L624.1 984.7 L626.9 983.1 L629.6 981.5 L632.3 979.4 L635.0 977.3 L637.7 975.7 L640.5 974.1 L643.2 972.9 L645.9 971.9 L648.6 970.7 L651.4 969.5 L654.1 968.3 L656.8 967.6 L659.5 967.0 L662.3 966.3 L665.0 965.4 L667.7 964.5 L670.4 964.1 L673.2 963.3 L675.9 963.3 L678.6 963.9 L681.3 963.9 L684.0 963.2 L686.8 962.7 L689.5 963.8 L692.2 965.2 L694.9 965.4 L697.7 965.6 L700.4 966.2 L703.1 967.0 L705.8 968.6 L708.6 970.1 L711.3 970.5 L714.0 971.4 L716.7 973.4 L719.5 974.8 L722.2 974.9 L724.9 976.6 L727.6 979.8 L730.4 981.9 L733.1 983.2 L735.8 984.6 L738.5 986.1 L741.2 987.3 L744.0 988.3 L746.7 989.6 L749.4 991.8 L752.1 994.6 L754.9 996.5 L757.6 997.8 L760.3 998.8 L763.0 999.7 L765.8 1001.3 L768.5 1002.4 L771.2 1002.9 L773.9 1004.2 L776.7 1006.4 L779.4 1008.7 L782.1 1010.8 L784.8 1012.7 L787.6 1013.7 L790.3 1014.1 L793.0 1015.5 L795.7 1017.2 L798.4 1017.8 L801.2 1017.9 L803.9 1018.9 L806.6 1020.3 L809.3 1021.4 L812.1 1022.0 L814.8 1022.6 L817.5 1024.0 L820.2 1025.3 L823.0 1026.0 L825.7 1027.0 L828.4 1027.8 L831.1 1029.3 L833.9 1031.3 L836.6 1032.6 L839.3 1032.9 L842.0 1032.6 L844.8 1033.5 L847.5 1035.0 L850.2 1035.8 L852.9 1036.1 L855.6 1036.9 L858.4 1037.7 L861.1 1037.4 L863.8 1038.3 L866.5 1041.8 L869.3 1044.1 L872.0 1043.4 L874.7 1041.6 L877.4 1040.8 L880.2 1042.0 L882.9 1043.6 L885.6 1046.1 L888.3 1048.7 L891.1 1048.0 L893.8 1046.4 L896.5 1047.5 L899.2 1048.5" stroke="#b414aa"/>
<path d="M136.6 1068.6 L139.3 1067.5 L142.0 1065.3 L144.7 1063.1 L147.5 1062.0 L150.2 1061.3 L152.9 1060.4 L155.6 1060.1 L158.4 1059.8 L161.1 1060.9 L163.8 1061.8 L166.5 1060.5 L169.3 1058.6 L172.0 1057.6 L174.7 1057.0 L177.4 1055.3 L180.2 1053.6 L182.9 1052.8 L185.6 1052.2 L188.3 1052.2 L191.0 1052.8 L193.8 1052.4 L196.5 1050.3 L199.2 1047.9 L201.9 1046.4 L204.7 1046.0 L207.4 1046.0 L210.1 1045.1 L212.8 1042.9 L215.6 1041.3 L218.3 1041.2 L221.0 1039.9 L223.7 1037.2 L226.5 1036.0 L229.2 1035.3 L231.9 1033.6 L234.6 1032.8 L237.4 1032.5 L240.1 1031.1 L242.8 1029.5 L245.5 1027.7 L248.2 1025.0 L251.0 1022.7 L253.7 1021.2 L256.4 1019.7 L259.1 1018.4 L261.9 1017.0 L264.6 1015.7 L267.3 1015.7 L270.0 1014.7 L272.8 1011.8 L275.5 1009.2 L278.2 1007.0 L280.9 1005.7 L283.7 1005.1 L286.4 1003.6 L289.1 1001.4 L291.8 999.4 L294.6 997.4 L297.3 996.2 L300.0 995.3 L302.7 993.7 L305.4 992.0 L308.2 990.5 L310.9 988.7 L313.6 986.1 L316.3 983.9 L319.1 983.2 L321.8 983.3 L324.5 983.1 L327.2 981.9 L330.0 980.2 L332.7 979.3 L335.4 978.9 L338.1 978.6 L340.9 977.8 L343.6 975.8 L346.3 975.2 L349.0 976.1 L351.8 976.6 L354.5 977.0 L357.2 976.8 L359.9 976.3 L362.6 977.1 L365.4 978.2 L368.1 978.1 L370.8 978.6 L373.5 980.2 L376.3 981.3 L379.0 981.7 L381.7 982.3 L384.4 984.3 L387.2 986.1 L389.9 986.9 L392.6 987.7 L395.3 989.1 L398.1 991.3 L400.8 993.6 L403.5 995.2 L406.2 996.4 L408.9 998.8 L411.7 1000.5 L414.4 1001.1 L417.1 1001.8 L419.8 1003.0 L422.6 1005.0 L425.3 1007.3 L428.0 1009.0 L430.7 1010.1 L433.5 1011.3 L436.2 1012.8 L438.9 1014.2 L441.6 1015.7 L444.4 1016.8 L447.1 1017.6 L449.8 1018.9 L452.5 1021.0 L455.3 1022.9 L458.0 1023.4 L460.7 1024.3 L463.4 1026.0 L466.1 1027.6 L468.9 1029.0 L471.6 1030.2 L474.3 1032.0 L477.0 1033.8 L479.8 1035.0 L482.5 1035.9 L485.2 1036.8 L487.9 1037.6 L490.7 1039.0 L493.4 1040.9 L496.1 1042.0 L498.8 1042.7 L501.6 1043.0 L504.3 1043.6 L507.0 1045.2 L509.7 1046.5 L512.5 1047.4 L515.2 1047.6 L517.9 1048.1 L520.6 1047.6 L523.3 1046.8 L526.1 1045.6 L528.8 1045.0 L531.5 1044.1 L534.2 1042.4 L537.0 1040.9 L539.7 1039.6 L542.4 1038.4 L545.1 1037.3 L547.9 1036.2 L550.6 1035.4 L553.3 1033.9 L556.0 1032.0 L558.8 1030.5 L561.5 1029.2 L564.2 1028.0 L566.9 1026.7 L569.7 1025.3 L572.4 1024.1 L575.1 1022.8 L577.8 1021.0 L580.5 1018.9 L583.3 1017.6 L586.0 1016.5 L588.7 1015.2 L591.4 1014.0 L594.2 1012.2 L596.9 1009.9 L599.6 1008.5 L602.3 1007.2 L605.1 1005.0 L607.8 1003.0 L610.5 1002.1 L613.2 1000.7 L616.0 998.5 L618.7 996.3 L621.4 994.5 L624.1 993.0 L626.9 991.3 L629.6 989.4 L632.3 987.6 L635.0 986.3 L637.7 984.7 L640.5 982.9 L643.2 981.6 L645.9 980.6 L648.6 979.4 L651.4 977.1 L654.1 975.7 L656.8 975.5 L659.5 974.1 L662.3 971.7 L665.0 970.3 L667.7 969.7 L670.4 969.0 L673.2 968.2 L675.9 968.3 L678.6 968.9 L681.3 968.4 L684.0 967.8 L686.8 967.8 L689.5 967.7 L692.2 967.4 L694.9 967.1 L697.7 967.8 L700.4 968.7 L703.1 968.8 L705.8 968.8 L708.6 970.3 L711.3 972.2 L714.0 973.3 L716.7 973.6 L719.5 973.9 L722.2 975.5 L724.9 977.5 L727.6 978.8 L730.4 979.8 L733.1 981.5 L735.8 983.7 L738.5 985.4 L741.2 986.8 L744.0 988.3 L746.7 989.5 L749.4 990.3 L752.1 991.8 L754.9 993.4 L757.6 994.8 L760.3 996.5 L763.0 998.2 L765.8 1000.1 L768.5 1001.9 L771.2 1003.6 L773.9 1005.4 L776.7 1006.0 L779.4 1006.8 L782.1 1008.7 L784.8 1009.1 L787.6 1009.5 L790.3 1011.2 L793.0 1012.1 L795.7 1013.6 L798.4 1016.9 L801.2 1019.0 L803.9 1018.4 L806.6 1018.5 L809.3 1020.4 L812.1 1021.4 L814.8 1022.8 L817.5 1024.3 L820.2 1024.8 L823.0 1026.2 L825.7 1027.1 L828.4 1027.4 L831.1 1028.9 L833.9 1030.8 L836.6 1032.3 L839.3 1034.0 L842.0 1034.6 L844.8 1033.5 L847.5 1033.4 L850.2 1035.1 L852.9 1036.2 L855.6 1036.2 L858.4 1037.0 L861.1 1038.1 L863.8 1037.2 L866.5 1036.1 L869.3 1037.3 L872.0 1039.0 L874.7 1040.3 L877.4 1042.1 L880.2 1042.1 L882.9 1043.2 L885.6 1044.5 L888.3 1042.9 L891.1 1041.9 L893.8 1041.4 L896.5 1042.3 L899.2 1044.7" stroke="#be0fa5"/>
<path d="M136.6 1064.4 L139.3 1065.4 L142.0 1066.6 L144.7 1065.5 L147.5 1064.5 L150.2 1063.1 L152.9 1060.8 L155.6 1059.4 L158.4 1059.2 L161.1 1058.5 L163.8 1056.7 L166.5 1057.1 L169.3 1058.5 L172.0 1057.6 L174.7 1055.5 L177.4 1053.5 L180.2 1053.3 L182.9 1054.3 L185.6 1052.6 L188.3 1049.5 L191.0 1048.2 L193.8 1047.6 L196.5 1047.4 L199.2 1047.6 L201.9 1047.0 L204.7 1045.5 L207.4 1043.9 L210.1 1042.1 L212.8 1041.5 L215.6 1041.4 L218.3 1040.6 L221.0 1039.4 L223.7 1036.8 L226.5 1033.7 L229.2 1032.0 L231.9 1030.9 L234.6 1029.5 L237.4 1028.5 L240.1 1028.1 L242.8 1027.2 L245.5 1025.6 L248.2 1023.6 L251.0 1022.2 L253.7 1020.9 L256.4 1018.1 L259.1 1016.7 L261.9 1016.3 L264.6 1014.1 L267.3 1012.6 L270.0 1011.8 L272.8 1009.3 L275.5 1006.7 L278.2 1005.8 L280.9 1004.8 L283.7 1002.3 L286.4 999.5 L289.1 998.1 L291.8 996.5 L294.6 994.7 L297.3 993.3 L300.0 991.7 L302.7 990.5 L305.4 989.2 L308.2 987.9 L310.9 986.4 L313.6 984.7 L316.3 984.4 L319.1 983.9 L321.8 982.7 L324.5 982.0 L327.2 981.7 L330.0 981.0 L332.7 980.2 L335.4 979.9 L338.1 979.9 L340.9 980.6 L343.6 981.7 L346.3 981.8 L349.0 981.6 L351.8 981.8 L354.5 982.2 L357.2 983.0 L359.9 984.1 L362.6 985.5 L365.4 986.7 L368.1 987.3 L370.8 988.1 L373.5 989.4 L376.3 990.9 L379.0 991.9 L381.7 993.0 L384.4 995.0 L387.2 996.2 L389.9 997.2 L392.6 999.4 L395.3 1001.6 L398.1 1003.2 L400.8 1004.3 L403.5 1005.7 L406.2 1007.8 L408.9 1009.4 L411.7 1010.6 L414.4 1012.2 L417.1 1013.9 L419.8 1015.7 L422.6 1017.6 L425.3 1018.7 L428.0 1019.7 L430.7 1021.2 L433.5 1022.5 L436.2 1024.0 L438.9 1025.4 L441.6 1026.8 L444.4 1028.5 L447.1 1030.0 L449.8 1031.4 L452.5 1033.1 L455.3 1034.6 L458.0 1034.9 L460.7 1035.3 L463.4 1036.1 L466.1 1037.0 L468.9 1038.7 L471.6 1040.2 L474.3 1040.5 L477.0 1041.1 L479.8 1042.4 L482.5 1044.2 L485.2 1045.6 L487.9 1046.5 L490.7 1047.5 L493.4 1048.4 L496.1 1049.6 L498.8 1050.7 L501.6 1050.8 L504.3 1051.6 L507.0 1052.7 L509.7 1053.6 L512.5 1054.9 L515.2 1055.7 L517.9 1056.1 L520.6 1055.3 L523.3 1054.0 L526.1 1052.1 L528.8 1050.8 L531.5 1050.5 L534.2 1050.1 L537.0 1048.8 L539.7 1047.1 L542.4 1045.8 L545.1 1045.0 L547.9 1044.1 L550.6 1042.9 L553.3 1041.7 L556.0 1041.3 L558.8 1040.2 L561.5 1038.1 L564.2 1036.7 L566.9 1035.6 L569.7 1034.1 L572.4 1032.5 L575.1 1031.2 L577.8 1030.5 L580.5 1029.6 L583.3 1027.9 L586.0 1026.8 L588.7 1025.5 L591.4 1024.0 L594.2 1022.9 L596.9 1021.2 L599.6 1018.4 L602.3 1016.5 L605.1 1015.7 L607.8 1014.2 L610.5 1012.3 L613.2 1011.1 L616.0 1010.0 L618.7 1008.4 L621.4 1006.6 L624.1 1004.6 L626.9 1002.5 L629.6 1000.5 L632.3 999.1 L635.0 997.8 L637.7 996.2 L640.5 994.1 L643.2 992.5 L645.9 991.4 L648.6 989.3 L651.4 987.2 L654.1 985.8 L656.8 984.0 L659.5 982.6 L662.3 981.6 L665.0 979.5 L667.7 977.9 L670.4 977.1 L673.2 975.6 L675.9 974.4 L678.6 974.1 L681.3 973.8 L684.0 972.7 L686.8 971.8 L689.5 971.4 L692.2 970.8 L694.9 970.5 L697.7 970.8 L700.4 971.0 L703.1 970.6 L705.8 970.7 L708.6 970.9 L711.3 970.9 L714.0 971.8 L716.7 972.8 L719.5 973.6 L722.2 974.7 L724.9 975.0 L727.6 975.7 L730.4 977.3 L733.1 979.3 L735.8 981.4 L738.5 982.4 L741.2 983.6 L744.0 985.0 L746.7 986.2 L749.4 988.3 L752.1 989.5 L754.9 990.1 L757.6 991.4 L760.3 993.8 L763.0 995.8 L765.8 996.3 L768.5 997.4 L771.2 1000.0 L773.9 1002.3 L776.7 1003.7 L779.4 1005.0 L782.1 1005.4 L784.8 1005.4 L787.6 1007.1 L790.3 1010.0 L793.0 1011.4 L795.7 1011.8 L798.4 1012.9 L801.2 1014.5 L803.9 1016.4 L806.6 1017.4 L809.3 1018.3 L812.1 1019.1 L814.8 1019.9 L817.5 1021.4 L820.2 1022.6 L823.0 1023.7 L825.7 1025.5 L828.4 1027.0 L831.1 1028.2 L833.9 1029.4 L836.6 1029.2 L839.3 1030.3 L842.0 1032.1 L844.8 1031.2 L847.5 1032.2 L850.2 1035.1 L852.9 1035.2 L855.6 1035.4 L858.4 1036.9 L861.1 1036.7 L863.8 1035.3 L866.5 1034.5 L869.3 1035.9 L872.0 1039.3 L874.7 1041.1 L877.4 1039.6 L880.2 1038.8 L882.9 1040.1 L885.6 1040.9 L888.3 1040.7 L891.1 1040.7 L893.8 1041.2 L896.5 1042.8 L899.2 1044.8" stroke="#c81991"/>
</g>
<rect x="136.5" y="649.6" width="762.3" height="508.6" fill="none" stroke="#000" stroke-width="2.8"/>
<path d="M136.5 679.9 h10.5 M136.5 801.0 h10.5 M136.5 922.1 h10.5 M136.5 1043.2 h10.5 M300.0 1158.2 v-10.5 M517.9 1158.2 v-10.5 M735.8 1158.2 v-10.5" stroke="#000" stroke-width="2.8"/>
<text x="29.4" y="676.7" font-size="45" font-weight="bold">b</text>
<text x="130.6" y="690.6" font-size="30" text-anchor="end">1.0</text>
<text x="130.6" y="811.7" font-size="30" text-anchor="end">0.8</text>
<text x="130.6" y="932.8" font-size="30" text-anchor="end">0.6</text>
<text x="130.6" y="1053.9" font-size="30" text-anchor="end">0.4</text>
<text x="300.0" y="1192.6" font-size="30" text-anchor="middle">-2</text>
<text x="517.9" y="1192.6" font-size="30" text-anchor="middle">0</text>
<text x="735.8" y="1192.6" font-size="30" text-anchor="middle">2</text>
<text x="447.2" y="1247" font-size="36" font-style="italic">eV/k</text><text x="517.1" y="1254.5" font-size="23">B</text><text x="535.8" y="1247" font-size="36" font-style="italic">T</text><text x="555.2" y="1254.5" font-size="23">K</text>
<g transform="translate(66.3,0) rotate(-90)" font-size="36"><text x="-1002.7" y="0" font-style="italic">dI/dV</text><text x="-910.1" y="0">(</text><text x="-899.8" y="0">2e</text><text x="-859.3" y="-24.4" font-size="24.5">2</text><text x="-845.6" y="0">/h)</text></g>
<text x="272.5" y="709.2" font-size="36" fill="#d46060">0 T</text>
<text x="258.6" y="948.2" font-size="36" fill="#c81991">2.5 T</text>
<path d="M294.2 724.2 V882" stroke="#000" stroke-width="2.8"/>
<path d="M294.2 897.3 L285.7 880 L302.7 880 Z"/>
<path d="M340.8 981.5 V1082.2 M704.6 981.0 V1082.6" stroke="#000" stroke-width="2.9" stroke-dasharray="11.5 11"/>
<path d="M372 1066.4 H671" stroke="#000" stroke-width="2.8"/>
<path d="M342.4 1066.4 L373.9 1057.4 L373.9 1075.2 Z M701.2 1066.6 L669.7 1057.6 L669.7 1075.4 Z"/>
<text x="502" y="1109.8" font-size="36">2<tspan font-family="Liberation Serif" font-size="36">Δ</tspan></text>
<rect x="693.3" y="687.3" width="169.1" height="169.0" fill="#fff" fill-opacity="0" stroke="#000" stroke-width="2.4"/>
<path d="M693.3 771.6 h10.3 M772.5 856.3 v-5.4 M851.1 856.3 v-10" stroke="#000" stroke-width="2.4"/>
<path d="M731.7 856 L859.7 715.4" stroke="#000" stroke-width="3" stroke-dasharray="6 5.5"/>
<circle cx="746.3" cy="839.7" r="3.3" fill="#ff5500"/>
<circle cx="752.6" cy="834.8" r="3.3" fill="#ff5500"/>
<circle cx="759.3" cy="827.3" r="3.3" fill="#ff5500"/>
<circle cx="766.2" cy="821" r="3.3" fill="#ff5500"/>
<circle cx="772.9" cy="810.1" r="3.3" fill="#ff5500"/>
<circle cx="779.5" cy="802.8" r="3.3" fill="#ff5500"/>
<circle cx="785.8" cy="796.5" r="3.3" fill="#ff5500"/>
<circle cx="792.7" cy="790.3" r="3.3" fill="#ff5500"/>
<circle cx="799.4" cy="782.9" r="3.3" fill="#ff5500"/>
<circle cx="806.1" cy="774.9" r="3.3" fill="#ff5500"/>
<circle cx="812.8" cy="765.8" r="3.3" fill="#ff5500"/>
<circle cx="819.4" cy="759.5" r="3.3" fill="#ff5500"/>
<circle cx="826.1" cy="753.7" r="3.3" fill="#ff5500"/>
<circle cx="832.8" cy="745.9" r="3.3" fill="#ff5500"/>
<circle cx="839.3" cy="736.8" r="3.3" fill="#ff5500"/>
<circle cx="846.1" cy="732.1" r="3.3" fill="#ff5500"/>
<circle cx="852.8" cy="725.9" r="3.3" fill="#ff5500"/>
<circle cx="859.1" cy="716.8" r="3.3" fill="#ff5500"/>
<text x="672.0" y="696.6" font-size="27">4</text>
<text x="672.0" y="781.0" font-size="27">2</text>
<text x="672.0" y="865.8" font-size="27">0</text>
<text x="693.3" y="888.5" font-size="27.5" text-anchor="middle">0.0</text>
<text x="851.6" y="888.5" font-size="27.5" text-anchor="middle">1.0</text>
<g transform="translate(650.5,0) rotate(-90)" font-size="30"><text x="-850.8" y="0">Splitting, 2</text><text x="-710.9" y="0" font-family="Liberation Serif">Δ</text></g>
<g font-size="28"><text x="716.6" y="929">μ</text><text x="733.7" y="936.8" font-size="21">B</text><text x="750.1" y="929" font-style="italic">B/k</text><text x="791.1" y="936.8" font-size="21">B</text><text x="810.5" y="929" font-style="italic">T</text><text x="823.5" y="936.8" font-size="21">K</text></g>
</svg></body></html>
